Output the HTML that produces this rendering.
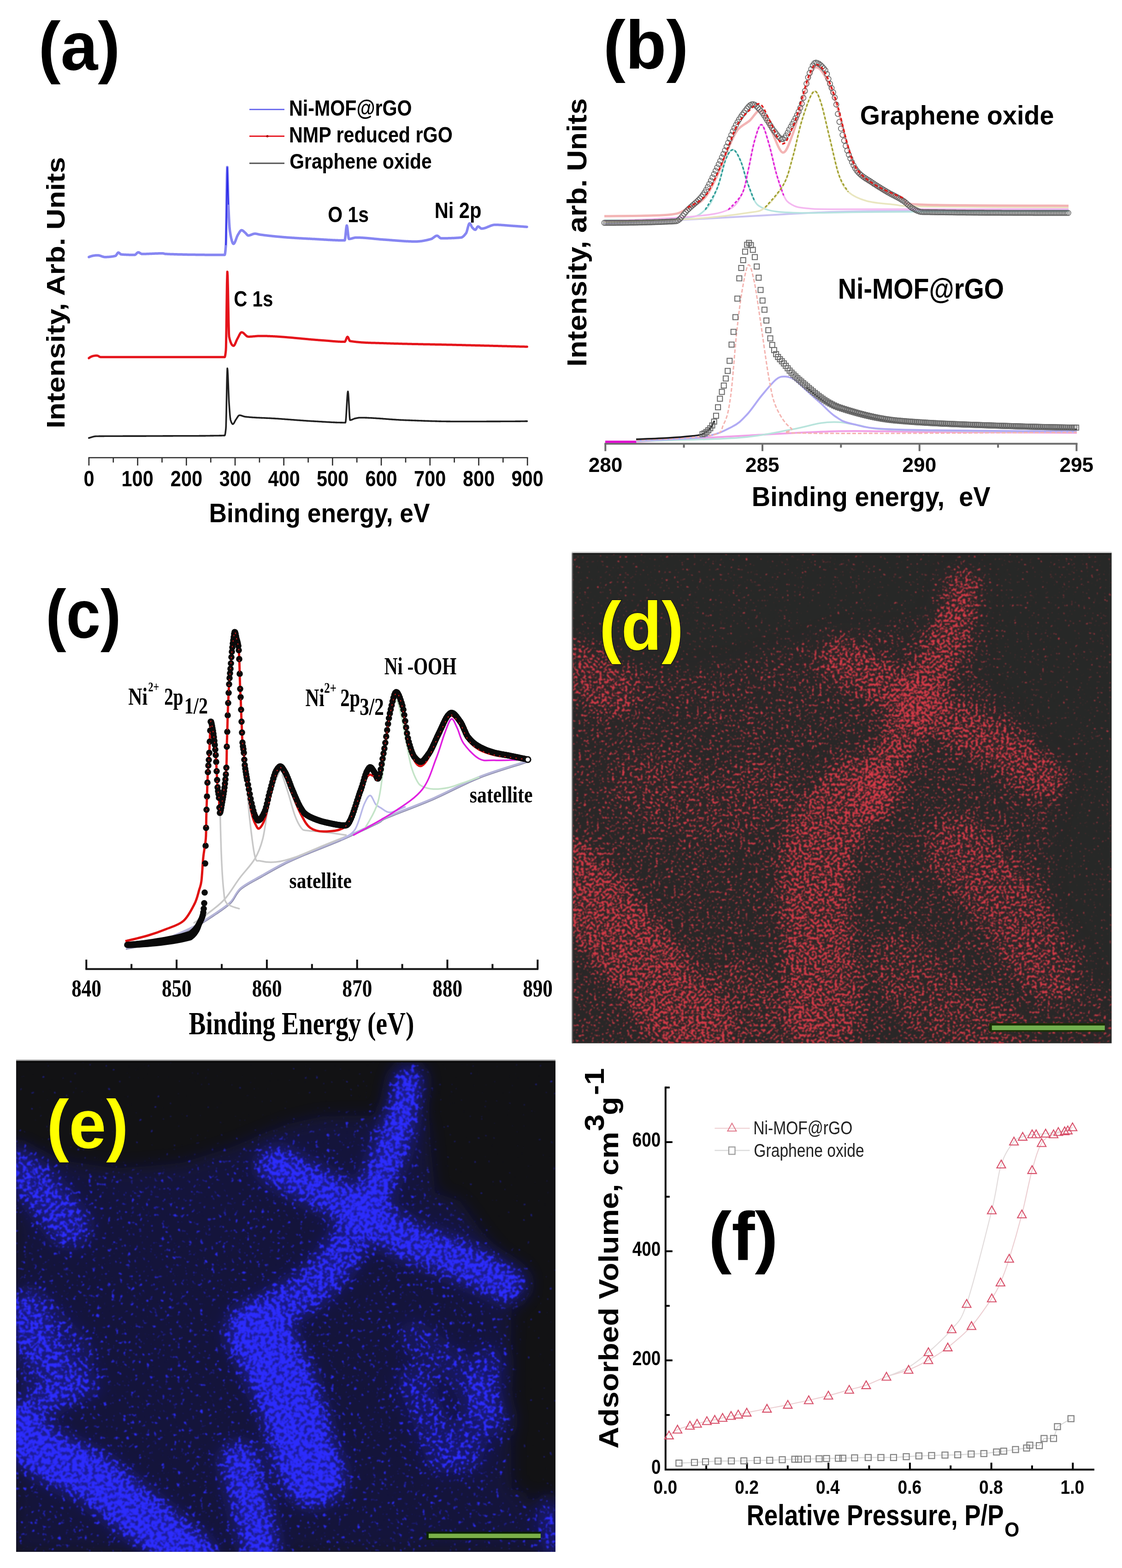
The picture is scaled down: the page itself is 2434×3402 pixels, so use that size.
<!DOCTYPE html>
<html><head><meta charset="utf-8"><title>Figure</title>
<style>html,body{margin:0;padding:0;background:#fff;}svg{display:block;}</style></head>
<body><svg width="2434" height="3402" viewBox="0 0 2434 3402"><g stroke="#2b2b2b" stroke-width="2.6" fill="none"><path d="M191.6 993.0H1145.5"/><path d="M192.9 993.0v17M298.6 993.0v17M404.3 993.0v17M510 993.0v17M615.7 993.0v17M721.4 993.0v17M827.1 993.0v17M932.8 993.0v17M1038.5 993.0v17M1144.2 993.0v17M245.8 993.0v10.5M351.5 993.0v10.5M457.2 993.0v10.5M562.9 993.0v10.5M668.6 993.0v10.5M774.2 993.0v10.5M880 993.0v10.5M985.6 993.0v10.5M1091.3 993.0v10.5"/></g>
<path d="M192.8 557.7 L193.5 557.4 L194.2 557.1 L194.9 556.8 L195.6 556.6 L196.3 556.3 L197 556.1 L197.7 555.9 L198.4 555.7 L199.1 555.5 L199.8 555.3 L200.5 555.2 L201.2 555 L201.9 554.9 L202.6 554.7 L203.3 554.6 L204 554.5 L204.7 554.4 L205.4 554.3 L206.1 554.2 L206.8 554.1 L207.5 554.1 L208.2 554 L208.9 554 L209.6 553.9 L210.3 553.9 L211 553.9 L211.7 553.9 L212 553.9 L212.4 553.9 L213.1 554 L213.8 554 L214.5 554.1 L215.2 554.3 L215.9 554.5 L216.6 554.7 L217.3 554.9 L218 555.1 L218.7 555.3 L219.4 555.6 L220.1 555.8 L220.8 556.1 L221.5 556.3 L222.2 556.6 L222.9 556.8 L223.6 557 L224.3 557.2 L225 557.3 L225.7 557.5 L226.4 557.6 L227.1 557.7 L227.8 557.7 L228 557.7 L228.5 557.7 L229.2 557.7 L229.9 557.7 L230.6 557.7 L231.3 557.7 L232 557.6 L232.7 557.6 L233.4 557.6 L234.1 557.5 L234.8 557.5 L235.5 557.4 L236.2 557.4 L236.9 557.3 L237.6 557.3 L238.3 557.2 L239 557.1 L239.7 557.1 L240.4 557 L241.1 556.9 L241.8 556.8 L242.5 556.7 L243.2 556.6 L243.9 556.5 L244.6 556.4 L245.3 556.3 L246 556.1 L246.7 556 L247.4 555.9 L248.1 555.7 L248.8 555.6 L249.5 555.4 L250.2 555.2 L250.4 555.2 L250.9 555 L251.6 554.3 L252.3 553.4 L253 552.4 L253.7 551.2 L254.4 550.1 L255.1 549.2 L255.8 548.4 L256.5 548 L256.8 548 L257.2 548 L257.9 548.3 L258.6 548.8 L259.3 549.4 L260 550 L260.7 550.7 L261.4 551.3 L262.1 551.7 L262.8 552 L263 552 L263.5 552 L264.2 552.1 L264.9 552.1 L265.6 552.2 L266.3 552.2 L267 552.3 L267.7 552.3 L268.4 552.4 L269.1 552.4 L269.8 552.5 L270.5 552.5 L271.2 552.5 L271.9 552.6 L272.6 552.6 L273.3 552.6 L274 552.7 L274.7 552.7 L275.4 552.7 L276.1 552.7 L276.8 552.8 L277.5 552.8 L278.2 552.8 L278.9 552.8 L279.6 552.9 L280.3 552.9 L281 552.9 L281.7 552.9 L282.4 552.9 L283.1 552.9 L283.8 552.9 L284.5 553 L285.2 553 L285.9 553 L286.6 553 L287.3 553 L288 553 L288.7 553 L289.4 553 L290.1 553 L290.8 553 L291.5 553 L292 553 L292.2 553 L292.9 552.8 L293.6 552.4 L294.3 551.9 L295 551.3 L295.7 550.6 L296.4 549.8 L297.1 549.1 L297.8 548.5 L298.5 548 L299.2 547.7 L299.9 547.5 L300 547.5 L300.6 547.6 L301.3 547.7 L302 548 L302.7 548.4 L303.4 548.9 L304.1 549.3 L304.8 549.8 L305.5 550.2 L306.2 550.5 L306.9 550.8 L307.6 551 L308 551 L308.3 551 L309 551 L309.7 551 L310.4 551 L311.1 551 L311.8 551 L312.5 551 L313.2 551 L313.9 550.9 L314.6 550.9 L315.3 550.9 L316 550.9 L316.7 550.9 L317.4 550.9 L318.1 550.8 L318.8 550.8 L319.5 550.8 L320.2 550.8 L320.9 550.7 L321.6 550.7 L322.3 550.7 L323 550.7 L323.7 550.6 L324.4 550.6 L325.1 550.6 L325.8 550.6 L326.5 550.5 L327.2 550.5 L327.9 550.5 L328.6 550.4 L329.3 550.4 L330 550.4 L330.7 550.3 L331.4 550.3 L332.1 550.3 L332.8 550.3 L333.5 550.2 L334.2 550.2 L334.9 550.2 L335.6 550.1 L336.3 550.1 L337 550.1 L337.7 550 L338.4 550 L339.1 550 L339.8 550 L340.5 549.9 L341.2 549.9 L341.9 549.9 L342.6 549.9 L343.3 549.9 L344 549.8 L344.7 549.8 L345.4 549.8 L346.1 549.8 L346.8 549.8 L347.5 549.8 L348.2 549.7 L348.9 549.7 L349.6 549.7 L350.3 549.7 L351 549.7 L351.7 549.7 L352.4 549.7 L353 549.7 L353.1 549.7 L353.8 549.8 L354.5 549.9 L355.2 550.1 L355.9 550.3 L356.6 550.5 L357.3 550.7 L358 550.9 L358.7 551 L359 551 L359.4 551 L360.1 551 L360.8 551.1 L361.5 551.1 L362.2 551.1 L362.9 551.1 L363.6 551.2 L364.3 551.2 L365 551.2 L365.7 551.3 L366.4 551.3 L367.1 551.3 L367.8 551.3 L368.5 551.4 L369.2 551.4 L369.9 551.4 L370.6 551.4 L371.3 551.4 L372 551.5 L372.7 551.5 L373.4 551.5 L374.1 551.5 L374.8 551.6 L375.5 551.6 L376.2 551.6 L376.9 551.6 L377.6 551.7 L378.3 551.7 L379 551.7 L379.7 551.7 L380.4 551.7 L381.1 551.8 L381.8 551.8 L382.5 551.8 L383.2 551.8 L383.9 551.8 L384.6 551.9 L385.3 551.9 L386 551.9 L386.7 551.9 L387.4 551.9 L388.1 551.9 L388.8 552 L389.5 552 L390.2 552 L390.9 552 L391.6 552 L392.3 552.1 L393 552.1 L393.7 552.1 L394.4 552.1 L395.1 552.1 L395.8 552.1 L396.5 552.2 L397.2 552.2 L397.9 552.2 L398.6 552.2 L399.3 552.2 L400 552.2 L400.7 552.2 L401.4 552.3 L402.1 552.3 L402.8 552.3 L403.5 552.3 L404.2 552.3 L404.9 552.3 L405.6 552.3 L406.3 552.4 L407 552.4 L407.7 552.4 L408.4 552.4 L409.1 552.4 L409.8 552.4 L410.5 552.4 L411.2 552.4 L411.9 552.5 L412.6 552.5 L413.3 552.5 L414 552.5 L414.7 552.5 L415.4 552.5 L416.1 552.5 L416.8 552.5 L417.5 552.6 L418.2 552.6 L418.9 552.6 L419.6 552.6 L420.3 552.6 L421 552.6 L421.7 552.6 L422.4 552.6 L423.1 552.6 L423.8 552.6 L424.5 552.7 L425.2 552.7 L425.9 552.7 L426.6 552.7 L427.3 552.7 L428 552.7 L428.7 552.7 L429.4 552.7 L430.1 552.7 L430.8 552.7 L431.5 552.7 L432.2 552.7 L432.9 552.7 L433.6 552.8 L434.3 552.8 L435 552.8 L435.7 552.8 L436.4 552.8 L437.1 552.8 L437.8 552.8 L438.5 552.8 L439.2 552.8 L439.9 552.8 L440.6 552.8 L441.3 552.8 L442 552.8 L442.7 552.8 L443.4 552.8 L444.1 552.9 L444.8 552.9 L445.5 552.9 L446.2 552.9 L446.9 552.9 L447.6 552.9 L448.3 552.9 L449 552.9 L449.7 552.9 L450.4 552.9 L451.1 552.9 L451.8 552.9 L452.5 552.9 L453.2 552.9 L453.9 552.9 L454.6 552.9 L455.3 552.9 L456 552.9 L456.7 552.9 L457.4 552.9 L458.1 552.9 L458.8 552.9 L459.5 552.9 L460.2 552.9 L460.9 553 L461.6 553 L462.3 553 L463 553 L463.7 553 L464.4 553 L465.1 553 L465.8 553 L466.5 553 L467.2 553 L467.9 553 L468.6 553 L469.3 553 L470 553 L470.7 553 L471.4 553 L472.1 553 L472.8 553 L473.5 553 L474.2 553 L474.9 553 L475.6 553 L476.3 553 L477 553 L477.7 553 L478.4 553 L479.1 553 L479.8 553 L480.5 553 L481.2 553 L481.9 553 L482.6 553 L483.3 553 L484 553 L484.7 553 L485.4 553 L486.1 553 L486.8 553 L487.4 553 L487.5 553 L488.2 550.6 L488.9 545.2 L489.6 537.3 L490 532 L490.3 523.9 L491 481.9 L491.7 425.9 L492.4 378.7 L493 362.4 L493.1 362.7 L493.8 379.4 L494.5 409.9 L495.2 438.5 L495.4 444 L495.9 455.6 L496.6 470.9 L497.3 484.1 L498 494.4 L498.6 500 L498.7 500.7 L499.4 505.1 L500.1 509.2 L500.8 513 L501.5 516.5 L502.2 519.5 L502.9 522.2 L503.6 524.5 L504.3 526.3 L505 527.7 L505.7 528.6 L506.4 529 L506.6 529 L507.1 528.9 L507.8 528.3 L508.5 527.4 L509.2 526.2 L509.9 524.7 L510.6 523 L511.3 521.2 L512 519.3 L512.7 517.3 L513.4 515.4 L514.1 513.6 L514.8 512 L515.5 510.6 L516 509.7 L516.2 509.4 L516.9 508.2 L517.6 507 L518.3 505.8 L519 504.6 L519.7 503.5 L520.4 502.4 L521.1 501.5 L521.8 500.7 L522.5 500.1 L523.2 499.7 L523.9 499.5 L524 499.5 L524.6 499.6 L525.3 499.7 L526 500.1 L526.7 500.5 L527.4 501 L528.1 501.5 L528.8 502.2 L529.5 502.8 L530.2 503.4 L530.9 504.1 L531.6 504.7 L532 505 L532.3 505.3 L533 505.9 L533.7 506.7 L534.4 507.6 L535.1 508.4 L535.8 509.2 L536.5 509.9 L537.2 510.5 L537.9 510.9 L538.6 511 L538.6 511 L539.3 511 L540 510.9 L540.7 510.8 L541.4 510.6 L542.1 510.4 L542.8 510.2 L543.5 509.9 L544.2 509.7 L544.9 509.4 L545.6 509.1 L546.3 508.8 L547 508.5 L547.7 508.2 L548.4 508 L549.1 507.7 L549.8 507.5 L550.5 507.3 L551.2 507.2 L551.9 507.1 L552.6 507 L553 507 L553.3 507 L554 507 L554.7 507.1 L555.4 507.2 L556.1 507.3 L556.8 507.4 L557.5 507.6 L558.2 507.7 L558.9 507.9 L559.6 508.1 L560.3 508.2 L561 508.4 L561.7 508.6 L562.4 508.7 L563.1 508.9 L563.8 509 L564 509 L564.5 509.1 L565.2 509.2 L565.9 509.3 L566.6 509.4 L567.3 509.5 L568 509.5 L568.7 509.6 L569.4 509.7 L570.1 509.8 L570.8 509.9 L571.5 510 L572.2 510.1 L572.9 510.2 L573.6 510.3 L574.3 510.4 L575 510.4 L575.7 510.5 L576.4 510.6 L577.1 510.7 L577.8 510.8 L578.5 510.9 L579.2 511 L579.9 511 L580.6 511.1 L581.3 511.2 L582 511.3 L582.7 511.4 L583.4 511.4 L584.1 511.5 L584.8 511.6 L585.5 511.7 L586.2 511.8 L586.9 511.8 L587.6 511.9 L588.3 512 L589 512.1 L589.7 512.1 L590.4 512.2 L591.1 512.3 L591.8 512.4 L592.5 512.4 L593.2 512.5 L593.9 512.6 L594.6 512.6 L595.3 512.7 L596 512.8 L596.7 512.9 L597.4 512.9 L598.1 513 L598.8 513.1 L599.5 513.1 L600.2 513.2 L600.9 513.3 L601.6 513.3 L602.3 513.4 L603 513.5 L603.7 513.5 L604.4 513.6 L605.1 513.6 L605.8 513.7 L606.5 513.8 L607.2 513.8 L607.9 513.9 L608.6 514 L609.3 514 L610 514.1 L610.7 514.1 L611.4 514.2 L612.1 514.3 L612.8 514.3 L613.5 514.4 L614.2 514.4 L614.9 514.5 L615.6 514.5 L616.3 514.6 L617 514.7 L617.7 514.7 L618.4 514.8 L619.1 514.8 L619.8 514.9 L620.5 514.9 L621.2 515 L621.9 515 L622.6 515.1 L623.3 515.2 L624 515.2 L624.7 515.3 L625.4 515.3 L626.1 515.4 L626.8 515.4 L627.5 515.5 L628 515.5 L628.2 515.5 L628.9 515.6 L629.6 515.6 L630.3 515.7 L631 515.7 L631.7 515.8 L632.4 515.8 L633.1 515.9 L633.8 515.9 L634.5 516 L635.2 516 L635.9 516 L636.6 516.1 L637.3 516.1 L638 516.2 L638.7 516.2 L639.4 516.3 L640.1 516.3 L640.8 516.4 L641.5 516.4 L642.2 516.5 L642.9 516.5 L643.6 516.5 L644.3 516.6 L645 516.6 L645.7 516.7 L646.4 516.7 L647.1 516.7 L647.8 516.8 L648.5 516.8 L649.2 516.9 L649.9 516.9 L650.6 516.9 L651.3 517 L652 517 L652.7 517.1 L653.4 517.1 L654.1 517.1 L654.8 517.2 L655.5 517.2 L656.2 517.3 L656.9 517.3 L657.6 517.3 L658.3 517.4 L659 517.4 L659.7 517.5 L660.4 517.5 L661.1 517.5 L661.8 517.6 L662.5 517.6 L663.2 517.6 L663.9 517.7 L664.6 517.7 L665.3 517.7 L666 517.8 L666.7 517.8 L667.4 517.9 L668.1 517.9 L668.8 517.9 L669.5 518 L670.2 518 L670.9 518 L671.6 518.1 L672.3 518.1 L673 518.1 L673.7 518.2 L674.4 518.2 L675.1 518.2 L675.8 518.3 L676.5 518.3 L677.2 518.4 L677.9 518.4 L678.6 518.4 L679.3 518.5 L680 518.5 L680 518.5 L680.7 518.5 L681.4 518.6 L682.1 518.6 L682.8 518.6 L683.5 518.7 L684.2 518.7 L684.9 518.8 L685.6 518.8 L686.3 518.8 L687 518.9 L687.7 518.9 L688.4 519 L689.1 519 L689.8 519 L690.5 519.1 L691.2 519.1 L691.9 519.2 L692.6 519.2 L693.3 519.3 L694 519.3 L694.7 519.3 L695.4 519.4 L696.1 519.4 L696.8 519.5 L697.5 519.5 L698.2 519.6 L698.9 519.6 L699.6 519.6 L700.3 519.7 L701 519.7 L701.7 519.8 L702.4 519.8 L703.1 519.9 L703.8 519.9 L704.5 519.9 L705.2 520 L705.9 520 L706.6 520.1 L707.3 520.1 L708 520.1 L708.7 520.2 L709.4 520.2 L710.1 520.3 L710.8 520.3 L711.5 520.4 L712.2 520.4 L712.9 520.4 L713.6 520.5 L714.3 520.5 L715 520.5 L715.7 520.6 L716.4 520.6 L717.1 520.7 L717.8 520.7 L718.5 520.7 L719.2 520.8 L719.9 520.8 L720.6 520.8 L721.3 520.9 L722 520.9 L722.7 520.9 L723.4 521 L724.1 521 L724.8 521 L725.5 521.1 L726.2 521.1 L726.9 521.1 L727.6 521.2 L728.3 521.2 L729 521.2 L729.7 521.2 L730.4 521.3 L731.1 521.3 L731.8 521.3 L732.5 521.3 L733.2 521.4 L733.9 521.4 L734.6 521.4 L735.3 521.4 L736 521.4 L736.7 521.5 L737.4 521.5 L738.1 521.5 L738.8 521.5 L739.5 521.5 L740.2 521.5 L740.9 521.5 L741.6 521.6 L742.3 521.6 L743 521.6 L743.7 521.6 L744.4 521.6 L745.1 521.6 L745.8 521.6 L746.5 521.6 L747.2 521.6 L747.7 521.6 L747.9 521.4 L748.6 518.4 L749.3 512.6 L750 505.5 L750.7 498.3 L751.4 492.5 L752.1 489.5 L752.3 489.3 L752.8 490.2 L753.5 494 L754.2 499.8 L754.9 506.2 L755.6 512.3 L756.3 516.7 L757 518.5 L757 518.5 L757.7 518.5 L758.4 518.4 L759.1 518.3 L759.8 518.2 L760.5 518.1 L761.2 517.9 L761.9 517.8 L762.6 517.6 L763.3 517.4 L764 517.2 L764.7 517 L765.4 516.7 L766.1 516.5 L766.8 516.3 L767.5 516.1 L768.2 516 L768.9 515.8 L769.6 515.7 L770.3 515.6 L771 515.5 L771.7 515.4 L772.4 515.4 L772.4 515.4 L773.1 515.4 L773.8 515.4 L774.5 515.4 L775.2 515.4 L775.9 515.4 L776.6 515.4 L777.3 515.5 L778 515.5 L778.7 515.5 L779.4 515.5 L780.1 515.5 L780.8 515.6 L781.5 515.6 L782.2 515.6 L782.9 515.7 L783.6 515.7 L784.3 515.7 L785 515.8 L785.7 515.8 L786.4 515.8 L787.1 515.9 L787.8 515.9 L788.5 516 L789.2 516 L789.9 516.1 L790.6 516.1 L791.3 516.2 L792 516.2 L792.7 516.3 L793.4 516.3 L794.1 516.4 L794.8 516.4 L795.5 516.5 L796.2 516.6 L796.9 516.6 L797.6 516.7 L798.3 516.7 L799 516.8 L799.7 516.9 L800.4 516.9 L801.1 517 L801.8 517.1 L802.5 517.1 L803.2 517.2 L803.9 517.3 L804.6 517.3 L805.3 517.4 L806 517.5 L806.7 517.5 L807.4 517.6 L808.1 517.7 L808.8 517.7 L809.5 517.8 L810.2 517.9 L810.9 517.9 L811.6 518 L812.3 518.1 L813 518.2 L813.7 518.2 L814.4 518.3 L815.1 518.4 L815.8 518.4 L816.5 518.5 L817.2 518.6 L817.9 518.6 L818.6 518.7 L819.3 518.8 L820 518.8 L820.7 518.9 L821.4 519 L822.1 519 L822.8 519.1 L823.5 519.2 L824.2 519.2 L824.9 519.3 L825.6 519.4 L826.3 519.4 L827 519.5 L827.7 519.5 L828.4 519.6 L829.1 519.6 L829.8 519.7 L830.5 519.8 L831.2 519.8 L831.9 519.9 L832.6 519.9 L833.3 520 L834 520 L834 520 L834.7 520 L835.4 520.1 L836.1 520.1 L836.8 520.2 L837.5 520.2 L838.2 520.3 L838.9 520.3 L839.6 520.4 L840.3 520.4 L841 520.5 L841.7 520.5 L842.4 520.6 L843.1 520.6 L843.8 520.7 L844.5 520.8 L845.2 520.8 L845.9 520.9 L846.6 520.9 L847.3 521 L848 521 L848.7 521.1 L849.4 521.1 L850.1 521.2 L850.8 521.2 L851.5 521.3 L852.2 521.4 L852.9 521.4 L853.6 521.5 L854.3 521.5 L855 521.6 L855.7 521.6 L856.4 521.7 L857.1 521.7 L857.8 521.8 L858.5 521.9 L859.2 521.9 L859.9 522 L860.6 522 L861.3 522.1 L862 522.1 L862.7 522.2 L863.4 522.2 L864.1 522.3 L864.8 522.3 L865.5 522.4 L866.2 522.4 L866.9 522.5 L867.6 522.5 L868.3 522.6 L869 522.6 L869.7 522.7 L870.4 522.7 L871.1 522.8 L871.8 522.8 L872.5 522.9 L873.2 522.9 L873.9 523 L874.6 523 L875.3 523.1 L876 523.1 L876.7 523.2 L877.4 523.2 L878.1 523.2 L878.8 523.3 L879.5 523.3 L880.2 523.4 L880.9 523.4 L881.6 523.4 L882.3 523.5 L883 523.5 L883.7 523.5 L884.4 523.6 L885.1 523.6 L885.8 523.6 L886.5 523.7 L887.2 523.7 L887.9 523.7 L888.6 523.7 L889.3 523.8 L890 523.8 L890.7 523.8 L891.4 523.8 L892.1 523.9 L892.8 523.9 L893.5 523.9 L894.2 523.9 L894.9 523.9 L895.6 523.9 L896.3 524 L897 524 L897.7 524 L898.4 524 L899.1 524 L899.8 524 L900.5 524 L901.2 524 L901.7 524 L901.9 524 L902.6 524 L903.3 524 L904 524 L904.7 523.9 L905.4 523.9 L906.1 523.9 L906.8 523.8 L907.5 523.8 L908.2 523.7 L908.9 523.7 L909.6 523.6 L910.3 523.6 L911 523.5 L911.7 523.4 L912.4 523.3 L913.1 523.2 L913.8 523.2 L914.5 523.1 L915.2 523 L915.9 522.9 L916.6 522.8 L917.3 522.6 L918 522.5 L918.7 522.4 L919.4 522.3 L920.1 522.1 L920.8 522 L921.5 521.9 L922.2 521.7 L922.9 521.6 L923.6 521.4 L924.3 521.3 L925 521.1 L925.7 521 L926.4 520.8 L927.1 520.7 L927.8 520.5 L928.5 520.3 L929.2 520.2 L929.9 520 L930.6 519.8 L931.3 519.6 L932 519.4 L932.7 519.3 L933.4 519.1 L934.1 518.9 L934.8 518.7 L935.5 518.5 L935.5 518.5 L936.2 518.3 L936.9 517.9 L937.6 517.6 L938.3 517.1 L939 516.6 L939.7 516.1 L940.4 515.6 L941.1 515 L941.8 514.5 L942.5 513.9 L943.2 513.4 L943.9 512.9 L944.6 512.5 L945.3 512.1 L946 511.8 L946.7 511.6 L947.4 511.4 L948 511.4 L948.1 511.4 L948.8 511.5 L949.5 511.8 L950.2 512.2 L950.9 512.8 L951.6 513.4 L952.3 514 L953 514.7 L953.7 515.3 L954.4 515.9 L955.1 516.4 L955.8 516.7 L956.5 517 L957 517 L957.2 517 L957.9 517 L958.6 517 L959.3 517 L960 517 L960.7 517 L961.4 517 L962.1 517 L962.8 517 L963.5 517 L964.2 517 L964.9 517 L965.6 517 L966.3 516.9 L967 516.9 L967.7 516.9 L968.4 516.9 L969.1 516.9 L969.8 516.9 L970.5 516.9 L971.2 516.9 L971.9 516.9 L972.6 516.8 L973.3 516.8 L974 516.8 L974.7 516.8 L975.4 516.8 L976.1 516.7 L976.8 516.7 L977.5 516.7 L978.2 516.7 L978.9 516.7 L979.6 516.6 L980.3 516.6 L981 516.6 L981.7 516.5 L982.4 516.5 L983.1 516.5 L983.8 516.5 L984.5 516.4 L985.2 516.4 L985.9 516.4 L986.6 516.3 L987.3 516.3 L988 516.2 L988.7 516.2 L989.4 516.2 L990.1 516.1 L990.8 516.1 L991.5 516 L992.2 516 L992.9 515.9 L993.6 515.9 L994.3 515.9 L995 515.8 L995.7 515.7 L996.4 515.7 L997.1 515.6 L997.8 515.6 L998.5 515.5 L999.2 515.5 L999.9 515.4 L1000 515.4 L1000.6 515.3 L1001.3 515.1 L1002 514.9 L1002.7 514.5 L1003.4 514.1 L1004.1 513.6 L1004.8 513.1 L1005.5 512.4 L1006.2 511.8 L1006.9 511 L1007.6 510.3 L1008.3 509.4 L1009 508.6 L1009.7 507.7 L1010.4 506.8 L1011 506 L1011.1 505.9 L1011.8 504.5 L1012.5 502.6 L1013.2 500.3 L1013.9 497.7 L1014.6 495 L1015.3 492.4 L1016 489.9 L1016.7 487.7 L1017.4 486.1 L1018.1 485 L1018.7 484.7 L1018.8 484.7 L1019.5 485 L1020.2 485.8 L1020.9 487 L1021.6 488.3 L1022.3 489.7 L1023 491.2 L1023.7 492.5 L1024.4 493.5 L1024.8 494 L1025.1 494.3 L1025.8 495 L1026.5 495.7 L1027.2 496.4 L1027.9 497 L1028.6 497.6 L1029.3 498 L1030 498.3 L1030.7 498.5 L1031 498.5 L1031.4 498.4 L1032.1 497.9 L1032.8 497 L1033.5 495.8 L1034.2 494.6 L1034.9 493.4 L1035.6 492.4 L1036.3 491.7 L1037 491.4 L1037 491.4 L1037.7 491.5 L1038.4 491.8 L1039.1 492.2 L1039.8 492.8 L1040.5 493.3 L1041.2 494 L1041.9 494.6 L1042.6 495.1 L1043.3 495.6 L1044 495.9 L1044.7 496 L1044.8 496 L1045.4 496 L1046.1 496 L1046.8 495.9 L1047.5 495.8 L1048.2 495.7 L1048.9 495.6 L1049.6 495.4 L1050.3 495.2 L1051 495 L1051.7 494.8 L1052.4 494.6 L1053.1 494.4 L1053.8 494.1 L1054.5 493.9 L1055.2 493.6 L1055.9 493.3 L1056.6 493 L1057.3 492.7 L1058 492.4 L1058.7 492.1 L1059.4 491.9 L1060.1 491.6 L1060.8 491.3 L1061.5 491 L1062.2 490.7 L1062.9 490.4 L1063.6 490.1 L1064.3 489.8 L1065 489.6 L1065.7 489.3 L1066.4 489.1 L1067.1 488.9 L1067.8 488.7 L1068.5 488.5 L1069.2 488.3 L1069.9 488.1 L1070.6 488 L1071.3 487.9 L1072 487.8 L1072.7 487.7 L1073.4 487.7 L1074 487.7 L1074.1 487.7 L1074.8 487.7 L1075.5 487.7 L1076.2 487.7 L1076.9 487.7 L1077.6 487.7 L1078.3 487.8 L1079 487.8 L1079.7 487.8 L1080.4 487.8 L1081.1 487.8 L1081.8 487.9 L1082.5 487.9 L1083.2 487.9 L1083.9 488 L1084.6 488 L1085.3 488.1 L1086 488.1 L1086.7 488.1 L1087.4 488.2 L1088.1 488.2 L1088.8 488.3 L1089.5 488.3 L1090.2 488.4 L1090.9 488.4 L1091.6 488.5 L1092.3 488.5 L1093 488.6 L1093.7 488.6 L1094.4 488.7 L1095.1 488.7 L1095.8 488.8 L1096.5 488.9 L1097.2 488.9 L1097.9 489 L1098.6 489 L1099.3 489.1 L1100 489.1 L1100.7 489.2 L1101.4 489.3 L1102.1 489.3 L1102.8 489.4 L1103.5 489.4 L1104.2 489.5 L1104.9 489.5 L1105.6 489.6 L1106.3 489.7 L1107 489.7 L1107.7 489.8 L1108.4 489.8 L1109.1 489.9 L1109.8 489.9 L1110.5 490 L1111 490 L1111.2 490 L1111.9 490.1 L1112.6 490.1 L1113.3 490.2 L1114 490.2 L1114.7 490.2 L1115.4 490.3 L1116.1 490.3 L1116.8 490.4 L1117.5 490.4 L1118.2 490.5 L1118.9 490.5 L1119.6 490.6 L1120.3 490.6 L1121 490.7 L1121.7 490.7 L1122.4 490.8 L1123.1 490.8 L1123.8 490.9 L1124.5 490.9 L1125.2 491 L1125.9 491 L1126.6 491.1 L1127.3 491.1 L1128 491.2 L1128.7 491.2 L1129.4 491.3 L1130.1 491.3 L1130.8 491.4 L1131.5 491.4 L1132.2 491.5 L1132.9 491.5 L1133.6 491.6 L1134.3 491.6 L1135 491.7 L1135.7 491.7 L1136.4 491.8 L1137.1 491.9 L1137.8 491.9 L1138.5 492 L1139.2 492 L1139.9 492.1 L1140.6 492.1 L1141.3 492.2 L1142 492.2 L1142.7 492.3 L1143 492.3" stroke="#8686f2" stroke-width="5.5" fill="none" stroke-linejoin="round" stroke-linecap="round"/>
<path d="M490 532L493 362.4L495.4 444" stroke="#2a2ae8" stroke-width="2.4" fill="none"/>
<path d="M192.8 777 L193.5 776.5 L194.2 775.9 L194.9 775.5 L195.6 775 L196.3 774.6 L197 774.3 L197.7 773.9 L198.4 773.6 L199.1 773.3 L199.8 773 L200.5 772.8 L201.2 772.6 L201.9 772.4 L202.6 772.2 L203.3 772.1 L204 772 L204.7 771.9 L205.4 771.8 L206.1 771.7 L206.8 771.6 L207.5 771.6 L208.2 771.5 L208.9 771.5 L209.6 771.5 L210.3 771.5 L210.4 771.5 L211 771.6 L211.7 771.7 L212.4 772 L213.1 772.3 L213.8 772.7 L214.5 773.2 L215.2 773.6 L215.9 774 L216.6 774.3 L217.3 774.5 L218 774.7 L218.4 774.7 L218.7 774.7 L219.4 774.7 L220.1 774.7 L220.8 774.7 L221.5 774.7 L222.2 774.7 L222.9 774.7 L223.6 774.7 L224.3 774.7 L225 774.7 L225.7 774.7 L226.4 774.7 L227.1 774.7 L227.8 774.7 L228.5 774.7 L229.2 774.7 L229.9 774.7 L230.6 774.7 L231.3 774.7 L232 774.7 L232.7 774.7 L233.4 774.7 L234.1 774.7 L234.8 774.7 L235.5 774.7 L236.2 774.7 L236.9 774.7 L237.6 774.7 L238.3 774.7 L239 774.7 L239.7 774.7 L240.4 774.7 L241.1 774.7 L241.8 774.7 L242.5 774.7 L243.2 774.7 L243.9 774.7 L244.6 774.7 L245.3 774.7 L246 774.7 L246.7 774.7 L247.4 774.7 L248.1 774.7 L248.8 774.7 L249.5 774.7 L250.2 774.7 L250.9 774.7 L251.6 774.7 L252.3 774.7 L253 774.7 L253.7 774.7 L254.4 774.7 L255.1 774.7 L255.8 774.7 L256.5 774.7 L257.2 774.7 L257.9 774.7 L258.6 774.7 L259.3 774.7 L260 774.7 L260.7 774.7 L261.4 774.7 L262.1 774.7 L262.8 774.7 L263.5 774.7 L264.2 774.7 L264.9 774.7 L265.6 774.7 L266.3 774.7 L267 774.7 L267.7 774.7 L268.4 774.7 L269.1 774.7 L269.8 774.7 L270.5 774.7 L271.2 774.7 L271.9 774.7 L272.6 774.7 L273.3 774.7 L274 774.7 L274.7 774.7 L275.4 774.7 L276.1 774.7 L276.8 774.7 L277.5 774.7 L278.2 774.7 L278.9 774.7 L279.6 774.7 L280.3 774.7 L281 774.7 L281.7 774.7 L282.4 774.7 L283.1 774.7 L283.8 774.7 L284.5 774.7 L285.2 774.7 L285.9 774.7 L286.6 774.7 L287.3 774.7 L288 774.7 L288.7 774.7 L289.4 774.7 L290.1 774.7 L290.8 774.7 L291.5 774.7 L292.2 774.7 L292.9 774.7 L293.6 774.7 L294.3 774.7 L295 774.7 L295.7 774.7 L296.4 774.7 L297.1 774.7 L297.8 774.7 L298.5 774.7 L299.2 774.7 L299.9 774.7 L300.6 774.7 L301.3 774.7 L302 774.7 L302.7 774.7 L303.4 774.7 L304.1 774.7 L304.8 774.7 L305.5 774.7 L306.2 774.7 L306.9 774.7 L307.6 774.7 L308.3 774.7 L309 774.7 L309.7 774.7 L310.4 774.7 L311.1 774.7 L311.8 774.7 L312.5 774.7 L313.2 774.7 L313.9 774.7 L314.6 774.7 L315.3 774.7 L316 774.7 L316.7 774.7 L317.4 774.7 L318.1 774.7 L318.8 774.7 L319.5 774.7 L320.2 774.7 L320.9 774.7 L321.6 774.7 L322.3 774.7 L323 774.7 L323.7 774.7 L324.4 774.7 L325.1 774.7 L325.8 774.7 L326.5 774.7 L327.2 774.7 L327.9 774.7 L328.6 774.7 L329.3 774.7 L330 774.7 L330.7 774.7 L331.4 774.7 L332.1 774.7 L332.8 774.7 L333.5 774.7 L334.2 774.7 L334.9 774.7 L335.6 774.7 L336.3 774.7 L337 774.7 L337.7 774.7 L338.4 774.7 L339.1 774.7 L339.8 774.7 L340.5 774.7 L341.2 774.7 L341.9 774.7 L342.6 774.7 L343.3 774.7 L344 774.7 L344.7 774.7 L345.4 774.7 L346.1 774.7 L346.8 774.7 L347.5 774.7 L348.2 774.7 L348.9 774.7 L349.6 774.7 L350.3 774.7 L351 774.7 L351.7 774.7 L352.4 774.7 L353.1 774.7 L353.8 774.7 L354.5 774.7 L355.2 774.7 L355.9 774.7 L356.6 774.7 L357.3 774.7 L358 774.7 L358.7 774.7 L359.4 774.7 L360.1 774.7 L360.8 774.7 L361.5 774.7 L362.2 774.7 L362.9 774.7 L363.6 774.7 L364.3 774.7 L365 774.7 L365.7 774.7 L366.4 774.7 L367.1 774.7 L367.8 774.7 L368.5 774.7 L369.2 774.7 L369.9 774.7 L370.6 774.7 L371.3 774.7 L372 774.7 L372.7 774.7 L373.4 774.7 L374.1 774.7 L374.8 774.7 L375.5 774.7 L376.2 774.7 L376.9 774.7 L377.6 774.7 L378.3 774.7 L379 774.7 L379.7 774.7 L380.4 774.7 L381.1 774.7 L381.8 774.7 L382.5 774.7 L383.2 774.7 L383.9 774.7 L384.6 774.7 L385.3 774.7 L386 774.7 L386.7 774.7 L387.4 774.7 L388.1 774.7 L388.8 774.7 L389.5 774.7 L390.2 774.7 L390.9 774.7 L391.6 774.7 L392.3 774.7 L393 774.7 L393.7 774.7 L394.4 774.7 L395.1 774.7 L395.8 774.7 L396.5 774.7 L397.2 774.7 L397.9 774.7 L398.6 774.7 L399.3 774.7 L400 774.7 L400.7 774.7 L401.4 774.7 L402.1 774.7 L402.8 774.7 L403.5 774.7 L404.2 774.7 L404.9 774.7 L405.6 774.7 L406.3 774.7 L407 774.7 L407.7 774.7 L408.4 774.7 L409.1 774.7 L409.8 774.7 L410.5 774.7 L411.2 774.7 L411.9 774.7 L412.6 774.7 L413.3 774.7 L414 774.7 L414.7 774.7 L415.4 774.7 L416.1 774.7 L416.8 774.7 L417.5 774.7 L418.2 774.7 L418.9 774.7 L419.6 774.7 L420.3 774.7 L421 774.7 L421.7 774.7 L422.4 774.7 L423.1 774.7 L423.8 774.7 L424.5 774.7 L425.2 774.7 L425.9 774.7 L426.6 774.7 L427.3 774.7 L428 774.7 L428.7 774.7 L429.4 774.7 L430.1 774.7 L430.8 774.7 L431.5 774.7 L432.2 774.7 L432.9 774.7 L433.6 774.7 L434.3 774.7 L435 774.7 L435.7 774.7 L436.4 774.7 L437.1 774.7 L437.8 774.7 L438.5 774.7 L439.2 774.7 L439.9 774.7 L440.6 774.7 L441.3 774.7 L442 774.7 L442.7 774.7 L443.4 774.7 L444.1 774.7 L444.8 774.7 L445.5 774.7 L446.2 774.7 L446.9 774.7 L447.6 774.7 L448.3 774.7 L449 774.7 L449.7 774.7 L450.4 774.7 L451.1 774.7 L451.8 774.7 L452.5 774.7 L453.2 774.7 L453.9 774.7 L454.6 774.7 L455.3 774.7 L456 774.7 L456.7 774.7 L457.4 774.7 L458.1 774.7 L458.8 774.7 L459.5 774.7 L460.2 774.7 L460.9 774.7 L461.6 774.7 L462.3 774.7 L463 774.7 L463.7 774.7 L464.4 774.7 L465.1 774.7 L465.8 774.7 L466.5 774.7 L467.2 774.7 L467.9 774.7 L468.6 774.7 L469.3 774.7 L470 774.7 L470.7 774.7 L471.4 774.7 L472.1 774.7 L472.8 774.7 L473.5 774.7 L474.2 774.7 L474.9 774.7 L475.6 774.7 L476.3 774.7 L477 774.7 L477.7 774.7 L478.4 774.7 L479.1 774.7 L479.8 774.7 L480.5 774.7 L481.2 774.7 L481.9 774.7 L482.6 774.7 L483.3 774.7 L484 774.7 L484.7 774.7 L485.4 774.7 L486.1 774.7 L486.8 774.7 L487.4 774.7 L487.5 774.7 L488.2 773.1 L488.9 769.3 L489.6 763.8 L490 760 L490.3 753.3 L491 715.8 L491.7 663.1 L492.4 614.7 L493.1 590.1 L493.2 589.6 L493.8 598.7 L494.5 626.5 L495.2 663.4 L495.9 699.4 L496.6 724.7 L497 730.5 L497.3 731.8 L498 734.7 L498.7 737.3 L499.4 739.7 L500.1 741.7 L500.8 743.6 L501.5 745.2 L502.2 746.5 L502.9 747.7 L503.6 748.6 L504.3 749.3 L505 749.8 L505.7 750.2 L506.4 750.3 L506.6 750.3 L507.1 750.2 L507.8 749.7 L508.5 748.9 L509.2 747.7 L509.9 746.4 L510.6 744.9 L511.3 743.2 L512 741.5 L512.7 739.8 L513.4 738.2 L514.1 736.7 L514.8 735.3 L515 735 L515.5 734.1 L516.2 732.8 L516.9 731.5 L517.6 730 L518.3 728.6 L519 727.2 L519.7 725.8 L520.4 724.6 L521.1 723.5 L521.8 722.5 L522.5 721.7 L523.2 721.2 L523.9 720.9 L524.2 720.9 L524.6 720.9 L525.3 721.1 L526 721.3 L526.7 721.7 L527.4 722.1 L528.1 722.6 L528.8 723.2 L529.5 723.8 L530.2 724.5 L530.9 725.2 L531.6 725.9 L532.3 726.6 L533 727.3 L533.7 727.9 L534.4 728.5 L535.1 729.1 L535.8 729.6 L536.5 729.9 L537.2 730.2 L537.9 730.4 L538.6 730.5 L538.6 730.5 L539.3 730.5 L540 730.5 L540.7 730.5 L541.4 730.4 L542.1 730.4 L542.8 730.4 L543.5 730.3 L544.2 730.3 L544.9 730.3 L545.6 730.2 L546.3 730.2 L547 730.1 L547.7 730 L548.4 730 L549.1 729.9 L549.8 729.8 L550.5 729.8 L551.2 729.7 L551.9 729.7 L552.6 729.6 L553.3 729.5 L554 729.5 L554.7 729.4 L555.4 729.3 L556.1 729.3 L556.8 729.2 L557.5 729.2 L558.2 729.1 L558.9 729.1 L559.6 729 L560.3 729 L561 729 L561.7 728.9 L562.4 728.9 L563.1 728.9 L563.8 728.9 L564.2 728.9 L564.5 728.9 L565.2 728.9 L565.9 728.9 L566.6 728.9 L567.3 728.9 L568 728.9 L568.7 728.9 L569.4 728.9 L570.1 728.9 L570.8 728.9 L571.5 729 L572.2 729 L572.9 729 L573.6 729 L574.3 729 L575 729 L575.7 729 L576.4 729.1 L577.1 729.1 L577.8 729.1 L578.5 729.1 L579.2 729.1 L579.9 729.1 L580.6 729.2 L581.3 729.2 L582 729.2 L582.7 729.2 L583.4 729.3 L584.1 729.3 L584.8 729.3 L585.5 729.3 L586.2 729.4 L586.9 729.4 L587.6 729.4 L588.3 729.5 L589 729.5 L589.7 729.5 L590.4 729.6 L591.1 729.6 L591.8 729.6 L592.5 729.7 L593.2 729.7 L593.9 729.7 L594.6 729.8 L595.3 729.8 L596 729.8 L596.7 729.9 L597.4 729.9 L598.1 730 L598.8 730 L599.5 730.1 L600.2 730.1 L600.9 730.1 L601.6 730.2 L602.3 730.2 L603 730.3 L603.7 730.3 L604.4 730.4 L605.1 730.4 L605.8 730.5 L606.5 730.5 L607.2 730.6 L607.9 730.6 L608.6 730.7 L609.3 730.7 L610 730.8 L610.7 730.8 L611.4 730.9 L612.1 730.9 L612.8 731 L613.5 731 L614.2 731.1 L614.9 731.1 L615.6 731.2 L616.3 731.2 L617 731.3 L617.7 731.3 L618.4 731.4 L619.1 731.4 L619.8 731.5 L620.5 731.6 L621.2 731.6 L621.9 731.7 L622.6 731.7 L623.3 731.8 L624 731.9 L624.7 731.9 L625.4 732 L626.1 732 L626.8 732.1 L627.5 732.2 L628.2 732.2 L628.9 732.3 L629.6 732.3 L630.3 732.4 L631 732.5 L631.7 732.5 L632.4 732.6 L633.1 732.6 L633.8 732.7 L634.5 732.8 L635.2 732.8 L635.9 732.9 L636.6 733 L637.3 733 L638 733.1 L638.7 733.2 L639.4 733.2 L640.1 733.3 L640.8 733.4 L641.5 733.4 L642.2 733.5 L642.9 733.5 L643.6 733.6 L644.3 733.7 L645 733.7 L645.7 733.8 L646.4 733.9 L647.1 733.9 L647.8 734 L648.5 734.1 L649.2 734.1 L649.9 734.2 L650.6 734.3 L651.3 734.3 L652 734.4 L652.7 734.5 L653.4 734.5 L654.1 734.6 L654.8 734.7 L655.5 734.7 L656.2 734.8 L656.9 734.9 L657.6 734.9 L658.3 735 L659 735.1 L659.7 735.1 L660.4 735.2 L661.1 735.3 L661.8 735.3 L662.5 735.4 L663.2 735.5 L663.9 735.5 L664.6 735.6 L665.3 735.6 L666 735.7 L666.7 735.8 L667.4 735.8 L668.1 735.9 L668.8 736 L669.5 736 L670.2 736.1 L670.9 736.2 L671.6 736.2 L672.3 736.3 L673 736.3 L673.7 736.4 L674.4 736.5 L675.1 736.5 L675.8 736.6 L676.5 736.7 L677.2 736.7 L677.9 736.8 L678.6 736.8 L679.3 736.9 L680 737 L680.7 737 L681.4 737.1 L682.1 737.1 L682.8 737.2 L683.5 737.3 L684.2 737.3 L684.9 737.4 L685.6 737.4 L686.3 737.5 L687 737.5 L687.7 737.6 L688.4 737.6 L689.1 737.7 L689.8 737.8 L690.5 737.8 L691.2 737.9 L691.9 737.9 L692.6 738 L693.3 738 L694 738.1 L694.7 738.1 L695.4 738.2 L696.1 738.2 L696.8 738.3 L697.5 738.3 L698.2 738.4 L698.9 738.4 L699.6 738.5 L700 738.5 L700.3 738.5 L701 738.6 L701.7 738.6 L702.4 738.7 L703.1 738.7 L703.8 738.8 L704.5 738.8 L705.2 738.9 L705.9 738.9 L706.6 739 L707.3 739 L708 739.1 L708.7 739.2 L709.4 739.2 L710.1 739.3 L710.8 739.3 L711.5 739.4 L712.2 739.5 L712.9 739.5 L713.6 739.6 L714.3 739.6 L715 739.7 L715.7 739.8 L716.4 739.8 L717.1 739.9 L717.8 739.9 L718.5 740 L719.2 740.1 L719.9 740.1 L720.6 740.2 L721.3 740.2 L722 740.3 L722.7 740.4 L723.4 740.4 L724.1 740.5 L724.8 740.5 L725.5 740.6 L726.2 740.6 L726.9 740.7 L727.6 740.7 L728.3 740.8 L729 740.8 L729.7 740.9 L730.4 740.9 L731.1 741 L731.8 741 L732.5 741.1 L733.2 741.1 L733.9 741.2 L734.6 741.2 L735.3 741.2 L736 741.3 L736.7 741.3 L737.4 741.3 L738.1 741.4 L738.8 741.4 L739.5 741.4 L740.2 741.5 L740.9 741.5 L741.6 741.5 L742.3 741.5 L743 741.5 L743.7 741.6 L744.4 741.6 L745.1 741.6 L745.8 741.6 L746.5 741.6 L747.2 741.6 L747.7 741.6 L747.9 741.6 L748.6 741 L749.3 739.8 L750 738.2 L750.7 736.5 L751.4 734.7 L752.1 733 L752.8 731.7 L753.5 730.9 L753.9 730.8 L754.2 730.9 L754.9 731.6 L755.6 732.8 L756.3 734.4 L757 736.1 L757.7 737.8 L758.4 739.1 L759.1 739.9 L759.4 740 L759.8 740.1 L760.5 740.2 L761.2 740.3 L761.9 740.4 L762.6 740.5 L763.3 740.6 L764 740.7 L764.7 740.8 L765.4 740.9 L766.1 741 L766.8 741.1 L767.5 741.2 L768.2 741.3 L768.9 741.4 L769.6 741.5 L770.3 741.5 L771 741.6 L771.7 741.7 L772.4 741.8 L773.1 741.9 L773.8 741.9 L774.5 742 L775.2 742.1 L775.9 742.1 L776.6 742.2 L777.3 742.3 L778 742.3 L778.7 742.4 L779.4 742.5 L780.1 742.5 L780.8 742.6 L781.5 742.6 L782.2 742.7 L782.9 742.7 L783.6 742.8 L784.3 742.9 L785 742.9 L785.7 742.9 L786.4 743 L787.1 743 L787.8 743.1 L788.5 743.1 L789.2 743.2 L789.9 743.2 L790.6 743.3 L791.3 743.3 L792 743.3 L792.7 743.4 L793.4 743.4 L794.1 743.4 L794.8 743.5 L795.5 743.5 L796.2 743.5 L796.9 743.6 L797.6 743.6 L798.3 743.6 L799 743.7 L799.7 743.7 L800.4 743.7 L801.1 743.7 L801.8 743.8 L802.5 743.8 L803.2 743.8 L803.9 743.8 L804.6 743.9 L805.3 743.9 L806 743.9 L806.7 743.9 L807.4 743.9 L808.1 744 L808.8 744 L809.5 744 L810.2 744 L810.9 744 L811.6 744.1 L812.3 744.1 L813 744.1 L813.7 744.1 L814.4 744.1 L815.1 744.2 L815.8 744.2 L816.5 744.2 L817.2 744.2 L817.9 744.2 L818.6 744.3 L819.3 744.3 L820 744.3 L820.7 744.3 L821.4 744.3 L822.1 744.3 L822.8 744.4 L823.5 744.4 L824.2 744.4 L824.9 744.4 L825.6 744.4 L826.3 744.5 L827 744.5 L827.7 744.5 L828.4 744.5 L829.1 744.5 L829.8 744.6 L830.5 744.6 L831.2 744.6 L831.9 744.6 L832.6 744.7 L833.3 744.7 L834 744.7 L834 744.7 L834.7 744.7 L835.4 744.8 L836.1 744.8 L836.8 744.8 L837.5 744.8 L838.2 744.8 L838.9 744.9 L839.6 744.9 L840.3 744.9 L841 744.9 L841.7 745 L842.4 745 L843.1 745 L843.8 745 L844.5 745.1 L845.2 745.1 L845.9 745.1 L846.6 745.1 L847.3 745.2 L848 745.2 L848.7 745.2 L849.4 745.2 L850.1 745.2 L850.8 745.3 L851.5 745.3 L852.2 745.3 L852.9 745.3 L853.6 745.3 L854.3 745.4 L855 745.4 L855.7 745.4 L856.4 745.4 L857.1 745.4 L857.8 745.5 L858.5 745.5 L859.2 745.5 L859.9 745.5 L860.6 745.5 L861.3 745.6 L862 745.6 L862.7 745.6 L863.4 745.6 L864.1 745.6 L864.8 745.7 L865.5 745.7 L866.2 745.7 L866.9 745.7 L867.6 745.7 L868.3 745.8 L869 745.8 L869.7 745.8 L870.4 745.8 L871.1 745.8 L871.8 745.8 L872.5 745.9 L873.2 745.9 L873.9 745.9 L874.6 745.9 L875.3 745.9 L876 746 L876.7 746 L877.4 746 L878.1 746 L878.8 746 L879.5 746 L880.2 746.1 L880.9 746.1 L881.6 746.1 L882.3 746.1 L883 746.1 L883.7 746.1 L884.4 746.2 L885.1 746.2 L885.8 746.2 L886.5 746.2 L887.2 746.2 L887.9 746.2 L888.6 746.3 L889.3 746.3 L890 746.3 L890.7 746.3 L891.4 746.3 L892.1 746.3 L892.8 746.3 L893.5 746.4 L894.2 746.4 L894.9 746.4 L895.6 746.4 L896.3 746.4 L897 746.4 L897.7 746.4 L898.4 746.5 L899.1 746.5 L899.8 746.5 L900.5 746.5 L901.2 746.5 L901.9 746.5 L902.6 746.6 L903.3 746.6 L904 746.6 L904.7 746.6 L905.4 746.6 L906.1 746.6 L906.8 746.6 L907.5 746.7 L908.2 746.7 L908.9 746.7 L909.6 746.7 L910.3 746.7 L911 746.7 L911.7 746.7 L912.4 746.8 L913.1 746.8 L913.8 746.8 L914.5 746.8 L915.2 746.8 L915.9 746.8 L916.6 746.8 L917.3 746.8 L918 746.9 L918.7 746.9 L919.4 746.9 L920.1 746.9 L920.8 746.9 L921.5 746.9 L922.2 746.9 L922.9 747 L923.6 747 L924.3 747 L925 747 L925.7 747 L926.4 747 L927.1 747 L927.8 747.1 L928.5 747.1 L929.2 747.1 L929.9 747.1 L930.6 747.1 L931.3 747.1 L932 747.1 L932.7 747.1 L933.4 747.2 L934.1 747.2 L934.8 747.2 L935.5 747.2 L936.2 747.2 L936.9 747.2 L937.6 747.2 L938.3 747.3 L939 747.3 L939.7 747.3 L940.4 747.3 L941.1 747.3 L941.8 747.3 L942.5 747.3 L943.2 747.3 L943.9 747.4 L944.6 747.4 L945.3 747.4 L946 747.4 L946.7 747.4 L947.4 747.4 L948.1 747.4 L948.8 747.5 L949.5 747.5 L950.2 747.5 L950.9 747.5 L951.6 747.5 L952.3 747.5 L953 747.5 L953.7 747.6 L954.4 747.6 L955.1 747.6 L955.8 747.6 L956.5 747.6 L957.2 747.6 L957.9 747.6 L958.6 747.7 L959.3 747.7 L960 747.7 L960.7 747.7 L961.4 747.7 L962.1 747.7 L962.8 747.7 L963.5 747.8 L964.2 747.8 L964.9 747.8 L965.6 747.8 L966.3 747.8 L967 747.8 L967.7 747.8 L968.4 747.9 L969.1 747.9 L969.8 747.9 L970.5 747.9 L971.2 747.9 L971.9 747.9 L972.6 747.9 L973.3 748 L974 748 L974.7 748 L975.4 748 L976.1 748 L976.8 748 L977.5 748.1 L978.2 748.1 L978.9 748.1 L979.6 748.1 L980.3 748.1 L981 748.1 L981.7 748.2 L982.4 748.2 L983.1 748.2 L983.8 748.2 L984.5 748.2 L985.2 748.2 L985.9 748.3 L986.6 748.3 L987.3 748.3 L987.9 748.3 L988 748.3 L988.7 748.3 L989.4 748.3 L990.1 748.4 L990.8 748.4 L991.5 748.4 L992.2 748.4 L992.9 748.4 L993.6 748.4 L994.3 748.5 L995 748.5 L995.7 748.5 L996.4 748.5 L997.1 748.5 L997.8 748.5 L998.5 748.6 L999.2 748.6 L999.9 748.6 L1000.6 748.6 L1001.3 748.6 L1002 748.6 L1002.7 748.7 L1003.4 748.7 L1004.1 748.7 L1004.8 748.7 L1005.5 748.7 L1006.2 748.8 L1006.9 748.8 L1007.6 748.8 L1008.3 748.8 L1009 748.8 L1009.7 748.8 L1010.4 748.9 L1011.1 748.9 L1011.8 748.9 L1012.5 748.9 L1013.2 748.9 L1013.9 748.9 L1014.6 749 L1015.3 749 L1016 749 L1016.7 749 L1017.4 749 L1018.1 749 L1018.8 749.1 L1019.5 749.1 L1020.2 749.1 L1020.9 749.1 L1021.6 749.1 L1022.3 749.2 L1023 749.2 L1023.7 749.2 L1024.4 749.2 L1025.1 749.2 L1025.8 749.2 L1026.5 749.3 L1027.2 749.3 L1027.9 749.3 L1028.6 749.3 L1029.3 749.3 L1030 749.3 L1030.7 749.4 L1031.4 749.4 L1032.1 749.4 L1032.8 749.4 L1033.5 749.4 L1034.2 749.5 L1034.9 749.5 L1035.6 749.5 L1036.3 749.5 L1037 749.5 L1037.7 749.5 L1038.4 749.6 L1039.1 749.6 L1039.8 749.6 L1040.5 749.6 L1041.2 749.6 L1041.9 749.6 L1042.6 749.7 L1043.3 749.7 L1044 749.7 L1044.7 749.7 L1045.4 749.7 L1046.1 749.8 L1046.8 749.8 L1047.5 749.8 L1048.2 749.8 L1048.9 749.8 L1049.6 749.8 L1050.3 749.9 L1051 749.9 L1051.7 749.9 L1052.4 749.9 L1053.1 749.9 L1053.8 749.9 L1054.5 750 L1055.2 750 L1055.9 750 L1056.6 750 L1057.3 750 L1058 750.1 L1058.7 750.1 L1059.4 750.1 L1060.1 750.1 L1060.8 750.1 L1061.5 750.1 L1062.2 750.2 L1062.9 750.2 L1063.6 750.2 L1064.3 750.2 L1065 750.2 L1065.7 750.3 L1066.4 750.3 L1067.1 750.3 L1067.8 750.3 L1068.5 750.3 L1069.2 750.3 L1069.9 750.4 L1070.6 750.4 L1071.3 750.4 L1072 750.4 L1072.7 750.4 L1073.4 750.5 L1074.1 750.5 L1074.8 750.5 L1075.5 750.5 L1076.2 750.5 L1076.9 750.5 L1077.6 750.6 L1078.3 750.6 L1079 750.6 L1079.7 750.6 L1080.4 750.6 L1081.1 750.7 L1081.8 750.7 L1082.5 750.7 L1083.2 750.7 L1083.9 750.7 L1084.6 750.7 L1085.3 750.8 L1086 750.8 L1086.7 750.8 L1087.4 750.8 L1088.1 750.8 L1088.8 750.9 L1089.5 750.9 L1090.2 750.9 L1090.9 750.9 L1091.6 750.9 L1092.3 750.9 L1093 751 L1093.7 751 L1094.4 751 L1095.1 751 L1095.8 751 L1096.5 751.1 L1097.2 751.1 L1097.9 751.1 L1098.6 751.1 L1099.3 751.1 L1100 751.1 L1100.7 751.2 L1101.4 751.2 L1102.1 751.2 L1102.8 751.2 L1103.5 751.2 L1104.2 751.3 L1104.9 751.3 L1105.6 751.3 L1106.3 751.3 L1107 751.3 L1107.7 751.3 L1108.4 751.4 L1109.1 751.4 L1109.8 751.4 L1110.5 751.4 L1111.2 751.4 L1111.9 751.5 L1112.6 751.5 L1113.3 751.5 L1114 751.5 L1114.7 751.5 L1115.4 751.6 L1116.1 751.6 L1116.8 751.6 L1117.5 751.6 L1118.2 751.6 L1118.9 751.6 L1119.6 751.7 L1120.3 751.7 L1121 751.7 L1121.7 751.7 L1122.4 751.7 L1123.1 751.8 L1123.8 751.8 L1124.5 751.8 L1125.2 751.8 L1125.9 751.8 L1126.6 751.9 L1127.3 751.9 L1128 751.9 L1128.7 751.9 L1129.4 751.9 L1130.1 751.9 L1130.8 752 L1131.5 752 L1132.2 752 L1132.9 752 L1133.6 752 L1134.3 752.1 L1135 752.1 L1135.7 752.1 L1136.4 752.1 L1137.1 752.1 L1137.8 752.1 L1138.5 752.2 L1139.2 752.2 L1139.9 752.2 L1140.6 752.2 L1141.3 752.2 L1142 752.3 L1142.7 752.3 L1143.4 752.3 L1143.4 752.3" stroke="#e5141b" stroke-width="5" fill="none" stroke-linejoin="round" stroke-linecap="round"/>
<path d="M192.8 950.3 L193.5 950.1 L194.2 949.9 L194.9 949.7 L195.6 949.5 L196.3 949.3 L197 949.1 L197.7 948.8 L198.4 948.6 L199.1 948.4 L199.8 948.2 L200.5 948 L201.2 947.8 L201.9 947.6 L202.6 947.4 L203.3 947.2 L204 947.1 L204.7 946.9 L205.4 946.8 L206.1 946.7 L206.8 946.6 L207.5 946.6 L208.2 946.5 L208.8 946.5 L208.9 946.5 L209.6 946.5 L210.3 946.5 L211 946.5 L211.7 946.5 L212.4 946.5 L213.1 946.5 L213.8 946.5 L214.5 946.4 L215.2 946.4 L215.9 946.4 L216.6 946.4 L217.3 946.4 L218 946.4 L218.7 946.4 L219.4 946.4 L220.1 946.4 L220.8 946.4 L221.5 946.4 L222.2 946.4 L222.9 946.4 L223.6 946.4 L224.3 946.4 L225 946.4 L225.7 946.4 L226.4 946.3 L227.1 946.3 L227.8 946.3 L228.5 946.3 L229.2 946.3 L229.9 946.3 L230.6 946.3 L231.3 946.3 L232 946.3 L232.7 946.3 L233.4 946.3 L234.1 946.3 L234.8 946.3 L235.5 946.3 L236.2 946.3 L236.9 946.3 L237.6 946.3 L238.3 946.3 L239 946.3 L239.7 946.3 L240.4 946.3 L241.1 946.3 L241.8 946.2 L242.5 946.2 L243.2 946.2 L243.9 946.2 L244.6 946.2 L245.3 946.2 L246 946.2 L246.7 946.2 L247.4 946.2 L248.1 946.2 L248.8 946.2 L249.5 946.2 L250.2 946.2 L250.9 946.2 L251.6 946.2 L252.3 946.2 L253 946.2 L253.7 946.2 L254.4 946.2 L255.1 946.2 L255.8 946.2 L256.5 946.2 L257.2 946.2 L257.9 946.2 L258.6 946.2 L259.3 946.2 L260 946.2 L260.7 946.2 L261.4 946.2 L262.1 946.2 L262.8 946.2 L263.5 946.2 L264.2 946.2 L264.9 946.2 L265.6 946.2 L266.3 946.2 L267 946.1 L267.7 946.1 L268.4 946.1 L269.1 946.1 L269.8 946.1 L270.5 946.1 L271.2 946.1 L271.9 946.1 L272.6 946.1 L273.3 946.1 L274 946.1 L274.7 946.1 L275.4 946.1 L276.1 946.1 L276.8 946.1 L277.5 946.1 L278.2 946.1 L278.9 946.1 L279.6 946.1 L280.3 946.1 L281 946.1 L281.7 946.1 L282.4 946.1 L283.1 946.1 L283.8 946.1 L284.5 946.1 L285.2 946.1 L285.9 946.1 L286.6 946.1 L287.3 946.1 L288 946.1 L288.7 946.1 L289.4 946.1 L290.1 946.1 L290.8 946.1 L291.5 946.1 L292.2 946.1 L292.9 946.1 L293.6 946.1 L294.3 946.1 L295 946.1 L295.7 946.1 L296.4 946.1 L297.1 946.1 L297.8 946.1 L298.5 946.1 L299.2 946.1 L299.9 946.1 L300.6 946.1 L301.3 946.1 L302 946.1 L302.7 946.1 L303.4 946.1 L304.1 946.1 L304.8 946.1 L305.5 946.1 L306.2 946.1 L306.9 946.1 L307.6 946.1 L308.3 946.1 L309 946.1 L309.7 946.1 L310.4 946.1 L311.1 946.1 L311.8 946.1 L312.5 946.1 L313.2 946.1 L313.9 946.1 L314.6 946.1 L315.3 946.1 L316 946.1 L316.7 946.1 L317.4 946 L318.1 946 L318.8 946 L319.5 946 L320.2 946 L320.9 946 L321.6 946 L322.3 946 L323 946 L323.7 946 L324.4 946 L325.1 946 L325.8 946 L326.5 946 L327.2 946 L327.9 946 L328.6 946 L329.3 946 L330 946 L330.7 946 L331.4 946 L332.1 946 L332.8 946 L333.5 946 L334.2 946 L334.9 946 L335.6 946 L336.3 946 L337 946 L337.7 946 L338.4 946 L339.1 946 L339.8 946 L340.5 946 L341.2 946 L341.9 946 L342.6 946 L343.3 946 L344 946 L344.7 946 L345.4 946 L346.1 946 L346.8 946 L347.5 946 L348.2 946 L348.9 946 L349.6 946 L350.3 946 L351 946 L351.7 946 L352.4 946 L353.1 946 L353.8 945.9 L354.5 945.9 L355.2 945.9 L355.9 945.9 L356.6 945.9 L357.3 945.9 L358 945.9 L358.7 945.9 L359.4 945.9 L360.1 945.9 L360.8 945.9 L361.5 945.9 L362.2 945.9 L362.9 945.9 L363.6 945.9 L364 945.9 L364.3 945.9 L365 945.9 L365.7 945.9 L366.4 945.9 L367.1 945.9 L367.8 945.9 L368.5 945.9 L369.2 945.9 L369.9 945.9 L370.6 945.9 L371.3 945.9 L372 945.9 L372.7 945.9 L373.4 945.9 L374.1 945.9 L374.8 945.9 L375.5 945.8 L376.2 945.8 L376.9 945.8 L377.6 945.8 L378.3 945.8 L379 945.8 L379.7 945.8 L380.4 945.8 L381.1 945.8 L381.8 945.8 L382.5 945.8 L383.2 945.8 L383.9 945.8 L384.6 945.8 L385.3 945.8 L386 945.8 L386.7 945.8 L387.4 945.8 L388.1 945.8 L388.8 945.8 L389.5 945.8 L390.2 945.8 L390.9 945.8 L391.6 945.8 L392.3 945.8 L393 945.8 L393.7 945.8 L394.4 945.8 L395.1 945.8 L395.8 945.8 L396.5 945.8 L397.2 945.8 L397.9 945.8 L398.6 945.8 L399.3 945.8 L400 945.8 L400.7 945.8 L401.4 945.8 L402.1 945.8 L402.8 945.8 L403.5 945.8 L404.2 945.8 L404.9 945.8 L405.6 945.8 L406.3 945.8 L407 945.8 L407.7 945.8 L408.4 945.8 L409.1 945.7 L409.8 945.7 L410.5 945.7 L411.2 945.7 L411.9 945.7 L412.6 945.7 L413.3 945.7 L414 945.7 L414.7 945.7 L415.4 945.7 L416.1 945.7 L416.8 945.7 L417.5 945.7 L418.2 945.7 L418.9 945.7 L419.6 945.7 L420.3 945.7 L421 945.7 L421.7 945.7 L422.4 945.7 L423.1 945.7 L423.8 945.7 L424.5 945.7 L425.2 945.7 L425.9 945.7 L426.6 945.7 L427.3 945.7 L428 945.7 L428.7 945.7 L429.4 945.7 L430.1 945.7 L430.8 945.7 L431.5 945.7 L432.2 945.6 L432.9 945.6 L433.6 945.6 L434.3 945.6 L435 945.6 L435.7 945.6 L436.4 945.6 L437.1 945.6 L437.8 945.6 L438.5 945.6 L439.2 945.6 L439.9 945.6 L440.6 945.6 L441.3 945.6 L442 945.6 L442.7 945.6 L443.4 945.6 L444.1 945.6 L444.8 945.6 L445.5 945.6 L446.2 945.5 L446.9 945.5 L447.6 945.5 L448.3 945.5 L449 945.5 L449.7 945.5 L450.4 945.5 L451.1 945.5 L451.8 945.5 L452.5 945.5 L453.2 945.5 L453.9 945.5 L454.6 945.5 L455.3 945.5 L456 945.4 L456.7 945.4 L457.4 945.4 L458.1 945.4 L458.8 945.4 L459.5 945.4 L460.2 945.4 L460.9 945.4 L461.6 945.4 L462.3 945.4 L463 945.4 L463.7 945.3 L464.4 945.3 L465.1 945.3 L465.8 945.3 L466.5 945.3 L467.2 945.3 L467.9 945.3 L468.6 945.3 L469.3 945.3 L470 945.2 L470.7 945.2 L471.4 945.2 L472.1 945.2 L472.8 945.2 L473.5 945.2 L474.2 945.2 L474.9 945.2 L475.6 945.1 L476.3 945.1 L477 945.1 L477.7 945.1 L478.4 945.1 L479.1 945.1 L479.8 945.1 L480.5 945.1 L481.2 945 L481.9 945 L482.6 945 L483.3 945 L484 945 L484.7 945 L485.4 944.9 L486.1 944.9 L486.8 944.9 L487.4 944.9 L487.5 944.9 L488.2 943.2 L488.9 939.3 L489.6 933.8 L490 930 L490.3 924.4 L491 895 L491.7 854.8 L492.4 818.2 L493.1 799.5 L493.2 799.2 L493.8 803.2 L494.5 815.9 L495.2 833.6 L495.9 852.6 L496.6 869.1 L497 876 L497.3 880.3 L498 890.2 L498.7 899.2 L499.4 906.4 L500.1 910.9 L500.2 911.3 L500.8 913.2 L501.5 915.2 L502.2 916.9 L502.9 918.3 L503.6 919.3 L504.3 920 L505 920.2 L505 920.2 L505.7 920 L506.4 919.4 L507.1 918.6 L507.8 917.5 L508.5 916.3 L509.2 914.9 L509.9 913.6 L510.6 912.2 L511.3 911 L512 910 L512 910 L512.7 909 L513.4 907.9 L514.1 906.8 L514.8 905.7 L515.5 904.6 L516.2 903.6 L516.9 902.6 L517.6 901.9 L518.3 901.4 L519 901 L519.4 901 L519.7 901 L520.4 901 L521.1 901.1 L521.8 901.3 L522.5 901.4 L523.2 901.6 L523.9 901.8 L524.6 902 L525.3 902.3 L526 902.5 L526.7 902.7 L527.4 903 L528.1 903.2 L528.8 903.4 L529.5 903.6 L530.2 903.8 L530.9 904 L531.6 904.1 L532.2 904.2 L532.3 904.2 L533 904.3 L533.7 904.4 L534.4 904.4 L535.1 904.5 L535.8 904.6 L536.5 904.6 L537.2 904.7 L537.9 904.8 L538.6 904.8 L539.3 904.9 L540 905 L540.7 905 L541.4 905.1 L542.1 905.1 L542.8 905.2 L543.5 905.3 L544.2 905.3 L544.9 905.4 L545.6 905.4 L546.3 905.5 L547 905.5 L547.7 905.6 L548.4 905.6 L549.1 905.7 L549.8 905.7 L550.5 905.8 L551.2 905.8 L551.9 905.8 L552.6 905.9 L553.3 905.9 L554 906 L554.7 906 L555.4 906 L556.1 906.1 L556.8 906.1 L557.5 906.2 L558.2 906.2 L558.9 906.2 L559.6 906.3 L560.3 906.3 L561 906.3 L561.7 906.4 L562.4 906.4 L563.1 906.4 L563.8 906.5 L564.5 906.5 L565.2 906.5 L565.9 906.5 L566.6 906.6 L567.3 906.6 L568 906.6 L568.7 906.7 L569.4 906.7 L570.1 906.7 L570.8 906.8 L571.5 906.8 L572.2 906.8 L572.9 906.8 L573.6 906.9 L574.3 906.9 L575 906.9 L575.7 907 L576.4 907 L577.1 907 L577.8 907.1 L578.5 907.1 L579.2 907.1 L579.9 907.1 L580.6 907.2 L581.3 907.2 L582 907.2 L582.7 907.3 L583.4 907.3 L584.1 907.3 L584.8 907.4 L585.5 907.4 L586.2 907.4 L586.9 907.5 L587.6 907.5 L588.3 907.5 L589 907.6 L589.7 907.6 L590.4 907.7 L591.1 907.7 L591.8 907.7 L592.5 907.8 L593.2 907.8 L593.9 907.9 L594.6 907.9 L595.3 907.9 L596 908 L596.3 908 L596.7 908 L597.4 908.1 L598.1 908.1 L598.8 908.2 L599.5 908.2 L600.2 908.3 L600.9 908.3 L601.6 908.3 L602.3 908.4 L603 908.4 L603.7 908.5 L604.4 908.5 L605.1 908.6 L605.8 908.6 L606.5 908.7 L607.2 908.7 L607.9 908.8 L608.6 908.8 L609.3 908.9 L610 908.9 L610.7 909 L611.4 909 L612.1 909.1 L612.8 909.1 L613.5 909.2 L614.2 909.2 L614.9 909.3 L615.6 909.3 L616.3 909.4 L617 909.4 L617.7 909.5 L618.4 909.6 L619.1 909.6 L619.8 909.7 L620.5 909.7 L621.2 909.8 L621.9 909.8 L622.6 909.9 L623.3 909.9 L624 910 L624.7 910 L625.4 910.1 L626.1 910.1 L626.8 910.2 L627.5 910.2 L628.2 910.3 L628.9 910.3 L629.6 910.4 L630.3 910.5 L631 910.5 L631.7 910.6 L632.4 910.6 L633.1 910.7 L633.8 910.7 L634.5 910.8 L635.2 910.8 L635.9 910.9 L636.6 910.9 L637.3 911 L638 911 L638.7 911.1 L639.4 911.1 L640.1 911.2 L640.8 911.3 L641.5 911.3 L642.2 911.4 L642.9 911.4 L643.6 911.5 L644.3 911.5 L645 911.6 L645.7 911.6 L646.4 911.7 L647.1 911.7 L647.8 911.8 L648.5 911.8 L649.2 911.9 L649.9 911.9 L650.6 912 L651.3 912 L652 912.1 L652.7 912.1 L653.4 912.2 L654.1 912.2 L654.8 912.3 L655.5 912.3 L656.2 912.4 L656.9 912.4 L657.6 912.5 L658.3 912.5 L659 912.6 L659.7 912.6 L660.4 912.7 L661.1 912.7 L661.8 912.8 L662.5 912.8 L663.2 912.9 L663.9 912.9 L664.6 913 L665.3 913 L666 913.1 L666.7 913.1 L667.4 913.1 L668.1 913.2 L668.8 913.2 L669.5 913.3 L670.2 913.3 L670.9 913.4 L671.6 913.4 L672.3 913.5 L673 913.5 L673.7 913.5 L674.4 913.6 L675.1 913.6 L675.8 913.7 L676.5 913.7 L677.2 913.7 L677.9 913.8 L678.6 913.8 L679.3 913.9 L680 913.9 L680 913.9 L680.7 913.9 L681.4 914 L682.1 914 L682.8 914.1 L683.5 914.1 L684.2 914.1 L684.9 914.2 L685.6 914.2 L686.3 914.3 L687 914.3 L687.7 914.3 L688.4 914.4 L689.1 914.4 L689.8 914.5 L690.5 914.5 L691.2 914.5 L691.9 914.6 L692.6 914.6 L693.3 914.7 L694 914.7 L694.7 914.8 L695.4 914.8 L696.1 914.8 L696.8 914.9 L697.5 914.9 L698.2 915 L698.9 915 L699.6 915.1 L700.3 915.1 L701 915.1 L701.7 915.2 L702.4 915.2 L703.1 915.3 L703.8 915.3 L704.5 915.3 L705.2 915.4 L705.9 915.4 L706.6 915.5 L707.3 915.5 L708 915.5 L708.7 915.6 L709.4 915.6 L710.1 915.7 L710.8 915.7 L711.5 915.7 L712.2 915.8 L712.9 915.8 L713.6 915.9 L714.3 915.9 L715 915.9 L715.7 916 L716.4 916 L717.1 916 L717.8 916.1 L718.5 916.1 L719.2 916.2 L719.9 916.2 L720.6 916.2 L721.3 916.3 L722 916.3 L722.7 916.3 L723.4 916.4 L724.1 916.4 L724.8 916.4 L725.5 916.4 L726.2 916.5 L726.9 916.5 L727.6 916.5 L728.3 916.6 L729 916.6 L729.7 916.6 L730.4 916.6 L731.1 916.7 L731.8 916.7 L732.5 916.7 L733.2 916.7 L733.9 916.8 L734.6 916.8 L735.3 916.8 L736 916.8 L736.7 916.8 L737.4 916.8 L738.1 916.9 L738.8 916.9 L739.5 916.9 L740.2 916.9 L740.9 916.9 L741.6 916.9 L742.3 916.9 L743 917 L743.7 917 L744.4 917 L745.1 917 L745.8 917 L746.5 917 L747.2 917 L747.9 917 L748.6 917 L749.3 917 L749.3 917 L750 914 L750.7 906.1 L751.4 894.9 L752.1 882.2 L752.8 869.6 L753.5 858.9 L754.2 851.5 L754.8 849.3 L754.9 849.4 L755.6 854.3 L756.3 864.8 L757 878.4 L757.7 892.3 L758.4 904 L759.1 910.7 L759.4 911.5 L759.8 911.5 L760.5 911.4 L761.2 911.3 L761.9 911.1 L762.6 910.9 L763.3 910.6 L764 910.3 L764.7 910 L765.4 909.7 L766.1 909.4 L766.8 909.1 L767.5 908.8 L768.2 908.5 L768.9 908.3 L769.6 908.1 L770 908 L770.3 907.9 L771 907.8 L771.7 907.6 L772.4 907.5 L773.1 907.3 L773.8 907.2 L774.5 907 L775.2 906.9 L775.9 906.8 L776.6 906.7 L777.3 906.5 L778 906.4 L778.7 906.4 L779.4 906.3 L780.1 906.2 L780.8 906.2 L781.5 906.2 L781.6 906.2 L782.2 906.2 L782.9 906.2 L783.6 906.2 L784.3 906.2 L785 906.2 L785.7 906.2 L786.4 906.2 L787.1 906.2 L787.8 906.3 L788.5 906.3 L789.2 906.3 L789.9 906.3 L790.6 906.3 L791.3 906.3 L792 906.3 L792.7 906.4 L793.4 906.4 L794.1 906.4 L794.8 906.4 L795.5 906.4 L796.2 906.5 L796.9 906.5 L797.6 906.5 L798.3 906.5 L799 906.6 L799.7 906.6 L800.4 906.6 L801.1 906.7 L801.8 906.7 L802.5 906.7 L803.2 906.8 L803.9 906.8 L804.6 906.8 L805.3 906.9 L806 906.9 L806.7 906.9 L807.4 907 L808.1 907 L808.8 907 L809.5 907.1 L810.2 907.1 L810.9 907.2 L811.6 907.2 L812.3 907.2 L813 907.3 L813.7 907.3 L814.4 907.4 L815.1 907.4 L815.8 907.5 L816.5 907.5 L817.2 907.6 L817.9 907.6 L818.6 907.7 L819.3 907.7 L820 907.7 L820.7 907.8 L821.4 907.8 L822.1 907.9 L822.8 907.9 L823.5 908 L824.2 908 L824.9 908.1 L825.6 908.1 L826.3 908.2 L827 908.2 L827.7 908.3 L828.4 908.3 L829.1 908.4 L829.8 908.4 L830.5 908.5 L831.2 908.6 L831.9 908.6 L832.6 908.7 L833.3 908.7 L834 908.8 L834.7 908.8 L835.4 908.9 L836.1 908.9 L836.8 909 L837.5 909 L838.2 909.1 L838.9 909.1 L839.6 909.2 L840.3 909.2 L841 909.3 L841.7 909.3 L842.4 909.4 L843.1 909.5 L843.8 909.5 L844.5 909.6 L845.2 909.6 L845.9 909.7 L846.6 909.7 L847.3 909.8 L848 909.8 L848.7 909.9 L849.4 909.9 L850.1 910 L850.8 910 L851.5 910.1 L852.2 910.1 L852.9 910.2 L853.6 910.2 L854.3 910.3 L855 910.3 L855.7 910.4 L856.4 910.4 L857.1 910.4 L857.8 910.5 L858.5 910.5 L859.2 910.6 L859.9 910.6 L860.6 910.7 L861.3 910.7 L862 910.8 L862.7 910.8 L863.4 910.8 L864.1 910.9 L864.8 910.9 L865.5 911 L866.2 911 L866.9 911 L867.6 911.1 L868.3 911.1 L869 911.1 L869.7 911.2 L870.4 911.2 L871.1 911.3 L871.8 911.3 L872.5 911.3 L873.2 911.3 L873.9 911.4 L874.6 911.4 L875.3 911.4 L876 911.5 L876.7 911.5 L877 911.5 L877.4 911.5 L878.1 911.5 L878.8 911.6 L879.5 911.6 L880.2 911.6 L880.9 911.6 L881.6 911.7 L882.3 911.7 L883 911.7 L883.7 911.7 L884.4 911.8 L885.1 911.8 L885.8 911.8 L886.5 911.9 L887.2 911.9 L887.9 911.9 L888.6 911.9 L889.3 912 L890 912 L890.7 912 L891.4 912 L892.1 912.1 L892.8 912.1 L893.5 912.1 L894.2 912.1 L894.9 912.2 L895.6 912.2 L896.3 912.2 L897 912.3 L897.7 912.3 L898.4 912.3 L899.1 912.3 L899.8 912.4 L900.5 912.4 L901.2 912.4 L901.9 912.4 L902.6 912.5 L903.3 912.5 L904 912.5 L904.7 912.5 L905.4 912.6 L906.1 912.6 L906.8 912.6 L907.5 912.6 L908.2 912.7 L908.9 912.7 L909.6 912.7 L910.3 912.7 L911 912.8 L911.7 912.8 L912.4 912.8 L913.1 912.8 L913.8 912.9 L914.5 912.9 L915.2 912.9 L915.9 913 L916.6 913 L917.3 913 L918 913 L918.7 913 L919.4 913.1 L920.1 913.1 L920.8 913.1 L921.5 913.1 L922.2 913.2 L922.9 913.2 L923.6 913.2 L924.3 913.2 L925 913.3 L925.7 913.3 L926.4 913.3 L927.1 913.3 L927.8 913.4 L928.5 913.4 L929.2 913.4 L929.9 913.4 L930.6 913.5 L931.3 913.5 L932 913.5 L932.7 913.5 L933.4 913.5 L934.1 913.6 L934.8 913.6 L935.5 913.6 L936.2 913.6 L936.9 913.6 L937.6 913.7 L938.3 913.7 L939 913.7 L939.7 913.7 L940.4 913.7 L941.1 913.8 L941.8 913.8 L942.5 913.8 L943.2 913.8 L943.9 913.8 L944.6 913.9 L945.3 913.9 L946 913.9 L946.7 913.9 L947.4 913.9 L948.1 914 L948.8 914 L949.5 914 L950.2 914 L950.9 914 L951.6 914 L952.3 914.1 L953 914.1 L953.7 914.1 L954.4 914.1 L955.1 914.1 L955.8 914.1 L956.5 914.1 L957.2 914.2 L957.9 914.2 L958.6 914.2 L959.3 914.2 L960 914.2 L960.7 914.2 L961.4 914.2 L962.1 914.3 L962.8 914.3 L963.5 914.3 L964.2 914.3 L964.9 914.3 L965.6 914.3 L966.3 914.3 L967 914.3 L967.7 914.3 L968.4 914.4 L969.1 914.4 L969.8 914.4 L970.5 914.4 L971.2 914.4 L971.9 914.4 L972.6 914.4 L973.3 914.4 L974 914.4 L974.7 914.4 L975.4 914.4 L976.1 914.4 L976.8 914.5 L977.5 914.5 L978.2 914.5 L978.9 914.5 L979.6 914.5 L980.3 914.5 L981 914.5 L981.7 914.5 L982.4 914.5 L983.1 914.5 L983.8 914.5 L984.5 914.5 L985.2 914.5 L985.9 914.5 L986.6 914.5 L987.3 914.5 L987.9 914.5 L988 914.5 L988.7 914.5 L989.4 914.5 L990.1 914.5 L990.8 914.5 L991.5 914.5 L992.2 914.5 L992.9 914.5 L993.6 914.5 L994.3 914.5 L995 914.5 L995.7 914.5 L996.4 914.5 L997.1 914.5 L997.8 914.5 L998.5 914.5 L999.2 914.5 L999.9 914.5 L1000.6 914.5 L1001.3 914.5 L1002 914.5 L1002.7 914.5 L1003.4 914.5 L1004.1 914.5 L1004.8 914.5 L1005.5 914.5 L1006.2 914.5 L1006.9 914.5 L1007.6 914.5 L1008.3 914.5 L1009 914.5 L1009.7 914.5 L1010.4 914.5 L1011.1 914.5 L1011.8 914.5 L1012.5 914.5 L1013.2 914.5 L1013.9 914.5 L1014.6 914.5 L1015.3 914.5 L1016 914.5 L1016.7 914.5 L1017.4 914.5 L1018.1 914.5 L1018.8 914.5 L1019.5 914.5 L1020.2 914.5 L1020.9 914.5 L1021.6 914.5 L1022.3 914.5 L1023 914.5 L1023.7 914.5 L1024.4 914.5 L1025.1 914.5 L1025.8 914.5 L1026.5 914.5 L1027.2 914.5 L1027.9 914.5 L1028.6 914.5 L1029.3 914.5 L1030 914.5 L1030.7 914.5 L1031.4 914.5 L1032.1 914.5 L1032.8 914.5 L1033.5 914.5 L1034.2 914.5 L1034.9 914.5 L1035.6 914.5 L1036.3 914.5 L1037 914.5 L1037.7 914.5 L1038.4 914.5 L1039.1 914.5 L1039.8 914.5 L1040.5 914.5 L1041.2 914.5 L1041.9 914.5 L1042.6 914.5 L1043.3 914.5 L1044 914.5 L1044.7 914.5 L1045.4 914.5 L1046.1 914.5 L1046.8 914.5 L1047.5 914.5 L1048.2 914.5 L1048.9 914.5 L1049.6 914.5 L1050.3 914.5 L1051 914.5 L1051.7 914.5 L1052.4 914.5 L1053.1 914.5 L1053.8 914.5 L1054.5 914.5 L1055.2 914.5 L1055.9 914.4 L1056.6 914.4 L1057.3 914.4 L1058 914.4 L1058.7 914.4 L1059.4 914.4 L1060.1 914.4 L1060.8 914.4 L1061.5 914.4 L1062.2 914.4 L1062.9 914.4 L1063.6 914.4 L1064.3 914.4 L1065 914.4 L1065.7 914.4 L1066.4 914.4 L1067.1 914.4 L1067.8 914.4 L1068.5 914.4 L1069.2 914.4 L1069.9 914.4 L1070.6 914.4 L1071.3 914.4 L1072 914.4 L1072.7 914.4 L1073.4 914.4 L1074.1 914.4 L1074.8 914.4 L1075.5 914.4 L1076.2 914.4 L1076.9 914.4 L1077.6 914.4 L1078.3 914.4 L1079 914.4 L1079.7 914.4 L1080.4 914.4 L1081.1 914.4 L1081.8 914.4 L1082.5 914.4 L1083.2 914.4 L1083.9 914.4 L1084.6 914.4 L1085.3 914.4 L1086 914.3 L1086.7 914.3 L1087.4 914.3 L1088.1 914.3 L1088.8 914.3 L1089.5 914.3 L1090.2 914.3 L1090.9 914.3 L1091.6 914.3 L1092.3 914.3 L1093 914.3 L1093.7 914.3 L1094.4 914.3 L1095.1 914.3 L1095.8 914.3 L1096.5 914.3 L1097.2 914.3 L1097.9 914.3 L1098.6 914.3 L1099.3 914.3 L1100 914.3 L1100.7 914.3 L1101.4 914.3 L1102.1 914.3 L1102.8 914.3 L1103.5 914.3 L1104.2 914.2 L1104.9 914.2 L1105.6 914.2 L1106.3 914.2 L1107 914.2 L1107.7 914.2 L1108.4 914.2 L1109.1 914.2 L1109.8 914.2 L1110.5 914.2 L1111.2 914.2 L1111.9 914.2 L1112.6 914.2 L1113.3 914.2 L1114 914.2 L1114.7 914.2 L1115.4 914.2 L1116.1 914.2 L1116.8 914.2 L1117.5 914.2 L1118.2 914.1 L1118.9 914.1 L1119.6 914.1 L1120.3 914.1 L1121 914.1 L1121.7 914.1 L1122.4 914.1 L1123.1 914.1 L1123.8 914.1 L1124.5 914.1 L1125.2 914.1 L1125.9 914.1 L1126.6 914.1 L1127.3 914.1 L1128 914.1 L1128.7 914.1 L1129.4 914 L1130.1 914 L1130.8 914 L1131.5 914 L1132.2 914 L1132.9 914 L1133.6 914 L1134.3 914 L1135 914 L1135.7 914 L1136.4 914 L1137.1 914 L1137.8 914 L1138.5 914 L1139.2 913.9 L1139.9 913.9 L1140.6 913.9 L1141.3 913.9 L1142 913.9 L1142.7 913.9 L1143.4 913.9 L1143.4 913.9" stroke="#202020" stroke-width="3.6" fill="none" stroke-linejoin="round" stroke-linecap="round"/>
<path d="M541 237.6H617" stroke="#7070ee" stroke-width="3"/>
<path d="M541 295.5H617" stroke="#e8202a" stroke-width="3"/><circle cx="580" cy="295.5" r="2.5" fill="#a00"/>
<path d="M541 354.3H617" stroke="#555" stroke-width="3"/>
<g stroke="#6e6e6e" stroke-width="4" fill="none"><path d="M1311.3 962.8H2337.5"/><path d="M1313.3 962.8v16M1654 962.8v16M1994.7 962.8v16M2335.4 962.8v16M1483.6 962.8v8.5M1824.3 962.8v8.5M2165.1 962.8v8.5"/></g>
<path d="M1311 484C1342.5 482.7 1435.2 479.2 1500 476C1564.8 472.8 1646.7 467.8 1700 465C1753.3 462.2 1773.3 460.6 1820 459.4C1866.7 458.1 1897 458.1 1980 457.5C2063 456.9 2261.7 456.2 2318 456" stroke="#c9c3f2" stroke-width="4" fill="none"/>
<path d="M1311 478C1339.2 477.3 1443.5 477.8 1480 474C1516.5 470.2 1517.3 466 1530 455C1542.7 444 1548.5 426.5 1556 408C1563.5 389.5 1569.2 357.8 1575 344C1580.8 330.2 1585.7 324 1591 325C1596.3 326 1602.2 338.8 1607 350C1611.8 361.2 1615.2 378 1620 392C1624.8 406 1630.7 424.3 1636 434C1641.3 443.7 1644 445.8 1652 450C1660 454.2 1667.7 457 1684 459C1700.3 461 1714 461.8 1750 462C1786 462.2 1805.3 460.7 1900 460C1994.7 459.3 2248.3 458.3 2318 458" stroke="#b6e3e0" stroke-width="3.5" fill="none"/>
<path d="M1311 480C1342.5 478.3 1455.2 474.2 1500 470C1544.8 465.8 1561.7 463.3 1580 455C1598.3 446.7 1602.8 434.2 1610 420C1617.2 405.8 1618.5 389.2 1623 370C1627.5 350.8 1632.2 321.6 1637 305C1641.8 288.4 1646.8 269.3 1652 270.5C1657.2 271.7 1662.7 294.4 1668 312C1673.3 329.6 1678.7 357.3 1684 376C1689.3 394.7 1694.7 412.8 1700 424C1705.3 435.2 1707.7 438.3 1716 443C1724.3 447.7 1727.7 450.2 1750 452C1772.3 453.8 1755.3 453.8 1850 454C1944.7 454.2 2240 453.2 2318 453" stroke="#f4b8f0" stroke-width="3.5" fill="none"/>
<path d="M1311 482C1342.5 480.8 1448.5 478.3 1500 475C1551.5 471.7 1593.3 466.2 1620 462C1646.7 457.8 1646.7 460.3 1660 450C1673.3 439.7 1690 418.3 1700 400C1710 381.7 1713.3 363.3 1720 340C1726.7 316.7 1732.7 283.3 1740 260C1747.3 236.7 1757.3 206.7 1764 200C1770.7 193.3 1774 203.3 1780 220C1786 236.7 1793.3 273.3 1800 300C1806.7 326.7 1813.3 360.7 1820 380C1826.7 399.3 1830 406.7 1840 416C1850 425.3 1863.3 431.3 1880 436C1896.7 440.7 1920 442 1940 444C1960 446 1937 447 2000 448C2063 449 2265 449.7 2318 450" stroke="#e9e6bf" stroke-width="3.5" fill="none"/>
<path d="M1530 455C1534.3 447.2 1548.5 426.5 1556 408C1563.5 389.5 1569.2 357.8 1575 344C1580.8 330.2 1585.7 324 1591 325C1596.3 326 1602.2 338.8 1607 350C1611.8 361.2 1615.2 378 1620 392C1624.8 406 1633.3 427 1636 434" stroke="#2a9a94" stroke-width="3.2" fill="none" stroke-dasharray="6 4"/>
<path d="M1580 455C1585 449.2 1602.8 434.2 1610 420C1617.2 405.8 1618.5 389.2 1623 370C1627.5 350.8 1632.2 321.6 1637 305C1641.8 288.4 1646.8 269.3 1652 270.5C1657.2 271.7 1662.7 294.4 1668 312C1673.3 329.6 1678.7 357.3 1684 376C1689.3 394.7 1697.3 416 1700 424" stroke="#e020d8" stroke-width="3.2" fill="none" stroke-dasharray="6 4"/>
<path d="M1660 450C1666.7 441.7 1690 418.3 1700 400C1710 381.7 1713.3 363.3 1720 340C1726.7 316.7 1732.7 283.3 1740 260C1747.3 236.7 1757.3 206.7 1764 200C1770.7 193.3 1774 203.3 1780 220C1786 236.7 1793.3 273.3 1800 300C1806.7 326.7 1813.3 360.7 1820 380C1826.7 399.3 1836.7 410 1840 416" stroke="#a0a030" stroke-width="3.2" fill="none" stroke-dasharray="6 4"/>
<path d="M1311 469C1334.2 468.5 1419.8 468.8 1450 466C1480.2 463.2 1478.7 458.3 1492 452C1505.3 445.7 1518.7 441.3 1530 428C1541.3 414.7 1551.7 389.7 1560 372C1568.3 354.3 1573.3 337 1580 322C1586.7 307 1592.3 292 1600 282C1607.7 272 1617.7 269 1626 262C1634.3 255 1642.3 237 1650 240C1657.7 243 1664 264.8 1672 280C1680 295.2 1690 329.3 1698 331C1706 332.7 1713 308.2 1720 290C1727 271.8 1734.2 242 1740 222C1745.8 202 1750 182.7 1755 170C1760 157.3 1764.2 146.7 1770 146C1775.8 145.3 1782.5 152.3 1790 166C1797.5 179.7 1806.7 202 1815 228C1823.3 254 1832.5 298 1840 322C1847.5 346 1850 358.2 1860 372C1870 385.8 1883.3 395 1900 405C1916.7 415 1943.3 425.5 1960 432C1976.7 438.5 1940.3 441.6 2000 444C2059.7 446.4 2265 446.1 2318 446.5" stroke="#f3b4b4" stroke-width="5" fill="none"/>
<g fill="none" stroke="#555" stroke-width="1.6" opacity="0.9"><circle cx="1311" cy="483.5" r="5.6"/><circle cx="1314.4" cy="483.5" r="5.6"/><circle cx="1317.8" cy="483.5" r="5.6"/><circle cx="1321.2" cy="483.5" r="5.6"/><circle cx="1324.6" cy="483.5" r="5.6"/><circle cx="1328" cy="483.5" r="5.6"/><circle cx="1331.4" cy="483.5" r="5.6"/><circle cx="1334.8" cy="483.5" r="5.6"/><circle cx="1338.2" cy="483.4" r="5.6"/><circle cx="1341.6" cy="483.4" r="5.6"/><circle cx="1345" cy="483.4" r="5.6"/><circle cx="1348.4" cy="483.4" r="5.6"/><circle cx="1351.8" cy="483.4" r="5.6"/><circle cx="1355.2" cy="483.3" r="5.6"/><circle cx="1358.6" cy="483.3" r="5.6"/><circle cx="1362" cy="483.3" r="5.6"/><circle cx="1365.4" cy="483.2" r="5.6"/><circle cx="1368.8" cy="483.2" r="5.6"/><circle cx="1372.2" cy="483.1" r="5.6"/><circle cx="1375.6" cy="483.1" r="5.6"/><circle cx="1379" cy="483" r="5.6"/><circle cx="1382.4" cy="483" r="5.6"/><circle cx="1385.8" cy="482.9" r="5.6"/><circle cx="1389.2" cy="482.8" r="5.6"/><circle cx="1392.6" cy="482.8" r="5.6"/><circle cx="1396" cy="482.7" r="5.6"/><circle cx="1399.4" cy="482.6" r="5.6"/><circle cx="1402.8" cy="482.5" r="5.6"/><circle cx="1406.2" cy="482.4" r="5.6"/><circle cx="1409.6" cy="482.4" r="5.6"/><circle cx="1413" cy="482.3" r="5.6"/><circle cx="1416.4" cy="482.2" r="5.6"/><circle cx="1419.8" cy="482" r="5.6"/><circle cx="1423.2" cy="481.9" r="5.6"/><circle cx="1426.6" cy="481.8" r="5.6"/><circle cx="1430" cy="481.7" r="5.6"/><circle cx="1433.4" cy="481.6" r="5.6"/><circle cx="1436.8" cy="481.4" r="5.6"/><circle cx="1440.2" cy="481.3" r="5.6"/><circle cx="1443.6" cy="481.1" r="5.6"/><circle cx="1447" cy="481" r="5.6"/><circle cx="1450.4" cy="480.8" r="5.6"/><circle cx="1453.8" cy="480.7" r="5.6"/><circle cx="1457.2" cy="480.5" r="5.6"/><circle cx="1460.6" cy="480.3" r="5.6"/><circle cx="1464" cy="480.1" r="5.6"/><circle cx="1467.4" cy="479.8" r="5.6"/><circle cx="1470.8" cy="478.3" r="5.6"/><circle cx="1474.2" cy="475.6" r="5.6"/><circle cx="1477.6" cy="472.1" r="5.6"/><circle cx="1481" cy="468" r="5.6"/><circle cx="1484.4" cy="463.7" r="5.6"/><circle cx="1487.8" cy="459.6" r="5.6"/><circle cx="1491.2" cy="455.8" r="5.6"/><circle cx="1494.6" cy="452.6" r="5.6"/><circle cx="1498" cy="449.5" r="5.6"/><circle cx="1501.4" cy="446.5" r="5.6"/><circle cx="1504.8" cy="443.6" r="5.6"/><circle cx="1508.2" cy="440.6" r="5.6"/><circle cx="1511.6" cy="437.5" r="5.6"/><circle cx="1515" cy="434.2" r="5.6"/><circle cx="1518.4" cy="430.6" r="5.6"/><circle cx="1521.8" cy="426.7" r="5.6"/><circle cx="1525.2" cy="422.4" r="5.6"/><circle cx="1528.6" cy="417.4" r="5.6"/><circle cx="1532" cy="411.8" r="5.6"/><circle cx="1535.4" cy="405.6" r="5.6"/><circle cx="1538.8" cy="399" r="5.6"/><circle cx="1542.2" cy="392.1" r="5.6"/><circle cx="1545.6" cy="384.9" r="5.6"/><circle cx="1549" cy="377.7" r="5.6"/><circle cx="1552.4" cy="370.5" r="5.6"/><circle cx="1555.8" cy="363.4" r="5.6"/><circle cx="1559.2" cy="356.3" r="5.6"/><circle cx="1562.6" cy="349" r="5.6"/><circle cx="1566" cy="341.5" r="5.6"/><circle cx="1569.4" cy="333.9" r="5.6"/><circle cx="1572.8" cy="326.2" r="5.6"/><circle cx="1576.2" cy="318.1" r="5.6"/><circle cx="1579.6" cy="309.7" r="5.6"/><circle cx="1583" cy="301.2" r="5.6"/><circle cx="1586.4" cy="292.9" r="5.6"/><circle cx="1589.8" cy="284.9" r="5.6"/><circle cx="1593.2" cy="277.6" r="5.6"/><circle cx="1596.6" cy="271" r="5.6"/><circle cx="1600" cy="264.8" r="5.6"/><circle cx="1603.4" cy="259.1" r="5.6"/><circle cx="1606.8" cy="253.8" r="5.6"/><circle cx="1610.2" cy="249" r="5.6"/><circle cx="1613.6" cy="244.6" r="5.6"/><circle cx="1617" cy="240" r="5.6"/><circle cx="1620.4" cy="235.5" r="5.6"/><circle cx="1623.8" cy="231.5" r="5.6"/><circle cx="1627.2" cy="228.4" r="5.6"/><circle cx="1630.6" cy="226.4" r="5.6"/><circle cx="1634" cy="226.1" r="5.6"/><circle cx="1637.4" cy="227.4" r="5.6"/><circle cx="1640.8" cy="230.1" r="5.6"/><circle cx="1644.2" cy="233.6" r="5.6"/><circle cx="1647.6" cy="237.4" r="5.6"/><circle cx="1651" cy="241.1" r="5.6"/><circle cx="1654.4" cy="245.5" r="5.6"/><circle cx="1657.8" cy="250.6" r="5.6"/><circle cx="1661.2" cy="256.1" r="5.6"/><circle cx="1664.6" cy="261.4" r="5.6"/><circle cx="1668" cy="266.7" r="5.6"/><circle cx="1671.4" cy="272.2" r="5.6"/><circle cx="1674.8" cy="277.7" r="5.6"/><circle cx="1678.2" cy="282.7" r="5.6"/><circle cx="1681.6" cy="287" r="5.6"/><circle cx="1685" cy="291.6" r="5.6"/><circle cx="1688.4" cy="296" r="5.6"/><circle cx="1691.8" cy="299.5" r="5.6"/><circle cx="1695.2" cy="301.7" r="5.6"/><circle cx="1698.6" cy="301.6" r="5.6"/><circle cx="1702" cy="298.9" r="5.6"/><circle cx="1705.4" cy="294" r="5.6"/><circle cx="1708.8" cy="287.8" r="5.6"/><circle cx="1712.2" cy="281.1" r="5.6"/><circle cx="1715.6" cy="274.7" r="5.6"/><circle cx="1719" cy="268.8" r="5.6"/><circle cx="1722.4" cy="262.8" r="5.6"/><circle cx="1725.8" cy="256.4" r="5.6"/><circle cx="1729.2" cy="249.6" r="5.6"/><circle cx="1732.6" cy="242.2" r="5.6"/><circle cx="1736" cy="234" r="5.6"/><circle cx="1739.4" cy="224.8" r="5.6"/><circle cx="1742.8" cy="212.4" r="5.6"/><circle cx="1746.2" cy="197.2" r="5.6"/><circle cx="1749.6" cy="181.5" r="5.6"/><circle cx="1753" cy="168" r="5.6"/><circle cx="1756.4" cy="158.4" r="5.6"/><circle cx="1759.8" cy="149.7" r="5.6"/><circle cx="1763.2" cy="142.1" r="5.6"/><circle cx="1766.6" cy="137.2" r="5.6"/><circle cx="1770" cy="136" r="5.6"/><circle cx="1773.4" cy="136.9" r="5.6"/><circle cx="1776.8" cy="138.6" r="5.6"/><circle cx="1780.2" cy="141.2" r="5.6"/><circle cx="1783.6" cy="144.5" r="5.6"/><circle cx="1787" cy="148.3" r="5.6"/><circle cx="1790.4" cy="152.6" r="5.6"/><circle cx="1793.8" cy="160.3" r="5.6"/><circle cx="1797.2" cy="171.2" r="5.6"/><circle cx="1800.6" cy="181.7" r="5.6"/><circle cx="1804" cy="191" r="5.6"/><circle cx="1807.4" cy="200.4" r="5.6"/><circle cx="1810.8" cy="211.5" r="5.6"/><circle cx="1814.2" cy="226.8" r="5.6"/><circle cx="1817.6" cy="247.2" r="5.6"/><circle cx="1821" cy="264.4" r="5.6"/><circle cx="1824.4" cy="279" r="5.6"/><circle cx="1827.8" cy="292.6" r="5.6"/><circle cx="1831.2" cy="305.1" r="5.6"/><circle cx="1834.6" cy="316.5" r="5.6"/><circle cx="1838" cy="326.6" r="5.6"/><circle cx="1841.4" cy="335.6" r="5.6"/><circle cx="1844.8" cy="343.9" r="5.6"/><circle cx="1848.2" cy="351.8" r="5.6"/><circle cx="1851.6" cy="358.8" r="5.6"/><circle cx="1855" cy="365" r="5.6"/><circle cx="1858.4" cy="370" r="5.6"/><circle cx="1861.8" cy="374" r="5.6"/><circle cx="1865.2" cy="377.3" r="5.6"/><circle cx="1868.6" cy="380.3" r="5.6"/><circle cx="1872" cy="383" r="5.6"/><circle cx="1875.4" cy="385.4" r="5.6"/><circle cx="1878.8" cy="387.6" r="5.6"/><circle cx="1882.2" cy="389.8" r="5.6"/><circle cx="1885.6" cy="391.9" r="5.6"/><circle cx="1889" cy="394" r="5.6"/><circle cx="1892.4" cy="396.3" r="5.6"/><circle cx="1895.8" cy="398.6" r="5.6"/><circle cx="1899.2" cy="400.8" r="5.6"/><circle cx="1902.6" cy="403" r="5.6"/><circle cx="1906" cy="405.1" r="5.6"/><circle cx="1909.4" cy="407.2" r="5.6"/><circle cx="1912.8" cy="409.3" r="5.6"/><circle cx="1916.2" cy="411.4" r="5.6"/><circle cx="1919.6" cy="413.4" r="5.6"/><circle cx="1923" cy="415.4" r="5.6"/><circle cx="1926.4" cy="417.4" r="5.6"/><circle cx="1929.8" cy="419.3" r="5.6"/><circle cx="1933.2" cy="421.1" r="5.6"/><circle cx="1936.6" cy="422.9" r="5.6"/><circle cx="1940" cy="424.6" r="5.6"/><circle cx="1943.4" cy="426.4" r="5.6"/><circle cx="1946.8" cy="428.2" r="5.6"/><circle cx="1950.2" cy="430" r="5.6"/><circle cx="1953.6" cy="432" r="5.6"/><circle cx="1957" cy="434.1" r="5.6"/><circle cx="1960.4" cy="436.3" r="5.6"/><circle cx="1963.8" cy="438.9" r="5.6"/><circle cx="1967.2" cy="441.8" r="5.6"/><circle cx="1970.6" cy="444.9" r="5.6"/><circle cx="1974" cy="447.8" r="5.6"/><circle cx="1977.4" cy="450.4" r="5.6"/><circle cx="1980.8" cy="452.4" r="5.6"/><circle cx="1984.2" cy="454.3" r="5.6"/><circle cx="1987.6" cy="456.1" r="5.6"/><circle cx="1991" cy="457.7" r="5.6"/><circle cx="1994.4" cy="459" r="5.6"/><circle cx="1997.8" cy="459.8" r="5.6"/><circle cx="2001.2" cy="460" r="5.6"/><circle cx="2004.6" cy="460.1" r="5.6"/><circle cx="2008" cy="460.1" r="5.6"/><circle cx="2011.4" cy="460.2" r="5.6"/><circle cx="2014.8" cy="460.2" r="5.6"/><circle cx="2018.2" cy="460.3" r="5.6"/><circle cx="2021.6" cy="460.4" r="5.6"/><circle cx="2025" cy="460.4" r="5.6"/><circle cx="2028.4" cy="460.5" r="5.6"/><circle cx="2031.8" cy="460.5" r="5.6"/><circle cx="2035.2" cy="460.6" r="5.6"/><circle cx="2038.6" cy="460.6" r="5.6"/><circle cx="2042" cy="460.6" r="5.6"/><circle cx="2045.4" cy="460.7" r="5.6"/><circle cx="2048.8" cy="460.7" r="5.6"/><circle cx="2052.2" cy="460.8" r="5.6"/><circle cx="2055.6" cy="460.8" r="5.6"/><circle cx="2059" cy="460.9" r="5.6"/><circle cx="2062.4" cy="460.9" r="5.6"/><circle cx="2065.8" cy="460.9" r="5.6"/><circle cx="2069.2" cy="461" r="5.6"/><circle cx="2072.6" cy="461" r="5.6"/><circle cx="2076" cy="461.1" r="5.6"/><circle cx="2079.4" cy="461.1" r="5.6"/><circle cx="2082.8" cy="461.1" r="5.6"/><circle cx="2086.2" cy="461.2" r="5.6"/><circle cx="2089.6" cy="461.2" r="5.6"/><circle cx="2093" cy="461.2" r="5.6"/><circle cx="2096.4" cy="461.3" r="5.6"/><circle cx="2099.8" cy="461.3" r="5.6"/><circle cx="2103.2" cy="461.3" r="5.6"/><circle cx="2106.6" cy="461.3" r="5.6"/><circle cx="2110" cy="461.4" r="5.6"/><circle cx="2113.4" cy="461.4" r="5.6"/><circle cx="2116.8" cy="461.4" r="5.6"/><circle cx="2120.2" cy="461.4" r="5.6"/><circle cx="2123.6" cy="461.5" r="5.6"/><circle cx="2127" cy="461.5" r="5.6"/><circle cx="2130.4" cy="461.5" r="5.6"/><circle cx="2133.8" cy="461.5" r="5.6"/><circle cx="2137.2" cy="461.6" r="5.6"/><circle cx="2140.6" cy="461.6" r="5.6"/><circle cx="2144" cy="461.6" r="5.6"/><circle cx="2147.4" cy="461.6" r="5.6"/><circle cx="2150.8" cy="461.6" r="5.6"/><circle cx="2154.2" cy="461.7" r="5.6"/><circle cx="2157.6" cy="461.7" r="5.6"/><circle cx="2161" cy="461.7" r="5.6"/><circle cx="2164.4" cy="461.7" r="5.6"/><circle cx="2167.8" cy="461.7" r="5.6"/><circle cx="2171.2" cy="461.7" r="5.6"/><circle cx="2174.6" cy="461.8" r="5.6"/><circle cx="2178" cy="461.8" r="5.6"/><circle cx="2181.4" cy="461.8" r="5.6"/><circle cx="2184.8" cy="461.8" r="5.6"/><circle cx="2188.2" cy="461.8" r="5.6"/><circle cx="2191.6" cy="461.8" r="5.6"/><circle cx="2195" cy="461.8" r="5.6"/><circle cx="2198.4" cy="461.9" r="5.6"/><circle cx="2201.8" cy="461.9" r="5.6"/><circle cx="2205.2" cy="461.9" r="5.6"/><circle cx="2208.6" cy="461.9" r="5.6"/><circle cx="2212" cy="461.9" r="5.6"/><circle cx="2215.4" cy="461.9" r="5.6"/><circle cx="2218.8" cy="461.9" r="5.6"/><circle cx="2222.2" cy="461.9" r="5.6"/><circle cx="2225.6" cy="461.9" r="5.6"/><circle cx="2229" cy="461.9" r="5.6"/><circle cx="2232.4" cy="461.9" r="5.6"/><circle cx="2235.8" cy="461.9" r="5.6"/><circle cx="2239.2" cy="461.9" r="5.6"/><circle cx="2242.6" cy="462" r="5.6"/><circle cx="2246" cy="462" r="5.6"/><circle cx="2249.4" cy="462" r="5.6"/><circle cx="2252.8" cy="462" r="5.6"/><circle cx="2256.2" cy="462" r="5.6"/><circle cx="2259.6" cy="462" r="5.6"/><circle cx="2263" cy="462" r="5.6"/><circle cx="2266.4" cy="462" r="5.6"/><circle cx="2269.8" cy="462" r="5.6"/><circle cx="2273.2" cy="462" r="5.6"/><circle cx="2276.6" cy="462" r="5.6"/><circle cx="2280" cy="462" r="5.6"/><circle cx="2283.4" cy="462" r="5.6"/><circle cx="2286.8" cy="462" r="5.6"/><circle cx="2290.2" cy="462" r="5.6"/><circle cx="2293.6" cy="462" r="5.6"/><circle cx="2297" cy="462" r="5.6"/><circle cx="2300.4" cy="462" r="5.6"/><circle cx="2303.8" cy="462" r="5.6"/><circle cx="2307.2" cy="462" r="5.6"/><circle cx="2310.6" cy="462" r="5.6"/><circle cx="2314" cy="462" r="5.6"/><circle cx="2317.4" cy="462" r="5.6"/></g>
<path d="M1492 450C1498.3 445.8 1518.7 438.7 1530 425C1541.3 411.3 1551.7 385.8 1560 368C1568.3 350.2 1573.3 334.3 1580 318C1586.7 301.7 1592.5 283 1600 270C1607.5 257 1616.8 247.3 1625 240C1633.2 232.7 1641.5 222.3 1649 226C1656.5 229.7 1662 247.7 1670 262C1678 276.3 1688.7 309.8 1697 312C1705.3 314.2 1712.8 291.7 1720 275C1727.2 258.3 1734.2 230.7 1740 212C1745.8 193.3 1750 175 1755 163C1760 151 1764.2 140.8 1770 140C1775.8 139.2 1782.5 144.3 1790 158C1797.5 171.7 1806.7 195.3 1815 222C1823.3 248.7 1832.5 293.7 1840 318C1847.5 342.3 1850 354 1860 368C1870 382 1883.3 391.7 1900 402C1916.7 412.3 1950 425.3 1960 430" stroke="#e01818" stroke-width="3.4" fill="none" stroke-dasharray="7 5"/>
<path d="M1313 958.5H1381" stroke="#e010d0" stroke-width="5"/>
<path d="M1380 958.5C1420 956.2 1546.7 948.8 1620 945C1693.3 941.2 1756.7 936.8 1820 935.5C1883.3 934.2 1914 936.4 2000 937C2086 937.6 2280 938.7 2336 939" stroke="#f0a0e8" stroke-width="4" fill="none"/>
<path d="M1380 957C1416.7 955.8 1544 954.2 1600 950C1656 945.8 1686 937.3 1716 932C1746 926.7 1762.7 920.7 1780 918C1797.3 915.3 1806.7 915.3 1820 916C1833.3 916.7 1838.3 919.2 1860 922C1881.7 924.8 1870.7 930.5 1950 933C2029.3 935.5 2271.7 936.3 2336 937" stroke="#b8e4dc" stroke-width="3.5" fill="none"/>
<path d="M1380 956C1404 954.7 1489.3 953 1524 948C1558.7 943 1572 934 1588 926C1604 918 1609.3 911.2 1620 900C1630.7 888.8 1641.3 871.4 1652 858.6C1662.7 845.8 1675.4 829.9 1684 823C1692.6 816.1 1697 816.9 1703.5 817C1710 817.1 1715.3 818.6 1722.7 823.4C1730.1 828.2 1738.5 837.3 1748 845.8C1757.5 854.3 1769.3 865 1780 874.6C1790.7 884.2 1800.3 895.9 1812 903.5C1823.7 911.1 1827 915.2 1850 920C1873 924.8 1869 929.3 1950 932C2031 934.7 2271.7 935.3 2336 936" stroke="#b0aaf4" stroke-width="4" fill="none"/>
<path d="M1380 955C1406.7 953.3 1508.3 950.8 1540 945C1571.7 939.2 1562.5 934.2 1570 920C1577.5 905.8 1580.4 892.7 1585 860C1589.6 827.3 1593.6 762.3 1597.8 724C1602 685.7 1605.7 654.8 1610 630C1614.3 605.2 1619.1 578.3 1623.4 575C1627.7 571.7 1631.7 590.5 1636 610C1640.3 629.5 1643.7 657 1649 692C1654.3 727 1662.2 788 1668 820C1673.8 852 1676 865.8 1684 884C1692 902.2 1703.3 919.7 1716 929C1728.7 938.3 1656.7 938.5 1760 940C1863.3 941.5 2240 938.3 2336 938" stroke="#f4b4b0" stroke-width="3" fill="none" stroke-dasharray="8 4"/>
<path d="M1380 953C1391.7 952.5 1430 951.2 1450 950C1470 948.8 1487.7 947.3 1500 946C1512.3 944.7 1517.3 944.7 1524 942C1530.7 939.3 1535.7 934.8 1540 930C1544.3 925.2 1548.3 915.8 1550 913" stroke="#1a1a1a" stroke-width="3.5" fill="none"/>
<path d="M1748 840C1753.3 844.3 1771.4 859.6 1780 866C1788.6 872.4 1792.8 874.9 1799.5 878.6C1806.2 882.3 1795.7 881.7 1820 888C1844.3 894.3 1892.5 910 1945.6 916.5C1998.7 923 2073.4 924.2 2138.6 926.7C2203.8 929.2 2303.7 930.9 2336.7 931.8" stroke="#1a1a1a" stroke-width="3.5" fill="none"/>
<g fill="none" stroke="#6a6a6a" stroke-width="2"><rect x="1518.5" y="936.5" width="11" height="11"/><rect x="1522.7" y="934.7" width="11" height="11"/><rect x="1526.9" y="931.8" width="11" height="11"/><rect x="1531.1" y="928" width="11" height="11"/><rect x="1535.3" y="923.6" width="11" height="11"/><rect x="1539.5" y="917.6" width="11" height="11"/><rect x="1543.7" y="909.3" width="11" height="11"/><rect x="1547.9" y="896.6" width="11" height="11"/><rect x="1552.1" y="878.1" width="11" height="11"/><rect x="1556.3" y="859.6" width="11" height="11"/><rect x="1560.5" y="844.8" width="11" height="11"/><rect x="1564.7" y="831" width="11" height="11"/><rect x="1568.9" y="815.7" width="11" height="11"/><rect x="1573.1" y="799.3" width="11" height="11"/><rect x="1577.3" y="777.4" width="11" height="11"/><rect x="1581.5" y="742.2" width="11" height="11"/><rect x="1585.7" y="714.5" width="11" height="11"/><rect x="1589.9" y="682.6" width="11" height="11"/><rect x="1594.1" y="642.4" width="11" height="11"/><rect x="1598.3" y="598.4" width="11" height="11"/><rect x="1602.5" y="575.9" width="11" height="11"/><rect x="1606.7" y="559" width="11" height="11"/><rect x="1610.9" y="540.5" width="11" height="11"/><rect x="1615.1" y="525.6" width="11" height="11"/><rect x="1619.3" y="521.5" width="11" height="11"/><rect x="1623.5" y="526.3" width="11" height="11"/><rect x="1627.7" y="536.6" width="11" height="11"/><rect x="1631.9" y="552.3" width="11" height="11"/><rect x="1636.1" y="572.7" width="11" height="11"/><rect x="1640.3" y="597" width="11" height="11"/><rect x="1644.5" y="623.6" width="11" height="11"/><rect x="1648.7" y="646.6" width="11" height="11"/><rect x="1652.9" y="666.5" width="11" height="11"/><rect x="1657.1" y="689.9" width="11" height="11"/><rect x="1661.3" y="710.8" width="11" height="11"/><rect x="1665.5" y="728.6" width="11" height="11"/><rect x="1669.7" y="742.9" width="11" height="11"/><rect x="1673.9" y="754.1" width="11" height="11"/><rect x="1678.1" y="762.8" width="11" height="11"/><rect x="1682.3" y="769" width="11" height="11"/><rect x="1686.5" y="773.9" width="11" height="11"/><rect x="1690.7" y="778.3" width="11" height="11"/><rect x="1694.9" y="783" width="11" height="11"/><rect x="1699.1" y="788.2" width="11" height="11"/><rect x="1703.3" y="793.5" width="11" height="11"/><rect x="1707.5" y="798.6" width="11" height="11"/><rect x="1711.7" y="803.1" width="11" height="11"/><rect x="1715.9" y="807.3" width="11" height="11"/><rect x="1720.1" y="811.3" width="11" height="11"/><rect x="1724.3" y="815.1" width="11" height="11"/><rect x="1728.5" y="818.7" width="11" height="11"/><rect x="1732.7" y="822.3" width="11" height="11"/><rect x="1736.9" y="825.8" width="11" height="11"/><rect x="1741.1" y="829.3" width="11" height="11"/><rect x="1745.3" y="832.9" width="11" height="11"/><rect x="1749.5" y="836.5" width="11" height="11"/><rect x="1753.7" y="840" width="11" height="11"/><rect x="1757.9" y="843.6" width="11" height="11"/><rect x="1762.1" y="847" width="11" height="11"/><rect x="1766.3" y="850.3" width="11" height="11"/><rect x="1770.5" y="853.6" width="11" height="11"/><rect x="1774.7" y="856.6" width="11" height="11"/><rect x="1778.9" y="859.6" width="11" height="11"/><rect x="1783.1" y="862.5" width="11" height="11"/><rect x="1787.3" y="865.2" width="11" height="11"/><rect x="1791.5" y="867.7" width="11" height="11"/><rect x="1795.7" y="870" width="11" height="11"/><rect x="1799.9" y="872.2" width="11" height="11"/><rect x="1804.1" y="874.3" width="11" height="11"/><rect x="1808.3" y="876.1" width="11" height="11"/><rect x="1812.5" y="877.8" width="11" height="11"/><rect x="1816.7" y="879.2" width="11" height="11"/><rect x="1820.9" y="880.6" width="11" height="11"/><rect x="1825.1" y="881.9" width="11" height="11"/><rect x="1829.3" y="883.3" width="11" height="11"/><rect x="1833.5" y="884.6" width="11" height="11"/><rect x="1837.7" y="885.8" width="11" height="11"/><rect x="1841.9" y="887.1" width="11" height="11"/><rect x="1846.1" y="888.3" width="11" height="11"/><rect x="1850.3" y="889.5" width="11" height="11"/><rect x="1854.5" y="890.7" width="11" height="11"/><rect x="1858.7" y="891.8" width="11" height="11"/><rect x="1862.9" y="892.9" width="11" height="11"/><rect x="1867.1" y="894" width="11" height="11"/><rect x="1871.3" y="895.1" width="11" height="11"/><rect x="1875.5" y="896.1" width="11" height="11"/><rect x="1879.7" y="897.1" width="11" height="11"/><rect x="1883.9" y="898" width="11" height="11"/><rect x="1888.1" y="899" width="11" height="11"/><rect x="1892.3" y="899.8" width="11" height="11"/><rect x="1896.5" y="900.7" width="11" height="11"/><rect x="1900.7" y="901.5" width="11" height="11"/><rect x="1904.9" y="902.2" width="11" height="11"/><rect x="1909.1" y="903" width="11" height="11"/><rect x="1913.3" y="903.7" width="11" height="11"/><rect x="1917.5" y="904.3" width="11" height="11"/><rect x="1921.7" y="904.9" width="11" height="11"/><rect x="1925.9" y="905.5" width="11" height="11"/><rect x="1930.1" y="906" width="11" height="11"/><rect x="1934.3" y="906.4" width="11" height="11"/><rect x="1938.5" y="906.9" width="11" height="11"/><rect x="1942.7" y="907.2" width="11" height="11"/><rect x="1946.9" y="907.6" width="11" height="11"/><rect x="1951.1" y="908" width="11" height="11"/><rect x="1955.3" y="908.3" width="11" height="11"/><rect x="1959.5" y="908.6" width="11" height="11"/><rect x="1963.7" y="909" width="11" height="11"/><rect x="1967.9" y="909.3" width="11" height="11"/><rect x="1972.1" y="909.6" width="11" height="11"/><rect x="1976.3" y="909.9" width="11" height="11"/><rect x="1980.5" y="910.2" width="11" height="11"/><rect x="1984.7" y="910.5" width="11" height="11"/><rect x="1988.9" y="910.7" width="11" height="11"/><rect x="1993.1" y="911" width="11" height="11"/><rect x="1997.3" y="911.3" width="11" height="11"/><rect x="2001.5" y="911.5" width="11" height="11"/><rect x="2005.7" y="911.8" width="11" height="11"/><rect x="2009.9" y="912" width="11" height="11"/><rect x="2014.1" y="912.3" width="11" height="11"/><rect x="2018.3" y="912.5" width="11" height="11"/><rect x="2022.5" y="912.7" width="11" height="11"/><rect x="2026.7" y="912.9" width="11" height="11"/><rect x="2030.9" y="913.1" width="11" height="11"/><rect x="2035.1" y="913.4" width="11" height="11"/><rect x="2039.3" y="913.6" width="11" height="11"/><rect x="2043.5" y="913.8" width="11" height="11"/><rect x="2047.7" y="913.9" width="11" height="11"/><rect x="2051.9" y="914.1" width="11" height="11"/><rect x="2056.1" y="914.3" width="11" height="11"/><rect x="2060.3" y="914.5" width="11" height="11"/><rect x="2064.5" y="914.7" width="11" height="11"/><rect x="2068.7" y="914.8" width="11" height="11"/><rect x="2072.9" y="915" width="11" height="11"/><rect x="2077.1" y="915.2" width="11" height="11"/><rect x="2081.3" y="915.3" width="11" height="11"/><rect x="2085.5" y="915.5" width="11" height="11"/><rect x="2089.7" y="915.7" width="11" height="11"/><rect x="2093.9" y="915.8" width="11" height="11"/><rect x="2098.1" y="916" width="11" height="11"/><rect x="2102.3" y="916.1" width="11" height="11"/><rect x="2106.5" y="916.3" width="11" height="11"/><rect x="2110.7" y="916.4" width="11" height="11"/><rect x="2114.9" y="916.6" width="11" height="11"/><rect x="2119.1" y="916.7" width="11" height="11"/><rect x="2123.3" y="916.9" width="11" height="11"/><rect x="2127.5" y="917" width="11" height="11"/><rect x="2131.7" y="917.2" width="11" height="11"/><rect x="2135.9" y="917.3" width="11" height="11"/><rect x="2140.1" y="917.4" width="11" height="11"/><rect x="2144.3" y="917.6" width="11" height="11"/><rect x="2148.5" y="917.7" width="11" height="11"/><rect x="2152.7" y="917.9" width="11" height="11"/><rect x="2156.9" y="918" width="11" height="11"/><rect x="2161.1" y="918.2" width="11" height="11"/><rect x="2165.3" y="918.3" width="11" height="11"/><rect x="2169.5" y="918.4" width="11" height="11"/><rect x="2173.7" y="918.6" width="11" height="11"/><rect x="2177.9" y="918.7" width="11" height="11"/><rect x="2182.1" y="918.8" width="11" height="11"/><rect x="2186.3" y="919" width="11" height="11"/><rect x="2190.5" y="919.1" width="11" height="11"/><rect x="2194.7" y="919.2" width="11" height="11"/><rect x="2198.9" y="919.4" width="11" height="11"/><rect x="2203.1" y="919.5" width="11" height="11"/><rect x="2207.3" y="919.6" width="11" height="11"/><rect x="2211.5" y="919.7" width="11" height="11"/><rect x="2215.7" y="919.9" width="11" height="11"/><rect x="2219.9" y="920" width="11" height="11"/><rect x="2224.1" y="920.1" width="11" height="11"/><rect x="2228.3" y="920.2" width="11" height="11"/><rect x="2232.5" y="920.3" width="11" height="11"/><rect x="2236.7" y="920.4" width="11" height="11"/><rect x="2240.9" y="920.5" width="11" height="11"/><rect x="2245.1" y="920.7" width="11" height="11"/><rect x="2249.3" y="920.8" width="11" height="11"/><rect x="2253.5" y="920.9" width="11" height="11"/><rect x="2257.7" y="921" width="11" height="11"/><rect x="2261.9" y="921.1" width="11" height="11"/><rect x="2266.1" y="921.2" width="11" height="11"/><rect x="2270.3" y="921.2" width="11" height="11"/><rect x="2274.5" y="921.3" width="11" height="11"/><rect x="2278.7" y="921.4" width="11" height="11"/><rect x="2282.9" y="921.5" width="11" height="11"/><rect x="2287.1" y="921.6" width="11" height="11"/><rect x="2291.3" y="921.7" width="11" height="11"/><rect x="2295.5" y="921.8" width="11" height="11"/><rect x="2299.7" y="921.8" width="11" height="11"/><rect x="2303.9" y="921.9" width="11" height="11"/><rect x="2308.1" y="922" width="11" height="11"/><rect x="2312.3" y="922" width="11" height="11"/><rect x="2316.5" y="922.1" width="11" height="11"/><rect x="2320.7" y="922.2" width="11" height="11"/><rect x="2324.9" y="922.2" width="11" height="11"/><rect x="2329.1" y="922.3" width="11" height="11"/></g>
<g stroke="#111" stroke-width="4" fill="none"><path d="M185.3 2102.5H1168"/><path d="M187.3 2102.5v-20.5M383.1 2102.5v-20.5M578.9 2102.5v-20.5M774.7 2102.5v-20.5M970.5 2102.5v-20.5M1166.3 2102.5v-20.5M285.2 2102.5v-11M481 2102.5v-11M676.8 2102.5v-11M872.6 2102.5v-11M1068.4 2102.5v-11"/></g>
<path d="M273 2057C285.8 2054.2 325.5 2047.7 350 2040C374.5 2032.3 400.2 2020.8 420 2011C439.8 2001.2 455.5 1990 469 1981C482.5 1972 492 1966 501 1957C510 1948 511.8 1936.5 523 1927C534.2 1917.5 552.3 1909 568 1900C583.7 1891 600.7 1881.2 617 1873C633.3 1864.8 645.5 1859.7 666 1851C686.5 1842.3 714.3 1832.2 740 1821C765.7 1809.8 803.4 1792.1 820 1784C836.6 1775.9 819.6 1781.1 839.5 1772.6C859.4 1764 906 1747.1 939.3 1732.7C972.5 1718.3 1005.8 1699.5 1039 1686.2C1072.2 1672.9 1121.1 1659 1138.8 1653C1156.5 1647 1144 1650.5 1145 1650" stroke="#b4b4d8" stroke-width="5" fill="none"/>
<path d="M273 2060C285.8 2057.2 325.5 2050.7 350 2043C374.5 2035.3 400.2 2023.8 420 2014C439.8 2004.2 455.5 1993 469 1984C482.5 1975 492 1969 501 1960C510 1951 511.8 1939.5 523 1930C534.2 1920.5 552.3 1912 568 1903C583.7 1894 600.7 1884.2 617 1876C633.3 1867.8 645.5 1862.7 666 1854C686.5 1845.3 714.3 1835.2 740 1824C765.7 1812.8 803.4 1795.1 820 1787C836.6 1778.9 819.6 1784.1 839.5 1775.6C859.4 1767 906 1750.1 939.3 1735.7C972.5 1721.3 1005.8 1702.5 1039 1689.2C1072.2 1675.9 1121.1 1662 1138.8 1656C1156.5 1650 1144 1653.5 1145 1653" stroke="#8a8aa8" stroke-width="1.5" fill="none"/>
<path d="M420 2003C426.7 1998.3 448.5 1984 460 1975C471.5 1966 479 1960.7 489 1949C499 1937.3 509.3 1919.3 520 1905C530.7 1890.7 544.7 1877.2 553 1863C561.3 1848.8 565.2 1838.8 570 1820C574.8 1801.2 577.8 1770 582 1750C586.2 1730 590.7 1713 595 1700C599.3 1687 605.8 1676.7 608 1672" stroke="#c8c8c8" stroke-width="3.5" fill="none"/>
<path d="M476 1700C476.7 1725 478.5 1811.7 480 1850C481.5 1888.3 483 1911.7 485 1930C487 1948.3 486.2 1953 492 1960C497.8 1967 515.3 1970 520 1972" stroke="#c8c8c8" stroke-width="3.5" fill="none"/>
<path d="M535 1700C536.2 1713.3 539 1753.7 542 1780C545 1806.3 549.2 1843.3 553 1858C556.8 1872.7 557.2 1866 565 1868C572.8 1870 587.5 1871.3 600 1870C612.5 1868.7 623.3 1865.8 640 1860C656.7 1854.2 681.3 1842.7 700 1835C718.7 1827.3 743.3 1817.5 752 1814" stroke="#c8c8c8" stroke-width="3.5" fill="none"/>
<path d="M612 1680C614.2 1686.7 620.3 1705 625 1720C629.7 1735 635.2 1757.2 640 1770C644.8 1782.8 649.7 1791.7 654 1797C658.3 1802.3 658.3 1800.7 666 1802C673.7 1803.3 685.7 1803.3 700 1805C714.3 1806.7 743.3 1810.8 752 1812" stroke="#c8c8c8" stroke-width="3.5" fill="none"/>
<path d="M740 1822C745 1818.3 761.7 1812.8 770 1800C778.3 1787.2 784.5 1757.3 790 1745C795.5 1732.7 798.8 1726 803 1726C807.2 1726 811.2 1740.5 815 1745C818.8 1749.5 820.8 1749.8 826 1752.7C831.2 1755.6 837 1763 846 1762.6C855 1762.1 874.3 1752.1 880 1750" stroke="#b8b8e8" stroke-width="3.5" fill="none"/>
<path d="M790 1800C795 1790 812.5 1766.7 820 1740C827.5 1713.3 830.7 1670 835 1640C839.3 1610 841.9 1580 846 1560C850.1 1540 855.2 1520 859.5 1520C863.8 1520 867.8 1541.7 872 1560C876.2 1578.3 881.5 1612.3 885 1630C888.5 1647.7 889.7 1655.2 893 1666C896.3 1676.8 901.2 1688.3 905 1695C908.8 1701.7 910.2 1703.2 916 1706C921.8 1708.8 930.7 1711.5 940 1712C949.3 1712.5 962 1711 972 1709C982 1707 988.7 1703.8 1000 1700C1011.3 1696.2 1033.3 1688.3 1040 1686" stroke="#c4e4c8" stroke-width="3.5" fill="none"/>
<path d="M766 1812.5C780.5 1804.2 827.8 1779.2 852.8 1762.6C877.8 1746 900.5 1732.2 916 1712.8C931.5 1693.4 937.8 1666.5 946 1646C954.2 1625.5 959.5 1604.3 965 1590C970.5 1575.7 974.7 1561.7 979.2 1560C983.7 1558.3 987.6 1571.2 992 1580C996.4 1588.8 998 1602 1005.8 1613C1013.6 1624 1027.9 1639.9 1039 1646C1050.1 1652.1 1054.6 1649.3 1072.3 1649.6C1090 1649.9 1132.9 1648.3 1145 1648" stroke="#e020e0" stroke-width="3.5" fill="none"/>
<path d="M276 2044C330 2038 380 2030 410 2020C425 2012 433 2000 438 1986L441 1990C438 2015 430 2030 415 2040C380 2050 320 2056 276 2057Z" fill="#0a0a0a"/>
<path d="M272 2042C280 2040 305.3 2034.3 320 2030C334.7 2025.7 347 2021.3 360 2016C373 2010.7 387.7 2007.2 398 1998C408.3 1988.8 416.3 1972.2 422 1961C427.7 1949.8 429.5 1939.3 432 1931C434.5 1922.7 435.5 1922.8 437 1911C438.5 1899.2 439.4 1875.3 441 1860C442.6 1844.7 445.4 1833.4 446.5 1819C447.6 1804.6 447.1 1788.8 447.5 1773.6C447.9 1758.4 448.5 1743.5 449 1728C449.5 1712.5 449.9 1696.5 450.7 1680.7C451.5 1664.9 453.2 1647.8 454 1633.4C454.8 1619 455.1 1605.7 455.6 1594.3C456.1 1582.9 456.3 1567.4 457.2 1565C458.1 1562.6 459.6 1572.4 461 1580C462.4 1587.6 464.1 1599.5 465.4 1610.6C466.7 1621.7 467.8 1635 468.6 1646.4C469.4 1657.8 469.7 1668.7 470.3 1679C470.9 1689.3 471.2 1699.7 472 1708.4C472.8 1717.1 474.2 1721.8 475 1731C475.8 1740.2 475.6 1762.3 476.8 1763.8C478 1765.3 479.8 1753.6 482 1740C484.2 1726.4 488.2 1696.8 489.8 1682.3C491.4 1667.8 491.1 1663.4 491.5 1653C491.9 1642.6 491.8 1630.9 492 1620C492.2 1609.1 492.7 1599.1 493 1587.8C493.3 1576.5 493.6 1564 494 1552C494.4 1540 494.8 1528 495.4 1516C495.9 1504 496.4 1492 497.3 1480C498.2 1468 499.7 1455.1 500.6 1444.3C501.5 1433.5 502 1424.2 502.9 1415C503.8 1405.8 504.9 1396.3 506 1389C507.1 1381.7 508.2 1371.7 509.4 1371C510.6 1370.3 511.6 1379.3 513 1385C514.4 1390.7 516.5 1396.8 517.5 1405C518.5 1413.2 518.7 1420.3 519.2 1434.5C519.8 1448.7 520.3 1475.6 520.8 1490C521.3 1504.4 522 1510.7 522.4 1521C522.8 1531.3 523 1542 523.4 1552C523.8 1562 524.3 1571.8 524.7 1581C525.1 1590.2 525 1598.6 525.7 1607.3C526.4 1616 528.2 1625.2 529 1633.4C529.8 1641.6 529.8 1648.6 530.6 1656.2C531.4 1663.8 531.4 1661.7 533.8 1679C536.2 1696.3 541.5 1741.5 545 1760C548.5 1778.5 552 1783.8 555 1790C558 1796.2 559.7 1799.5 563 1797C566.3 1794.5 570.8 1787.8 575 1775C579.2 1762.2 583.8 1736.7 588 1720C592.2 1703.3 596.7 1684.2 600 1675C603.3 1665.8 605 1664.2 608 1665C611 1665.8 613.5 1670 618 1680C622.5 1690 629.3 1710.8 635 1725C640.7 1739.2 645.7 1753.2 652 1765C658.3 1776.8 663.9 1789.5 673 1796C682.1 1802.5 693.7 1804.6 706.5 1804C719.3 1803.4 738.3 1803.3 749.7 1792.6C761.1 1781.9 767.3 1757.8 775 1740C782.7 1722.2 790.2 1695.5 796 1686C801.8 1676.5 805.6 1682.3 809.6 1683C813.6 1683.7 816.1 1698.8 820 1690C823.9 1681.2 828.7 1653.3 833 1630C837.3 1606.7 841.6 1571 846 1550C850.4 1529 855 1506.5 859.5 1504C864 1501.5 868.6 1517 873 1535C877.4 1553 881.7 1592.8 886 1612C890.3 1631.2 894.5 1641.7 899 1650C903.5 1658.3 907.7 1662.8 912.7 1662C917.7 1661.2 922.5 1656.2 929 1645C935.5 1633.8 944.8 1609.8 952 1595C959.2 1580.2 967.5 1563.3 972 1556C976.5 1548.7 974.5 1548.3 979 1551C983.5 1553.7 992.8 1562.8 999 1572C1005.2 1581.2 1009.3 1597 1016 1606C1022.7 1615 1029.7 1620.7 1039 1626C1048.3 1631.3 1061 1635.2 1072 1638C1083 1640.8 1092.8 1641.3 1105 1643C1117.2 1644.7 1138.3 1647.2 1145 1648" stroke="#e01010" stroke-width="5" fill="none"/>
<g fill="#0a0a0a"><circle cx="276" cy="2050" r="6.8"/><circle cx="278" cy="2049.9" r="6.8"/><circle cx="279.9" cy="2049.8" r="6.8"/><circle cx="281.9" cy="2049.6" r="6.8"/><circle cx="283.8" cy="2049.5" r="6.8"/><circle cx="285.8" cy="2049.4" r="6.8"/><circle cx="287.8" cy="2049.2" r="6.8"/><circle cx="289.7" cy="2049.1" r="6.8"/><circle cx="291.7" cy="2048.9" r="6.8"/><circle cx="293.6" cy="2048.7" r="6.8"/><circle cx="295.6" cy="2048.6" r="6.8"/><circle cx="297.6" cy="2048.4" r="6.8"/><circle cx="299.5" cy="2048.2" r="6.8"/><circle cx="301.5" cy="2048" r="6.8"/><circle cx="303.4" cy="2047.9" r="6.8"/><circle cx="305.4" cy="2047.7" r="6.8"/><circle cx="307.4" cy="2047.5" r="6.8"/><circle cx="309.3" cy="2047.3" r="6.8"/><circle cx="311.3" cy="2047.1" r="6.8"/><circle cx="313.2" cy="2046.9" r="6.8"/><circle cx="315.2" cy="2046.7" r="6.8"/><circle cx="317.2" cy="2046.5" r="6.8"/><circle cx="319.1" cy="2046.2" r="6.8"/><circle cx="321.1" cy="2046" r="6.8"/><circle cx="323" cy="2045.8" r="6.8"/><circle cx="325" cy="2045.6" r="6.8"/><circle cx="327" cy="2045.4" r="6.8"/><circle cx="328.9" cy="2045.1" r="6.8"/><circle cx="330.9" cy="2044.9" r="6.8"/><circle cx="332.8" cy="2044.7" r="6.8"/><circle cx="334.8" cy="2044.4" r="6.8"/><circle cx="336.8" cy="2044.2" r="6.8"/><circle cx="338.7" cy="2043.9" r="6.8"/><circle cx="340.7" cy="2043.7" r="6.8"/><circle cx="342.6" cy="2043.4" r="6.8"/><circle cx="344.6" cy="2043.1" r="6.8"/><circle cx="346.6" cy="2042.9" r="6.8"/><circle cx="348.5" cy="2042.6" r="6.8"/><circle cx="350.5" cy="2042.3" r="6.8"/><circle cx="352.4" cy="2042" r="6.8"/><circle cx="354.4" cy="2041.7" r="6.8"/><circle cx="356.4" cy="2041.4" r="6.8"/><circle cx="358.3" cy="2041.1" r="6.8"/><circle cx="360.3" cy="2040.7" r="6.8"/><circle cx="362.2" cy="2040.4" r="6.8"/><circle cx="364.2" cy="2040.1" r="6.8"/><circle cx="366.2" cy="2039.7" r="6.8"/><circle cx="368.1" cy="2039.4" r="6.8"/><circle cx="370.1" cy="2039" r="6.8"/><circle cx="372" cy="2038.6" r="6.8"/><circle cx="374" cy="2038.2" r="6.8"/><circle cx="376" cy="2037.8" r="6.8"/><circle cx="377.9" cy="2037.4" r="6.8"/><circle cx="379.9" cy="2037" r="6.8"/><circle cx="381.8" cy="2036.6" r="6.8"/><circle cx="383.8" cy="2036.2" r="6.8"/><circle cx="385.8" cy="2035.7" r="6.8"/><circle cx="387.7" cy="2035.3" r="6.8"/><circle cx="389.7" cy="2034.8" r="6.8"/><circle cx="391.6" cy="2034.4" r="6.8"/><circle cx="393.6" cy="2033.8" r="6.8"/><circle cx="395.6" cy="2033.3" r="6.8"/><circle cx="397.5" cy="2032.7" r="6.8"/><circle cx="399.5" cy="2032.1" r="6.8"/><circle cx="401.4" cy="2031.5" r="6.8"/><circle cx="403.4" cy="2030.8" r="6.8"/><circle cx="405.4" cy="2030" r="6.8"/><circle cx="407.3" cy="2029.2" r="6.8"/><circle cx="409.3" cy="2028.3" r="6.8"/><circle cx="411.2" cy="2027.4" r="6.8"/><circle cx="413.2" cy="2026.2" r="6.8"/><circle cx="415.2" cy="2024.8" r="6.8"/><circle cx="417.1" cy="2023.2" r="6.8"/><circle cx="419.1" cy="2021.4" r="6.8"/><circle cx="421" cy="2019.4" r="6.8"/><circle cx="423" cy="2017.3" r="6.8"/><circle cx="425" cy="2015" r="6.8"/><circle cx="426.9" cy="2012.5" r="6.8"/><circle cx="428.9" cy="2009.5" r="6.8"/><circle cx="430.8" cy="2006.2" r="6.8"/><circle cx="432.8" cy="2002.5" r="6.8"/><circle cx="434.8" cy="1998.5" r="6.8"/><circle cx="436.7" cy="1994.5" r="6.8"/><circle cx="438.7" cy="1989.6" r="6.8"/><circle cx="440" cy="1985" r="6.8"/><circle cx="441" cy="1979.6" r="6.8"/><circle cx="442" cy="1971.5" r="6.8"/><circle cx="443" cy="1959.5" r="6.8"/><circle cx="444" cy="1936.5" r="6.8"/><circle cx="445" cy="1873.4" r="6.8"/><circle cx="446" cy="1835" r="6.8"/><circle cx="447" cy="1796.1" r="6.8"/><circle cx="448" cy="1756.8" r="6.8"/><circle cx="449" cy="1728" r="6.8"/><circle cx="450" cy="1698" r="6.8"/><circle cx="451" cy="1675.2" r="6.8"/><circle cx="452" cy="1660.9" r="6.8"/><circle cx="453" cy="1648.7" r="6.8"/><circle cx="454" cy="1633.4" r="6.8"/><circle cx="455" cy="1609" r="6.8"/><circle cx="456" cy="1585" r="6.8"/><circle cx="457" cy="1565.8" r="6.8"/><circle cx="458" cy="1566" r="6.8"/><circle cx="459" cy="1569.7" r="6.8"/><circle cx="460" cy="1574.7" r="6.8"/><circle cx="461" cy="1580" r="6.8"/><circle cx="462" cy="1585.5" r="6.8"/><circle cx="463" cy="1591.9" r="6.8"/><circle cx="464" cy="1599.1" r="6.8"/><circle cx="465" cy="1607.2" r="6.8"/><circle cx="466" cy="1616" r="6.8"/><circle cx="467" cy="1626.2" r="6.8"/><circle cx="468" cy="1638.1" r="6.8"/><circle cx="469" cy="1653.1" r="6.8"/><circle cx="470" cy="1673.2" r="6.8"/><circle cx="471" cy="1692.4" r="6.8"/><circle cx="472" cy="1708.4" r="6.8"/><circle cx="473" cy="1716.6" r="6.8"/><circle cx="474" cy="1722.7" r="6.8"/><circle cx="475" cy="1731" r="6.8"/><circle cx="476" cy="1752.3" r="6.8"/><circle cx="477" cy="1763.7" r="6.8"/><circle cx="478" cy="1761.8" r="6.8"/><circle cx="479" cy="1757.6" r="6.8"/><circle cx="480" cy="1752.1" r="6.8"/><circle cx="481" cy="1745.9" r="6.8"/><circle cx="482" cy="1740" r="6.8"/><circle cx="483" cy="1734.4" r="6.8"/><circle cx="484" cy="1728.7" r="6.8"/><circle cx="485" cy="1722.7" r="6.8"/><circle cx="486" cy="1716.1" r="6.8"/><circle cx="487" cy="1708.7" r="6.8"/><circle cx="488" cy="1700.4" r="6.8"/><circle cx="489" cy="1690.9" r="6.8"/><circle cx="490" cy="1680.1" r="6.8"/><circle cx="491" cy="1665.6" r="6.8"/><circle cx="492" cy="1620" r="6.8"/><circle cx="493" cy="1587.8" r="6.8"/><circle cx="494" cy="1552" r="6.8"/><circle cx="495" cy="1525.2" r="6.8"/><circle cx="496" cy="1503.2" r="6.8"/><circle cx="497" cy="1484.5" r="6.8"/><circle cx="498" cy="1471.1" r="6.8"/><circle cx="499" cy="1460.7" r="6.8"/><circle cx="500" cy="1450.9" r="6.8"/><circle cx="501" cy="1439.3" r="6.8"/><circle cx="502" cy="1425.8" r="6.8"/><circle cx="503" cy="1414" r="6.8"/><circle cx="504" cy="1404.5" r="6.8"/><circle cx="505" cy="1396.1" r="6.8"/><circle cx="506" cy="1389" r="6.8"/><circle cx="507" cy="1382" r="6.8"/><circle cx="508" cy="1375.4" r="6.8"/><circle cx="509" cy="1371.4" r="6.8"/><circle cx="510" cy="1371.7" r="6.8"/><circle cx="511" cy="1375.2" r="6.8"/><circle cx="512" cy="1380.2" r="6.8"/><circle cx="513" cy="1385" r="6.8"/><circle cx="514" cy="1388.7" r="6.8"/><circle cx="515" cy="1392.1" r="6.8"/><circle cx="516" cy="1396" r="6.8"/><circle cx="517" cy="1401.4" r="6.8"/><circle cx="518" cy="1410.7" r="6.8"/><circle cx="519" cy="1429.9" r="6.8"/><circle cx="520" cy="1461.9" r="6.8"/><circle cx="521" cy="1494.6" r="6.8"/><circle cx="522" cy="1512.6" r="6.8"/><circle cx="523" cy="1539.7" r="6.8"/><circle cx="524" cy="1565.8" r="6.8"/><circle cx="525" cy="1589.4" r="6.8"/><circle cx="526" cy="1611" r="6.8"/><circle cx="527" cy="1619.4" r="6.8"/><circle cx="528" cy="1625.4" r="6.8"/><circle cx="529" cy="1633.4" r="6.8"/><circle cx="530" cy="1648.2" r="6.8"/><circle cx="531" cy="1659.9" r="6.8"/><circle cx="532" cy="1667.7" r="6.8"/><circle cx="533" cy="1674.1" r="6.8"/><circle cx="534" cy="1680.2" r="6.8"/><circle cx="535" cy="1686.2" r="6.8"/><circle cx="536" cy="1691.9" r="6.8"/><circle cx="538" cy="1702.4" r="6.8"/><circle cx="539.9" cy="1712.5" r="6.8"/><circle cx="541.9" cy="1722.8" r="6.8"/><circle cx="543.8" cy="1733.1" r="6.8"/><circle cx="545.8" cy="1742.7" r="6.8"/><circle cx="547.8" cy="1751.1" r="6.8"/><circle cx="549.7" cy="1758.9" r="6.8"/><circle cx="551.7" cy="1765.8" r="6.8"/><circle cx="553.6" cy="1770.8" r="6.8"/><circle cx="555.6" cy="1774.8" r="6.8"/><circle cx="557.6" cy="1778.2" r="6.8"/><circle cx="559.5" cy="1779.9" r="6.8"/><circle cx="561.5" cy="1779.7" r="6.8"/><circle cx="563.4" cy="1778.4" r="6.8"/><circle cx="565.4" cy="1776.4" r="6.8"/><circle cx="567.4" cy="1773.7" r="6.8"/><circle cx="569.3" cy="1770.5" r="6.8"/><circle cx="571.3" cy="1767" r="6.8"/><circle cx="573.2" cy="1763.3" r="6.8"/><circle cx="575.2" cy="1758.3" r="6.8"/><circle cx="577.2" cy="1751.6" r="6.8"/><circle cx="579.1" cy="1743.7" r="6.8"/><circle cx="581.1" cy="1735.2" r="6.8"/><circle cx="583" cy="1726.6" r="6.8"/><circle cx="585" cy="1718.7" r="6.8"/><circle cx="587" cy="1711.6" r="6.8"/><circle cx="588.9" cy="1704.2" r="6.8"/><circle cx="590.9" cy="1696.7" r="6.8"/><circle cx="592.8" cy="1689.4" r="6.8"/><circle cx="594.8" cy="1682.7" r="6.8"/><circle cx="596.8" cy="1677.1" r="6.8"/><circle cx="598.7" cy="1673" r="6.8"/><circle cx="600.7" cy="1669.9" r="6.8"/><circle cx="602.6" cy="1667" r="6.8"/><circle cx="604.6" cy="1664.7" r="6.8"/><circle cx="606.6" cy="1663.1" r="6.8"/><circle cx="608.5" cy="1662.7" r="6.8"/><circle cx="610.5" cy="1663.7" r="6.8"/><circle cx="612.4" cy="1665.8" r="6.8"/><circle cx="614.4" cy="1668.7" r="6.8"/><circle cx="616.4" cy="1672" r="6.8"/><circle cx="618.3" cy="1675.3" r="6.8"/><circle cx="620.3" cy="1678.8" r="6.8"/><circle cx="622.2" cy="1682.9" r="6.8"/><circle cx="624.2" cy="1687.5" r="6.8"/><circle cx="626.2" cy="1692.5" r="6.8"/><circle cx="628.1" cy="1697.6" r="6.8"/><circle cx="630.1" cy="1702.9" r="6.8"/><circle cx="632" cy="1708" r="6.8"/><circle cx="634" cy="1712.9" r="6.8"/><circle cx="636" cy="1717.5" r="6.8"/><circle cx="637.9" cy="1722" r="6.8"/><circle cx="639.9" cy="1726.7" r="6.8"/><circle cx="641.8" cy="1731.3" r="6.8"/><circle cx="643.8" cy="1735.8" r="6.8"/><circle cx="645.8" cy="1740.1" r="6.8"/><circle cx="647.7" cy="1744.2" r="6.8"/><circle cx="649.7" cy="1748.1" r="6.8"/><circle cx="651.6" cy="1751.6" r="6.8"/><circle cx="653.6" cy="1754.9" r="6.8"/><circle cx="655.6" cy="1758.1" r="6.8"/><circle cx="657.5" cy="1761" r="6.8"/><circle cx="659.5" cy="1763.3" r="6.8"/><circle cx="661.4" cy="1765.1" r="6.8"/><circle cx="663.4" cy="1766.7" r="6.8"/><circle cx="665.4" cy="1768.1" r="6.8"/><circle cx="667.3" cy="1769.4" r="6.8"/><circle cx="669.3" cy="1770.5" r="6.8"/><circle cx="671.2" cy="1771.6" r="6.8"/><circle cx="673.2" cy="1772.6" r="6.8"/><circle cx="675.2" cy="1773.5" r="6.8"/><circle cx="677.1" cy="1774.4" r="6.8"/><circle cx="679.1" cy="1775.2" r="6.8"/><circle cx="681" cy="1776.1" r="6.8"/><circle cx="683" cy="1776.9" r="6.8"/><circle cx="685" cy="1777.6" r="6.8"/><circle cx="686.9" cy="1778.4" r="6.8"/><circle cx="688.9" cy="1779.1" r="6.8"/><circle cx="690.8" cy="1779.8" r="6.8"/><circle cx="692.8" cy="1780.4" r="6.8"/><circle cx="694.8" cy="1781.1" r="6.8"/><circle cx="696.7" cy="1781.7" r="6.8"/><circle cx="698.7" cy="1782.2" r="6.8"/><circle cx="700.6" cy="1782.8" r="6.8"/><circle cx="702.6" cy="1783.3" r="6.8"/><circle cx="704.6" cy="1783.8" r="6.8"/><circle cx="706.5" cy="1784.2" r="6.8"/><circle cx="708.5" cy="1784.6" r="6.8"/><circle cx="710.4" cy="1785.1" r="6.8"/><circle cx="712.4" cy="1785.5" r="6.8"/><circle cx="714.4" cy="1786" r="6.8"/><circle cx="716.3" cy="1786.4" r="6.8"/><circle cx="718.3" cy="1786.8" r="6.8"/><circle cx="720.2" cy="1787.2" r="6.8"/><circle cx="722.2" cy="1787.6" r="6.8"/><circle cx="724.2" cy="1788" r="6.8"/><circle cx="726.1" cy="1788.4" r="6.8"/><circle cx="728.1" cy="1788.8" r="6.8"/><circle cx="730" cy="1789.1" r="6.8"/><circle cx="732" cy="1789.5" r="6.8"/><circle cx="734" cy="1789.8" r="6.8"/><circle cx="735.9" cy="1790" r="6.8"/><circle cx="737.9" cy="1790.3" r="6.8"/><circle cx="739.8" cy="1790.5" r="6.8"/><circle cx="741.8" cy="1790.7" r="6.8"/><circle cx="743.8" cy="1790.8" r="6.8"/><circle cx="745.7" cy="1790.9" r="6.8"/><circle cx="747.7" cy="1791" r="6.8"/><circle cx="749.6" cy="1791" r="6.8"/><circle cx="751.6" cy="1790.5" r="6.8"/><circle cx="753.6" cy="1789.2" r="6.8"/><circle cx="755.5" cy="1786.9" r="6.8"/><circle cx="757.5" cy="1783.9" r="6.8"/><circle cx="759.4" cy="1780.2" r="6.8"/><circle cx="761.4" cy="1776" r="6.8"/><circle cx="763.4" cy="1771.2" r="6.8"/><circle cx="765.3" cy="1766" r="6.8"/><circle cx="767.3" cy="1760.4" r="6.8"/><circle cx="769.2" cy="1754.5" r="6.8"/><circle cx="771.2" cy="1748.5" r="6.8"/><circle cx="773.2" cy="1742.3" r="6.8"/><circle cx="775.1" cy="1736.2" r="6.8"/><circle cx="777.1" cy="1730.1" r="6.8"/><circle cx="779" cy="1724.1" r="6.8"/><circle cx="781" cy="1718.3" r="6.8"/><circle cx="783" cy="1712.9" r="6.8"/><circle cx="784.9" cy="1707.2" r="6.8"/><circle cx="786.9" cy="1700.7" r="6.8"/><circle cx="788.8" cy="1694" r="6.8"/><circle cx="790.8" cy="1687.4" r="6.8"/><circle cx="792.8" cy="1681.2" r="6.8"/><circle cx="794.7" cy="1676.1" r="6.8"/><circle cx="796.7" cy="1672.2" r="6.8"/><circle cx="798.6" cy="1668.9" r="6.8"/><circle cx="800.6" cy="1666" r="6.8"/><circle cx="802.6" cy="1664.6" r="6.8"/><circle cx="804.5" cy="1665" r="6.8"/><circle cx="806.5" cy="1666.8" r="6.8"/><circle cx="808.4" cy="1669.5" r="6.8"/><circle cx="810.4" cy="1672.5" r="6.8"/><circle cx="812.4" cy="1675.6" r="6.8"/><circle cx="814.3" cy="1679.9" r="6.8"/><circle cx="816.3" cy="1684.8" r="6.8"/><circle cx="818.2" cy="1688.6" r="6.8"/><circle cx="820.2" cy="1689.3" r="6.8"/><circle cx="822.2" cy="1685.8" r="6.8"/><circle cx="824.1" cy="1678.8" r="6.8"/><circle cx="826.1" cy="1669.2" r="6.8"/><circle cx="828" cy="1658.1" r="6.8"/><circle cx="830" cy="1646.2" r="6.8"/><circle cx="832" cy="1634.7" r="6.8"/><circle cx="833.9" cy="1623.9" r="6.8"/><circle cx="835.9" cy="1611.6" r="6.8"/><circle cx="837.8" cy="1598" r="6.8"/><circle cx="839.8" cy="1584.1" r="6.8"/><circle cx="841.8" cy="1570.6" r="6.8"/><circle cx="843.7" cy="1558.2" r="6.8"/><circle cx="845.7" cy="1547.9" r="6.8"/><circle cx="847.6" cy="1539.1" r="6.8"/><circle cx="849.6" cy="1530.2" r="6.8"/><circle cx="851.6" cy="1521.5" r="6.8"/><circle cx="853.5" cy="1513.8" r="6.8"/><circle cx="855.5" cy="1507.5" r="6.8"/><circle cx="857.4" cy="1503.3" r="6.8"/><circle cx="859.4" cy="1501.6" r="6.8"/><circle cx="861.4" cy="1502.4" r="6.8"/><circle cx="863.3" cy="1504.8" r="6.8"/><circle cx="865.3" cy="1508.6" r="6.8"/><circle cx="867.2" cy="1513.4" r="6.8"/><circle cx="869.2" cy="1518.9" r="6.8"/><circle cx="871.2" cy="1524.9" r="6.8"/><circle cx="873.1" cy="1531.1" r="6.8"/><circle cx="875.1" cy="1539.7" r="6.8"/><circle cx="877" cy="1551.2" r="6.8"/><circle cx="879" cy="1564.4" r="6.8"/><circle cx="881" cy="1578.1" r="6.8"/><circle cx="882.9" cy="1590.9" r="6.8"/><circle cx="884.9" cy="1601.6" r="6.8"/><circle cx="886.8" cy="1609.5" r="6.8"/><circle cx="888.8" cy="1616.5" r="6.8"/><circle cx="890.8" cy="1623" r="6.8"/><circle cx="892.7" cy="1629" r="6.8"/><circle cx="894.7" cy="1634.2" r="6.8"/><circle cx="896.6" cy="1638.6" r="6.8"/><circle cx="898.6" cy="1642" r="6.8"/><circle cx="900.6" cy="1644.4" r="6.8"/><circle cx="902.5" cy="1646.5" r="6.8"/><circle cx="904.5" cy="1648.5" r="6.8"/><circle cx="906.4" cy="1650.3" r="6.8"/><circle cx="908.4" cy="1651.6" r="6.8"/><circle cx="910.4" cy="1652.6" r="6.8"/><circle cx="912.3" cy="1653" r="6.8"/><circle cx="914.3" cy="1652.8" r="6.8"/><circle cx="916.2" cy="1651.8" r="6.8"/><circle cx="918.2" cy="1650.3" r="6.8"/><circle cx="920.2" cy="1648.3" r="6.8"/><circle cx="922.1" cy="1646" r="6.8"/><circle cx="924.1" cy="1643.4" r="6.8"/><circle cx="926" cy="1640.7" r="6.8"/><circle cx="928" cy="1638" r="6.8"/><circle cx="930" cy="1635.4" r="6.8"/><circle cx="931.9" cy="1632.5" r="6.8"/><circle cx="933.9" cy="1629.1" r="6.8"/><circle cx="935.8" cy="1625.5" r="6.8"/><circle cx="937.8" cy="1621.6" r="6.8"/><circle cx="939.8" cy="1617.4" r="6.8"/><circle cx="941.7" cy="1613.2" r="6.8"/><circle cx="943.7" cy="1608.8" r="6.8"/><circle cx="945.6" cy="1604.5" r="6.8"/><circle cx="947.6" cy="1600.1" r="6.8"/><circle cx="949.6" cy="1595.9" r="6.8"/><circle cx="951.5" cy="1591.9" r="6.8"/><circle cx="953.5" cy="1587.9" r="6.8"/><circle cx="955.4" cy="1583.8" r="6.8"/><circle cx="957.4" cy="1579.6" r="6.8"/><circle cx="959.4" cy="1575.2" r="6.8"/><circle cx="961.3" cy="1570.9" r="6.8"/><circle cx="963.3" cy="1566.7" r="6.8"/><circle cx="965.2" cy="1562.7" r="6.8"/><circle cx="967.2" cy="1559" r="6.8"/><circle cx="969.2" cy="1555.8" r="6.8"/><circle cx="971.1" cy="1553" r="6.8"/><circle cx="973.1" cy="1550.9" r="6.8"/><circle cx="975" cy="1548.9" r="6.8"/><circle cx="977" cy="1547.3" r="6.8"/><circle cx="979" cy="1546.5" r="6.8"/><circle cx="980.9" cy="1546.7" r="6.8"/><circle cx="982.9" cy="1547.6" r="6.8"/><circle cx="984.8" cy="1548.9" r="6.8"/><circle cx="986.8" cy="1550.6" r="6.8"/><circle cx="988.8" cy="1552.8" r="6.8"/><circle cx="990.7" cy="1555.1" r="6.8"/><circle cx="992.7" cy="1557.7" r="6.8"/><circle cx="994.6" cy="1560.4" r="6.8"/><circle cx="996.6" cy="1563.2" r="6.8"/><circle cx="998.6" cy="1565.9" r="6.8"/><circle cx="1000.5" cy="1568.8" r="6.8"/><circle cx="1002.5" cy="1572.5" r="6.8"/><circle cx="1004.4" cy="1576.7" r="6.8"/><circle cx="1006.4" cy="1581.1" r="6.8"/><circle cx="1008.4" cy="1585.7" r="6.8"/><circle cx="1010.3" cy="1590.1" r="6.8"/><circle cx="1012.3" cy="1594.2" r="6.8"/><circle cx="1014.2" cy="1597.7" r="6.8"/><circle cx="1016.2" cy="1600.3" r="6.8"/><circle cx="1018.2" cy="1602.6" r="6.8"/><circle cx="1020.1" cy="1604.8" r="6.8"/><circle cx="1022.1" cy="1606.8" r="6.8"/><circle cx="1024" cy="1608.7" r="6.8"/><circle cx="1026" cy="1610.5" r="6.8"/><circle cx="1028" cy="1612.2" r="6.8"/><circle cx="1029.9" cy="1613.7" r="6.8"/><circle cx="1031.9" cy="1615.2" r="6.8"/><circle cx="1033.8" cy="1616.5" r="6.8"/><circle cx="1035.8" cy="1617.8" r="6.8"/><circle cx="1037.8" cy="1619" r="6.8"/><circle cx="1039.7" cy="1620.1" r="6.8"/><circle cx="1041.7" cy="1621.2" r="6.8"/><circle cx="1043.6" cy="1622.2" r="6.8"/><circle cx="1045.6" cy="1623.1" r="6.8"/><circle cx="1047.6" cy="1624.1" r="6.8"/><circle cx="1049.5" cy="1625" r="6.8"/><circle cx="1051.5" cy="1625.8" r="6.8"/><circle cx="1053.4" cy="1626.7" r="6.8"/><circle cx="1055.4" cy="1627.5" r="6.8"/><circle cx="1057.4" cy="1628.2" r="6.8"/><circle cx="1059.3" cy="1629" r="6.8"/><circle cx="1061.3" cy="1629.6" r="6.8"/><circle cx="1063.2" cy="1630.3" r="6.8"/><circle cx="1065.2" cy="1630.9" r="6.8"/><circle cx="1067.2" cy="1631.5" r="6.8"/><circle cx="1069.1" cy="1632.1" r="6.8"/><circle cx="1071.1" cy="1632.7" r="6.8"/><circle cx="1073" cy="1633.2" r="6.8"/><circle cx="1075" cy="1633.7" r="6.8"/><circle cx="1077" cy="1634.2" r="6.8"/><circle cx="1078.9" cy="1634.6" r="6.8"/><circle cx="1080.9" cy="1635" r="6.8"/><circle cx="1082.8" cy="1635.4" r="6.8"/><circle cx="1084.8" cy="1635.8" r="6.8"/><circle cx="1086.8" cy="1636.2" r="6.8"/><circle cx="1088.7" cy="1636.5" r="6.8"/><circle cx="1090.7" cy="1636.9" r="6.8"/><circle cx="1092.6" cy="1637.2" r="6.8"/><circle cx="1094.6" cy="1637.6" r="6.8"/><circle cx="1096.6" cy="1637.9" r="6.8"/><circle cx="1098.5" cy="1638.3" r="6.8"/><circle cx="1100.5" cy="1638.6" r="6.8"/><circle cx="1102.4" cy="1639" r="6.8"/><circle cx="1104.4" cy="1639.4" r="6.8"/><circle cx="1106.4" cy="1639.8" r="6.8"/><circle cx="1108.3" cy="1640.2" r="6.8"/><circle cx="1110.3" cy="1640.6" r="6.8"/><circle cx="1112.2" cy="1641" r="6.8"/><circle cx="1114.2" cy="1641.4" r="6.8"/><circle cx="1116.2" cy="1641.8" r="6.8"/><circle cx="1118.1" cy="1642.2" r="6.8"/><circle cx="1120.1" cy="1642.6" r="6.8"/><circle cx="1122" cy="1643" r="6.8"/><circle cx="1124" cy="1643.4" r="6.8"/><circle cx="1126" cy="1643.8" r="6.8"/><circle cx="1127.9" cy="1644.3" r="6.8"/><circle cx="1129.9" cy="1644.7" r="6.8"/><circle cx="1131.8" cy="1645.1" r="6.8"/><circle cx="1133.8" cy="1645.5" r="6.8"/><circle cx="1135.8" cy="1645.9" r="6.8"/><circle cx="1137.7" cy="1646.3" r="6.8"/><circle cx="1139.7" cy="1646.8" r="6.8"/><circle cx="1141.6" cy="1647.2" r="6.8"/><circle cx="1143.6" cy="1647.6" r="6.8"/><circle cx="1145.6" cy="1648" r="6.8"/></g>
<path d="M272 2042C280 2040 305.3 2034.3 320 2030C334.7 2025.7 347 2021.3 360 2016C373 2010.7 387.7 2007.2 398 1998C408.3 1988.8 416.3 1972.2 422 1961C427.7 1949.8 429.5 1939.3 432 1931C434.5 1922.7 435.5 1922.8 437 1911C438.5 1899.2 439.4 1875.3 441 1860C442.6 1844.7 445.4 1833.4 446.5 1819C447.6 1804.6 447.1 1788.8 447.5 1773.6C447.9 1758.4 448.5 1743.5 449 1728C449.5 1712.5 449.9 1696.5 450.7 1680.7C451.5 1664.9 453.2 1647.8 454 1633.4C454.8 1619 455.1 1605.7 455.6 1594.3C456.1 1582.9 456.3 1567.4 457.2 1565C458.1 1562.6 459.6 1572.4 461 1580C462.4 1587.6 464.1 1599.5 465.4 1610.6C466.7 1621.7 467.8 1635 468.6 1646.4C469.4 1657.8 469.7 1668.7 470.3 1679C470.9 1689.3 471.2 1699.7 472 1708.4C472.8 1717.1 474.2 1721.8 475 1731C475.8 1740.2 475.6 1762.3 476.8 1763.8C478 1765.3 479.8 1753.6 482 1740C484.2 1726.4 488.2 1696.8 489.8 1682.3C491.4 1667.8 491.1 1663.4 491.5 1653C491.9 1642.6 491.8 1630.9 492 1620C492.2 1609.1 492.7 1599.1 493 1587.8C493.3 1576.5 493.6 1564 494 1552C494.4 1540 494.8 1528 495.4 1516C495.9 1504 496.4 1492 497.3 1480C498.2 1468 499.7 1455.1 500.6 1444.3C501.5 1433.5 502 1424.2 502.9 1415C503.8 1405.8 504.9 1396.3 506 1389C507.1 1381.7 508.2 1371.7 509.4 1371C510.6 1370.3 511.6 1379.3 513 1385C514.4 1390.7 516.5 1396.8 517.5 1405C518.5 1413.2 518.7 1420.3 519.2 1434.5C519.8 1448.7 520.3 1475.6 520.8 1490C521.3 1504.4 522 1510.7 522.4 1521C522.8 1531.3 523 1542 523.4 1552C523.8 1562 524.3 1571.8 524.7 1581C525.1 1590.2 525 1598.6 525.7 1607.3C526.4 1616 528.2 1625.2 529 1633.4C529.8 1641.6 529.8 1648.6 530.6 1656.2C531.4 1663.8 531.4 1661.7 533.8 1679C536.2 1696.3 541.5 1741.5 545 1760C548.5 1778.5 552 1783.8 555 1790C558 1796.2 559.7 1799.5 563 1797C566.3 1794.5 570.8 1787.8 575 1775C579.2 1762.2 583.8 1736.7 588 1720C592.2 1703.3 596.7 1684.2 600 1675C603.3 1665.8 605 1664.2 608 1665C611 1665.8 613.5 1670 618 1680C622.5 1690 629.3 1710.8 635 1725C640.7 1739.2 645.7 1753.2 652 1765C658.3 1776.8 663.9 1789.5 673 1796C682.1 1802.5 693.7 1804.6 706.5 1804C719.3 1803.4 738.3 1803.3 749.7 1792.6C761.1 1781.9 767.3 1757.8 775 1740C782.7 1722.2 790.2 1695.5 796 1686C801.8 1676.5 805.6 1682.3 809.6 1683C813.6 1683.7 816.1 1698.8 820 1690C823.9 1681.2 828.7 1653.3 833 1630C837.3 1606.7 841.6 1571 846 1550C850.4 1529 855 1506.5 859.5 1504C864 1501.5 868.6 1517 873 1535C877.4 1553 881.7 1592.8 886 1612C890.3 1631.2 894.5 1641.7 899 1650C903.5 1658.3 907.7 1662.8 912.7 1662C917.7 1661.2 922.5 1656.2 929 1645C935.5 1633.8 944.8 1609.8 952 1595C959.2 1580.2 967.5 1563.3 972 1556C976.5 1548.7 974.5 1548.3 979 1551C983.5 1553.7 992.8 1562.8 999 1572C1005.2 1581.2 1009.3 1597 1016 1606C1022.7 1615 1029.7 1620.7 1039 1626C1048.3 1631.3 1061 1635.2 1072 1638C1083 1640.8 1092.8 1641.3 1105 1643C1117.2 1644.7 1138.3 1647.2 1145 1648" stroke="#e81818" stroke-width="2.2" fill="none" stroke-dasharray="3 9" opacity="0.9"/>
<circle cx="1145" cy="1648" r="6" fill="#fff" stroke="#111" stroke-width="3"/>
<defs><filter id="fdD" x="1241" y="1199" width="1170.5" height="1064.5" filterUnits="userSpaceOnUse" color-interpolation-filters="sRGB">
<feGaussianBlur in="SourceAlpha" stdDeviation="16" result="d"/>
<feTurbulence type="fractalNoise" baseFrequency="0.18" numOctaves="2" seed="11" result="n"/>
<feColorMatrix in="n" type="matrix" values="0 0 0 0 0 0 0 0 0 0 0 0 0 0 0 1 0 0 0 0" result="na"/>
<feComposite in="d" in2="na" operator="arithmetic" k2="3.000" k3="-10" k4="2.900" result="m"/>
<feFlood flood-color="#d83a48"/>
<feComposite in2="m" operator="in"/>
<feGaussianBlur stdDeviation="0.8"/>
</filter><filter id="fdE" x="35" y="2300.5" width="1170" height="1066.5" filterUnits="userSpaceOnUse" color-interpolation-filters="sRGB">
<feGaussianBlur in="SourceAlpha" stdDeviation="14" result="d"/>
<feTurbulence type="fractalNoise" baseFrequency="0.12" numOctaves="2" seed="5" result="n"/>
<feColorMatrix in="n" type="matrix" values="0 0 0 0 0 0 0 0 0 0 0 0 0 0 0 1 0 0 0 0" result="na"/>
<feComposite in="d" in2="na" operator="arithmetic" k2="2.940" k3="-7" k4="1.620" result="m"/>
<feFlood flood-color="#2c2cfc"/>
<feComposite in2="m" operator="in"/>
<feGaussianBlur stdDeviation="1.2"/>
</filter><filter id="fsD" x="1241" y="1199" width="1170.5" height="1064.5" filterUnits="userSpaceOnUse"><feGaussianBlur stdDeviation="25"/></filter><filter id="fsE" x="35" y="2300.5" width="1170" height="1066.5" filterUnits="userSpaceOnUse"><feGaussianBlur stdDeviation="18"/></filter></defs>
<rect x="1241" y="1199" width="1170.5" height="1064.5" fill="#272827"/><g filter="url(#fsD)" fill="#5e2630" opacity="0.15"><rect x="1201" y="1159" width="1250.5" height="1144.5" fill-opacity="0.0"/><polygon points="1235,1408 1300,1415 1400,1440 1500,1445 1600,1430 1700,1400 1826,1361 1900,1361 2000,1361 2030,1330 2060,1300 2089,1262 2110,1280 2125,1320 2132,1400 2135,1487 2186,1523 2258,1613 2305,1685 2290,1800 2283,1900 2283,2000 2290,2109 2330,2130 2420,2140 2420,2270 1235,2270" fill-opacity="0.3"/><path d="M1250 1440C1263.3 1450 1316.7 1490 1330 1500" fill="none" stroke="#5e2630" stroke-opacity="0.5" stroke-width="120" stroke-linecap="round" stroke-linejoin="round"/><path d="M2089 1272C2086.7 1281.7 2083.2 1305.3 2075 1330C2066.8 1354.7 2054.2 1387.5 2040 1420C2025.8 1452.5 2005.8 1491.7 1990 1525C1974.2 1558.3 1960.3 1585.7 1945 1620C1929.7 1654.3 1905.8 1712.5 1898 1731" fill="none" stroke="#5e2630" stroke-opacity="0.65" stroke-width="90" stroke-linecap="round" stroke-linejoin="round"/><path d="M1826 1433C1840 1440.8 1883 1465 1910 1480C1937 1495 1956.3 1505.5 1988 1523C2019.7 1540.5 2068 1568 2100 1585C2132 1602 2151.7 1607.5 2180 1625C2208.3 1642.5 2255 1679.2 2270 1690" fill="none" stroke="#5e2630" stroke-opacity="0.6" stroke-width="100" stroke-linecap="round" stroke-linejoin="round"/><path d="M1230 1900C1245 1916.7 1288.3 1963.3 1320 2000C1351.7 2036.7 1386.7 2075 1420 2120C1453.3 2165 1503.3 2245 1520 2270" fill="none" stroke="#5e2630" stroke-opacity="0.65" stroke-width="170" stroke-linecap="round" stroke-linejoin="round"/><path d="M1860 1720C1848.3 1733.3 1805 1770 1790 1800C1775 1830 1773.3 1866.7 1770 1900C1766.7 1933.3 1766.7 1950 1770 2000C1773.3 2050 1786.7 2166.7 1790 2200" fill="none" stroke="#5e2630" stroke-opacity="0.62" stroke-width="160" stroke-linecap="round" stroke-linejoin="round"/><path d="M2080 1840C2096.7 1860 2146.7 1916.7 2180 1960C2213.3 2003.3 2263.3 2076.7 2280 2100" fill="none" stroke="#5e2630" stroke-opacity="0.5" stroke-width="150" stroke-linecap="round" stroke-linejoin="round"/><path d="M1600 2150C1616.7 2163.3 1683.3 2216.7 1700 2230" fill="none" stroke="#5e2630" stroke-opacity="0.35" stroke-width="140" stroke-linecap="round" stroke-linejoin="round"/><path d="M1950 2100C1966.7 2116.7 2016.7 2175 2050 2200C2083.3 2225 2133.3 2241.7 2150 2250" fill="none" stroke="#5e2630" stroke-opacity="0.35" stroke-width="150" stroke-linecap="round" stroke-linejoin="round"/><path d="M1400 1700C1425 1708.3 1508.3 1746.7 1550 1750C1591.7 1753.3 1633.3 1725 1650 1720" fill="none" stroke="#5e2630" stroke-opacity="0.25" stroke-width="150" stroke-linecap="round" stroke-linejoin="round"/></g><g filter="url(#fdD)"><rect x="1201" y="1159" width="1250.5" height="1144.5" fill-opacity="0.0"/><polygon points="1235,1408 1300,1415 1400,1440 1500,1445 1600,1430 1700,1400 1826,1361 1900,1361 2000,1361 2030,1330 2060,1300 2089,1262 2110,1280 2125,1320 2132,1400 2135,1487 2186,1523 2258,1613 2305,1685 2290,1800 2283,1900 2283,2000 2290,2109 2330,2130 2420,2140 2420,2270 1235,2270" fill-opacity="0.3"/><path d="M1250 1440C1263.3 1450 1316.7 1490 1330 1500" fill="none" stroke="#000" stroke-opacity="0.5" stroke-width="120" stroke-linecap="round" stroke-linejoin="round"/><path d="M2089 1272C2086.7 1281.7 2083.2 1305.3 2075 1330C2066.8 1354.7 2054.2 1387.5 2040 1420C2025.8 1452.5 2005.8 1491.7 1990 1525C1974.2 1558.3 1960.3 1585.7 1945 1620C1929.7 1654.3 1905.8 1712.5 1898 1731" fill="none" stroke="#000" stroke-opacity="0.65" stroke-width="90" stroke-linecap="round" stroke-linejoin="round"/><path d="M1826 1433C1840 1440.8 1883 1465 1910 1480C1937 1495 1956.3 1505.5 1988 1523C2019.7 1540.5 2068 1568 2100 1585C2132 1602 2151.7 1607.5 2180 1625C2208.3 1642.5 2255 1679.2 2270 1690" fill="none" stroke="#000" stroke-opacity="0.6" stroke-width="100" stroke-linecap="round" stroke-linejoin="round"/><path d="M1230 1900C1245 1916.7 1288.3 1963.3 1320 2000C1351.7 2036.7 1386.7 2075 1420 2120C1453.3 2165 1503.3 2245 1520 2270" fill="none" stroke="#000" stroke-opacity="0.65" stroke-width="170" stroke-linecap="round" stroke-linejoin="round"/><path d="M1860 1720C1848.3 1733.3 1805 1770 1790 1800C1775 1830 1773.3 1866.7 1770 1900C1766.7 1933.3 1766.7 1950 1770 2000C1773.3 2050 1786.7 2166.7 1790 2200" fill="none" stroke="#000" stroke-opacity="0.62" stroke-width="160" stroke-linecap="round" stroke-linejoin="round"/><path d="M2080 1840C2096.7 1860 2146.7 1916.7 2180 1960C2213.3 2003.3 2263.3 2076.7 2280 2100" fill="none" stroke="#000" stroke-opacity="0.5" stroke-width="150" stroke-linecap="round" stroke-linejoin="round"/><path d="M1600 2150C1616.7 2163.3 1683.3 2216.7 1700 2230" fill="none" stroke="#000" stroke-opacity="0.35" stroke-width="140" stroke-linecap="round" stroke-linejoin="round"/><path d="M1950 2100C1966.7 2116.7 2016.7 2175 2050 2200C2083.3 2225 2133.3 2241.7 2150 2250" fill="none" stroke="#000" stroke-opacity="0.35" stroke-width="150" stroke-linecap="round" stroke-linejoin="round"/><path d="M1400 1700C1425 1708.3 1508.3 1746.7 1550 1750C1591.7 1753.3 1633.3 1725 1650 1720" fill="none" stroke="#000" stroke-opacity="0.25" stroke-width="150" stroke-linecap="round" stroke-linejoin="round"/></g>
<rect x="35" y="2300.5" width="1170" height="1066.5" fill="#121214"/><g filter="url(#fsE)" fill="#2222d8" opacity="0.72"><rect x="-5" y="2260.5" width="1250" height="1146.5" fill-opacity="0.0"/><polygon points="35,2494 80,2500 150,2520 250,2535 323,2530 395,2523 500,2490 620,2440 700,2422 836,2420 860,2380 880,2336 895,2345 910,2400 930,2444 944,2588 998,2606 1050,2680 1106,2750 1110,2834 1106,3000 1110,3230 1142,3240 1150,3300 1178,3248 1210,3250 1210,3370 30,3370 30,2494" fill-opacity="0.28"/><path d="M30 2530C40 2539.2 70 2563.3 90 2585C110 2606.7 140 2647.5 150 2660" fill="none" stroke="#2222d8" stroke-opacity="0.65" stroke-width="90" stroke-linecap="round" stroke-linejoin="round"/><path d="M886 2345C883.3 2357.5 876.8 2394.2 870 2420C863.2 2445.8 854.2 2473.3 845 2500C835.8 2526.7 823.3 2558.3 815 2580C806.7 2601.7 798.3 2621.7 795 2630" fill="none" stroke="#2222d8" stroke-opacity="0.85" stroke-width="70" stroke-linecap="round" stroke-linejoin="round"/><path d="M800 2620C790 2636.7 760 2691.7 740 2720C720 2748.3 703.3 2770 680 2790C656.7 2810 613.3 2831.7 600 2840" fill="none" stroke="#2222d8" stroke-opacity="0.75" stroke-width="85" stroke-linecap="round" stroke-linejoin="round"/><path d="M560 2890C566.7 2903.3 587.5 2941.7 600 2970C612.5 2998.3 625 3030 635 3060C645 3090 652.5 3126.7 660 3150C667.5 3173.3 676.7 3191.7 680 3200" fill="none" stroke="#2222d8" stroke-opacity="0.95" stroke-width="135" stroke-linecap="round" stroke-linejoin="round"/><path d="M600 2530C618.3 2539.7 677.8 2571.2 710 2588C742.2 2604.8 764.8 2614.2 793 2631C821.2 2647.8 850.8 2674 879 2689C907.2 2704 933.2 2709 962 2721C990.8 2733 1028.5 2750.2 1052 2761C1075.5 2771.8 1094.5 2781.8 1103 2786" fill="none" stroke="#2222d8" stroke-opacity="0.85" stroke-width="80" stroke-linecap="round" stroke-linejoin="round"/><path d="M20 3100C35 3110 79.3 3142 110 3160C140.7 3178 171.5 3186.3 204 3208C236.5 3229.7 275.7 3266.3 305 3290C334.3 3313.7 360.8 3334.2 380 3350C399.2 3365.8 413.3 3379.2 420 3385" fill="none" stroke="#2222d8" stroke-opacity="0.95" stroke-width="105" stroke-linecap="round" stroke-linejoin="round"/><path d="M60 3060C70 3055 98.3 3039.2 120 3030C141.7 3020.8 178.3 3009.2 190 3005" fill="none" stroke="#2222d8" stroke-opacity="0.5" stroke-width="55" stroke-linecap="round" stroke-linejoin="round"/><path d="M60 2850C63.3 2866.7 75 2920 80 2950C85 2980 88.3 3016.7 90 3030" fill="none" stroke="#2222d8" stroke-opacity="0.3" stroke-width="100" stroke-linecap="round" stroke-linejoin="round"/><path d="M520 3170C524.2 3186.7 536.7 3234.2 545 3270C553.3 3305.8 565.8 3365.8 570 3385" fill="none" stroke="#2222d8" stroke-opacity="0.85" stroke-width="80" stroke-linecap="round" stroke-linejoin="round"/><path d="M900 3000C906.7 3016.7 930 3073.3 940 3100C950 3126.7 956.7 3150 960 3160" fill="none" stroke="#2222d8" stroke-opacity="0.45" stroke-width="75" stroke-linecap="round" stroke-linejoin="round"/><path d="M1060 2960C1056.7 2976.7 1048.3 3026.7 1040 3060C1031.7 3093.3 1015 3143.3 1010 3160" fill="none" stroke="#2222d8" stroke-opacity="0.45" stroke-width="75" stroke-linecap="round" stroke-linejoin="round"/><path d="M60 2850C75 2865 135 2925 150 2940" fill="none" stroke="#2222d8" stroke-opacity="0.35" stroke-width="110" stroke-linecap="round" stroke-linejoin="round"/><path d="M1190 3280C1193.3 3295 1206.7 3355 1210 3370" fill="none" stroke="#2222d8" stroke-opacity="0.5" stroke-width="60" stroke-linecap="round" stroke-linejoin="round"/><path d="M40 2860C48.3 2871.7 73.3 2906.7 90 2930C106.7 2953.3 131.7 2988.3 140 3000" fill="none" stroke="#2222d8" stroke-opacity="0.35" stroke-width="90" stroke-linecap="round" stroke-linejoin="round"/><path d="M900 2900C916.7 2913.3 970 2950 1000 2980C1030 3010 1066.7 3063.3 1080 3080" fill="none" stroke="#2222d8" stroke-opacity="0.35" stroke-width="70" stroke-linecap="round" stroke-linejoin="round"/></g><g filter="url(#fdE)"><rect x="-5" y="2260.5" width="1250" height="1146.5" fill-opacity="0.0"/><polygon points="35,2494 80,2500 150,2520 250,2535 323,2530 395,2523 500,2490 620,2440 700,2422 836,2420 860,2380 880,2336 895,2345 910,2400 930,2444 944,2588 998,2606 1050,2680 1106,2750 1110,2834 1106,3000 1110,3230 1142,3240 1150,3300 1178,3248 1210,3250 1210,3370 30,3370 30,2494" fill-opacity="0.28"/><path d="M30 2530C40 2539.2 70 2563.3 90 2585C110 2606.7 140 2647.5 150 2660" fill="none" stroke="#000" stroke-opacity="0.65" stroke-width="90" stroke-linecap="round" stroke-linejoin="round"/><path d="M886 2345C883.3 2357.5 876.8 2394.2 870 2420C863.2 2445.8 854.2 2473.3 845 2500C835.8 2526.7 823.3 2558.3 815 2580C806.7 2601.7 798.3 2621.7 795 2630" fill="none" stroke="#000" stroke-opacity="0.85" stroke-width="70" stroke-linecap="round" stroke-linejoin="round"/><path d="M800 2620C790 2636.7 760 2691.7 740 2720C720 2748.3 703.3 2770 680 2790C656.7 2810 613.3 2831.7 600 2840" fill="none" stroke="#000" stroke-opacity="0.75" stroke-width="85" stroke-linecap="round" stroke-linejoin="round"/><path d="M560 2890C566.7 2903.3 587.5 2941.7 600 2970C612.5 2998.3 625 3030 635 3060C645 3090 652.5 3126.7 660 3150C667.5 3173.3 676.7 3191.7 680 3200" fill="none" stroke="#000" stroke-opacity="0.95" stroke-width="135" stroke-linecap="round" stroke-linejoin="round"/><path d="M600 2530C618.3 2539.7 677.8 2571.2 710 2588C742.2 2604.8 764.8 2614.2 793 2631C821.2 2647.8 850.8 2674 879 2689C907.2 2704 933.2 2709 962 2721C990.8 2733 1028.5 2750.2 1052 2761C1075.5 2771.8 1094.5 2781.8 1103 2786" fill="none" stroke="#000" stroke-opacity="0.85" stroke-width="80" stroke-linecap="round" stroke-linejoin="round"/><path d="M20 3100C35 3110 79.3 3142 110 3160C140.7 3178 171.5 3186.3 204 3208C236.5 3229.7 275.7 3266.3 305 3290C334.3 3313.7 360.8 3334.2 380 3350C399.2 3365.8 413.3 3379.2 420 3385" fill="none" stroke="#000" stroke-opacity="0.95" stroke-width="105" stroke-linecap="round" stroke-linejoin="round"/><path d="M60 3060C70 3055 98.3 3039.2 120 3030C141.7 3020.8 178.3 3009.2 190 3005" fill="none" stroke="#000" stroke-opacity="0.5" stroke-width="55" stroke-linecap="round" stroke-linejoin="round"/><path d="M60 2850C63.3 2866.7 75 2920 80 2950C85 2980 88.3 3016.7 90 3030" fill="none" stroke="#000" stroke-opacity="0.3" stroke-width="100" stroke-linecap="round" stroke-linejoin="round"/><path d="M520 3170C524.2 3186.7 536.7 3234.2 545 3270C553.3 3305.8 565.8 3365.8 570 3385" fill="none" stroke="#000" stroke-opacity="0.85" stroke-width="80" stroke-linecap="round" stroke-linejoin="round"/><path d="M900 3000C906.7 3016.7 930 3073.3 940 3100C950 3126.7 956.7 3150 960 3160" fill="none" stroke="#000" stroke-opacity="0.45" stroke-width="75" stroke-linecap="round" stroke-linejoin="round"/><path d="M1060 2960C1056.7 2976.7 1048.3 3026.7 1040 3060C1031.7 3093.3 1015 3143.3 1010 3160" fill="none" stroke="#000" stroke-opacity="0.45" stroke-width="75" stroke-linecap="round" stroke-linejoin="round"/><path d="M60 2850C75 2865 135 2925 150 2940" fill="none" stroke="#000" stroke-opacity="0.35" stroke-width="110" stroke-linecap="round" stroke-linejoin="round"/><path d="M1190 3280C1193.3 3295 1206.7 3355 1210 3370" fill="none" stroke="#000" stroke-opacity="0.5" stroke-width="60" stroke-linecap="round" stroke-linejoin="round"/><path d="M40 2860C48.3 2871.7 73.3 2906.7 90 2930C106.7 2953.3 131.7 2988.3 140 3000" fill="none" stroke="#000" stroke-opacity="0.35" stroke-width="90" stroke-linecap="round" stroke-linejoin="round"/><path d="M900 2900C916.7 2913.3 970 2950 1000 2980C1030 3010 1066.7 3063.3 1080 3080" fill="none" stroke="#000" stroke-opacity="0.35" stroke-width="70" stroke-linecap="round" stroke-linejoin="round"/></g>
<rect x="1240.3" y="1197.2" width="1171" height="2.8" fill="#c8c8c8"/><rect x="1240.3" y="1200" width="2.7" height="1063.5" fill="#626262"/><rect x="1243" y="1200" width="1168" height="2.5" fill="#141414"/>
<rect x="35" y="2299.2" width="1170" height="2.8" fill="#8a8a8a"/><rect x="35" y="2302" width="1170" height="3" fill="#050505"/>
<g stroke="#000" stroke-width="4" fill="none"><path d="M1443.8 2357.5V3188.4H2374"/><path d="M1620.5 3188.4v-15M1797.2 3188.4v-15M1973.9 3188.4v-15M2150.6 3188.4v-15M2327.3 3188.4v-15M1532.1 3188.4v-9M1708.8 3188.4v-9M1885.5 3188.4v-9M2062.2 3188.4v-9M2238.9 3188.4v-9M1443.8 2951.6h15M1443.8 2714.8h15M1443.8 2478h15M1443.8 3070h9M1443.8 2833.2h9M1443.8 2596.4h9M1443.8 2359.6h9"/></g>
<path d="M1451.3 3114.4C1454.4 3112.3 1462.1 3105.2 1469.7 3101.7C1477.3 3098.2 1489.6 3095.3 1496.7 3093.2C1503.8 3091.1 1506.1 3090.7 1512.2 3089C1518.3 3087.3 1527.1 3084.7 1533.5 3083.3C1539.9 3081.9 1544.8 3081.7 1550.5 3080.5C1556.2 3079.3 1561.6 3077.6 1567.5 3076.2C1573.4 3074.8 1580.2 3073.2 1585.9 3072C1591.6 3070.8 1595.8 3070.3 1601.5 3069.1C1607.2 3067.9 1609.5 3067 1619.9 3064.9C1630.3 3062.8 1649 3059.2 1663.8 3056.4C1678.6 3053.6 1693.9 3051 1709 3047.9C1724.1 3044.8 1739.7 3041.3 1754.4 3038C1769.1 3034.7 1782.3 3031.8 1797 3028C1811.7 3024.2 1828.6 3019.1 1842.3 3015.3C1856 3011.5 1865.5 3010.1 1879 3005.4C1892.5 3000.7 1907.7 2992.6 1923 2987C1938.3 2981.4 1955.8 2978 1971 2972C1986.2 2966 1999.8 2959.1 2014 2951C2028.2 2942.9 2040.4 2935.7 2056 2923.4C2071.6 2911.1 2091.6 2894.7 2107.5 2877C2123.4 2859.3 2141 2832.8 2151.5 2817C2162 2801.2 2164.1 2796.8 2170.4 2782.5C2176.7 2768.2 2181.6 2755.6 2189.3 2731C2197 2706.4 2208.5 2666.9 2216.8 2634.8C2225.1 2602.7 2231.8 2564.4 2239 2538.6C2246.2 2512.8 2251.9 2492.9 2259.7 2480C2267.4 2467.1 2277.2 2465.3 2285.5 2461C2293.8 2456.7 2302.7 2456.9 2309.6 2454.4C2316.5 2451.9 2323.8 2447.2 2326.7 2445.8" stroke="#eccfd2" stroke-width="2.2" fill="none"/>
<path d="M2316.4 2452.6C2313 2453.2 2303.8 2454.8 2295.8 2456C2287.8 2457.2 2276.3 2458.7 2268.3 2459.5C2260.3 2460.3 2252.6 2460.8 2247.7 2461C2242.8 2461.2 2243.9 2460.1 2239 2461C2234.1 2461.9 2225.1 2463.8 2218.5 2466.4C2211.9 2469 2207.3 2466.7 2199.6 2476.7C2191.8 2486.7 2180 2501.6 2172 2526.5C2164 2551.4 2164 2575.6 2151.5 2626C2139 2676.4 2111.5 2786 2097 2829C2082.5 2872 2078.3 2866.6 2064.5 2884C2050.7 2901.4 2029.6 2920 2014 2933.7C1998.4 2947.4 1986.2 2957.5 1971 2966.4C1955.8 2975.3 1931 2983.6 1923 2987" stroke="#e2dcdc" stroke-width="2.2" fill="none"/>
<path d="M1451.3 3104.9l-9.5 17h19zM1469.7 3092.2l-9.5 17h19zM1496.7 3083.7l-9.5 17h19zM1512.2 3079.5l-9.5 17h19zM1533.5 3073.8l-9.5 17h19zM1550.5 3071l-9.5 17h19zM1567.5 3066.7l-9.5 17h19zM1585.9 3062.5l-9.5 17h19zM1601.5 3059.6l-9.5 17h19zM1619.9 3055.4l-9.5 17h19zM1663.8 3046.9l-9.5 17h19zM1709 3038.4l-9.5 17h19zM1754.4 3028.5l-9.5 17h19zM1797 3018.5l-9.5 17h19zM1842.3 3005.8l-9.5 17h19zM1879 2995.9l-9.5 17h19zM1923 2977.5l-9.5 17h19zM1971 2962.5l-9.5 17h19zM2014 2941.5l-9.5 17h19zM2056 2913.9l-9.5 17h19zM2107.5 2867.5l-9.5 17h19zM2151.5 2807.5l-9.5 17h19zM2170.4 2773l-9.5 17h19zM2189.3 2721.5l-9.5 17h19zM2216.8 2625.3l-9.5 17h19zM2239 2529.1l-9.5 17h19zM2259.7 2470.5l-9.5 17h19zM2285.5 2451.5l-9.5 17h19zM2309.6 2444.9l-9.5 17h19zM2326.7 2436.3l-9.5 17h19zM2316.4 2443.1l-9.5 17h19zM2295.8 2446.5l-9.5 17h19zM2268.3 2450l-9.5 17h19zM2247.7 2451.5l-9.5 17h19zM2239 2451.5l-9.5 17h19zM2218.5 2456.9l-9.5 17h19zM2199.6 2467.2l-9.5 17h19zM2172 2517l-9.5 17h19zM2151.5 2616.5l-9.5 17h19zM2097 2819.5l-9.5 17h19zM2064.5 2874.5l-9.5 17h19zM2014 2924.2l-9.5 17h19z" fill="none" stroke="#d8506a" stroke-width="2.1" stroke-linejoin="miter"/>
<path d="M1472.9 3174.4 L1506.5 3173 L1530.5 3171.5 L1557.7 3170 L1586.5 3169.7 L1613.7 3169.5 L1642.6 3168.5 L1669.8 3168.3 L1697 3167 L1724.2 3166 L1732.2 3166 L1751.4 3165.5 L1777 3165 L1793 3164.5 L1818.7 3164 L1828.3 3163.8 L1853.9 3163 L1883.4 3162.3 L1911 3162.3 L1938.4 3162.3 L1966 3160.5 L1993.4 3158.8 L2021 3158 L2050 3157 L2077.6 3156.4 L2106.8 3154.7 L2134.3 3153.7 L2161.8 3150.3 L2177.3 3148.5 L2203 3145 L2227 3141.7 L2234 3135.5 L2254.6 3136.5 L2264.9 3121 L2285.5 3121 L2294 3095.3 L2323.3 3078" stroke="#d4d4d4" stroke-width="2" fill="none"/>
<g fill="none" stroke="#808080" stroke-width="2.2"><rect x="1466.4" y="3167.9" width="13" height="13"/><rect x="1500" y="3166.5" width="13" height="13"/><rect x="1524" y="3165" width="13" height="13"/><rect x="1551.2" y="3163.5" width="13" height="13"/><rect x="1580" y="3163.2" width="13" height="13"/><rect x="1607.2" y="3163" width="13" height="13"/><rect x="1636.1" y="3162" width="13" height="13"/><rect x="1663.3" y="3161.8" width="13" height="13"/><rect x="1690.5" y="3160.5" width="13" height="13"/><rect x="1717.7" y="3159.5" width="13" height="13"/><rect x="1725.7" y="3159.5" width="13" height="13"/><rect x="1744.9" y="3159" width="13" height="13"/><rect x="1770.5" y="3158.5" width="13" height="13"/><rect x="1786.5" y="3158" width="13" height="13"/><rect x="1812.2" y="3157.5" width="13" height="13"/><rect x="1821.8" y="3157.3" width="13" height="13"/><rect x="1847.4" y="3156.5" width="13" height="13"/><rect x="1876.9" y="3155.8" width="13" height="13"/><rect x="1904.5" y="3155.8" width="13" height="13"/><rect x="1931.9" y="3155.8" width="13" height="13"/><rect x="1959.5" y="3154" width="13" height="13"/><rect x="1986.9" y="3152.3" width="13" height="13"/><rect x="2014.5" y="3151.5" width="13" height="13"/><rect x="2043.5" y="3150.5" width="13" height="13"/><rect x="2071.1" y="3149.9" width="13" height="13"/><rect x="2100.3" y="3148.2" width="13" height="13"/><rect x="2127.8" y="3147.2" width="13" height="13"/><rect x="2155.3" y="3143.8" width="13" height="13"/><rect x="2170.8" y="3142" width="13" height="13"/><rect x="2196.5" y="3138.5" width="13" height="13"/><rect x="2220.5" y="3135.2" width="13" height="13"/><rect x="2227.5" y="3129" width="13" height="13"/><rect x="2248.1" y="3130" width="13" height="13"/><rect x="2258.4" y="3114.5" width="13" height="13"/><rect x="2279" y="3114.5" width="13" height="13"/><rect x="2287.5" y="3088.8" width="13" height="13"/><rect x="2316.8" y="3071.5" width="13" height="13"/></g>
<path d="M1550.4 2448H1626.5" stroke="#f0d4d6" stroke-width="2.5"/>
<path d="M1587.9 2437l-9.5 17h19z" fill="none" stroke="#e07a8c" stroke-width="2"/>
<path d="M1550.4 2496H1626.5" stroke="#dcdcdc" stroke-width="2.5"/>
<rect x="1581" y="2488.5" width="13.5" height="16" fill="#fff" stroke="#9a9a9a" stroke-width="2.2"/>
<rect x="2146" y="2220" width="251" height="18.5" fill="#1a3008"/><rect x="2151.7" y="2225" width="245" height="10" fill="#72b04e"/>
<rect x="925" y="3323.4" width="248" height="17.2" fill="#0a2204"/><rect x="929.9" y="3327.5" width="243" height="9.5" fill="#7ab048"/>
<text transform="translate(83.25,152.32) scale(0.9742,1)" font-family="'Liberation Sans', sans-serif" font-weight="bold" font-size="148.94" fill="#000" xml:space="preserve">(a)</text>
<text transform="translate(627.02,250.60) scale(0.8716,1)" font-family="'Liberation Sans', sans-serif" font-weight="bold" font-size="47.25" fill="#000" xml:space="preserve">Ni-MOF@rGO</text>
<text transform="translate(627.01,308.50) scale(0.8712,1)" font-family="'Liberation Sans', sans-serif" font-weight="bold" font-size="47.39" fill="#000" xml:space="preserve">NMP reduced rGO</text>
<text transform="translate(628.27,365.60) scale(0.8956,1)" font-family="'Liberation Sans', sans-serif" font-weight="bold" font-size="45.57" fill="#000" xml:space="preserve">Graphene oxide</text>
<text transform="translate(711.26,482.10) scale(0.8620,1)" font-family="'Liberation Sans', sans-serif" font-weight="bold" font-size="47.57" fill="#000" xml:space="preserve">O 1s</text>
<text transform="translate(942.69,472.60) scale(0.8617,1)" font-family="'Liberation Sans', sans-serif" font-weight="bold" font-size="48.26" fill="#000" xml:space="preserve">Ni 2p</text>
<text transform="translate(507.29,664.80) scale(0.8506,1)" font-family="'Liberation Sans', sans-serif" font-weight="bold" font-size="47.43" fill="#000" xml:space="preserve">C 1s</text>
<text transform="translate(453.47,1132.50) scale(0.9157,1)" font-family="'Liberation Sans', sans-serif" font-weight="bold" font-size="58.26" fill="#000" xml:space="preserve">Binding energy, eV</text>
<text transform="translate(139.50,929.42) rotate(-90) scale(1,0.8773)" font-family="'Liberation Sans', sans-serif" font-weight="bold" font-size="63.10" fill="#000" xml:space="preserve">Intensity, Arb. Units</text>
<text transform="translate(1308.77,148.86) scale(0.9755,1)" font-family="'Liberation Sans', sans-serif" font-weight="bold" font-size="148.30" fill="#000" xml:space="preserve">(b)</text>
<text transform="translate(1865.77,270.00) scale(0.9742,1)" font-family="'Liberation Sans', sans-serif" font-weight="bold" font-size="57.14" fill="#000" xml:space="preserve">Graphene oxide</text>
<text transform="translate(1817.80,647.70) scale(0.8908,1)" font-family="'Liberation Sans', sans-serif" font-weight="bold" font-size="62.46" fill="#000" xml:space="preserve">Ni-MOF@rGO</text>
<text transform="translate(1630.79,1097.70) scale(0.9479,1)" font-family="'Liberation Sans', sans-serif" font-weight="bold" font-size="58.99" fill="#000" xml:space="preserve">Binding energy,  eV</text>
<text transform="translate(1272.40,795.43) rotate(-90) scale(1,0.9371)" font-family="'Liberation Sans', sans-serif" font-weight="bold" font-size="63.26" fill="#000" xml:space="preserve">Intensity, arb. Units</text>
<text transform="translate(98.91,1384.18) scale(0.9032,1)" font-family="'Liberation Sans', sans-serif" font-weight="bold" font-size="148.19" fill="#000" xml:space="preserve">(c)</text>
<text transform="translate(278.16,1529.10) scale(0.7886,1)" font-family="'Liberation Serif', serif" font-weight="bold" font-size="53.08" fill="#000" xml:space="preserve">Ni</text>
<text transform="translate(321.41,1499.70) scale(0.7418,1)" font-family="'Liberation Serif', serif" font-weight="bold" font-size="29.85" fill="#000" xml:space="preserve">2+</text>
<text transform="translate(356.23,1529.10) scale(0.7382,1)" font-family="'Liberation Serif', serif" font-weight="bold" font-size="53.08" fill="#000" xml:space="preserve">2p</text>
<text transform="translate(399.80,1548.00) scale(0.7811,1)" font-family="'Liberation Serif', serif" font-weight="bold" font-size="51.21" fill="#000" xml:space="preserve">1/2</text>
<text transform="translate(662.48,1532.00) scale(0.7553,1)" font-family="'Liberation Serif', serif" font-weight="bold" font-size="54.46" fill="#000" xml:space="preserve">Ni</text>
<text transform="translate(703.30,1502.88) scale(0.7825,1)" font-family="'Liberation Serif', serif" font-weight="bold" font-size="31.82" fill="#000" xml:space="preserve">2+</text>
<text transform="translate(738.17,1532.00) scale(0.7476,1)" font-family="'Liberation Serif', serif" font-weight="bold" font-size="54.46" fill="#000" xml:space="preserve">2p</text>
<text transform="translate(780.25,1550.90) scale(0.7796,1)" font-family="'Liberation Serif', serif" font-weight="bold" font-size="52.92" fill="#000" xml:space="preserve">3/2</text>
<text transform="translate(833.70,1462.80) scale(0.7536,1)" font-family="'Liberation Serif', serif" font-weight="bold" font-size="53.08" fill="#000" xml:space="preserve">Ni -OOH</text>
<text transform="translate(627.56,1926.50) scale(0.8382,1)" font-family="'Liberation Serif', serif" font-weight="bold" font-size="49.28" fill="#000" xml:space="preserve">satellite</text>
<text transform="translate(1018.85,1740.60) scale(0.8390,1)" font-family="'Liberation Serif', serif" font-weight="bold" font-size="49.71" fill="#000" xml:space="preserve">satellite</text>
<text transform="translate(409.59,2243.70) scale(0.8050,1)" font-family="'Liberation Serif', serif" font-weight="bold" font-size="68.77" fill="#000" xml:space="preserve">Binding Energy (eV)</text>
<text transform="translate(1299.93,1410.49) scale(0.9717,1)" font-family="'Liberation Sans', sans-serif" font-weight="bold" font-size="147.66" fill="#ffff00" stroke="#141414" stroke-width="3" paint-order="stroke" xml:space="preserve">(d)</text>
<text transform="translate(101.14,2491.38) scale(0.9734,1)" font-family="'Liberation Sans', sans-serif" font-weight="bold" font-size="149.15" fill="#ffff00" stroke="#141414" stroke-width="3" paint-order="stroke" xml:space="preserve">(e)</text>
<text transform="translate(1537.06,2733.90) scale(1.0182,1)" font-family="'Liberation Sans', sans-serif" font-weight="bold" font-size="148.09" fill="#000" xml:space="preserve">(f)</text>
<text transform="translate(1634.31,2461.30) scale(0.8132,1)" font-family="'Liberation Sans', sans-serif" font-weight="normal" font-size="41.30" fill="#222" xml:space="preserve">Ni-MOF@rGO</text>
<text transform="translate(1635.32,2510.00) scale(0.8415,1)" font-family="'Liberation Sans', sans-serif" font-weight="normal" font-size="40.00" fill="#222" xml:space="preserve">Graphene oxide</text>
<text transform="translate(1619.70,3308.90) scale(0.8438,1)" font-family="'Liberation Sans', sans-serif" font-weight="bold" font-size="62.61" fill="#000" xml:space="preserve">Relative Pressure, P/P</text>
<text transform="translate(2179.35,3334.05) scale(0.9129,1)" font-family="'Liberation Sans', sans-serif" font-weight="bold" font-size="45.07" fill="#000" xml:space="preserve">O</text>
<text transform="translate(1340.50,3142.97) rotate(-90) scale(1,0.8991)" font-family="'Liberation Sans', sans-serif" font-weight="bold" font-size="65.60" fill="#000" xml:space="preserve">Adsorbed Volume, cm</text>
<text transform="translate(181.48,1054.83) scale(0.8802,1)" font-family="'Liberation Sans', sans-serif" font-weight="bold" font-size="47.18" fill="#000" xml:space="preserve">0</text>
<text transform="translate(263.51,1054.83) scale(0.8802,1)" font-family="'Liberation Sans', sans-serif" font-weight="bold" font-size="47.18" fill="#000" xml:space="preserve">100</text>
<text transform="translate(369.83,1054.83) scale(0.8802,1)" font-family="'Liberation Sans', sans-serif" font-weight="bold" font-size="47.18" fill="#000" xml:space="preserve">200</text>
<text transform="translate(475.74,1054.83) scale(0.8802,1)" font-family="'Liberation Sans', sans-serif" font-weight="bold" font-size="47.18" fill="#000" xml:space="preserve">300</text>
<text transform="translate(581.44,1054.83) scale(0.8802,1)" font-family="'Liberation Sans', sans-serif" font-weight="bold" font-size="47.18" fill="#000" xml:space="preserve">400</text>
<text transform="translate(686.93,1054.83) scale(0.8802,1)" font-family="'Liberation Sans', sans-serif" font-weight="bold" font-size="47.18" fill="#000" xml:space="preserve">500</text>
<text transform="translate(792.42,1054.83) scale(0.8802,1)" font-family="'Liberation Sans', sans-serif" font-weight="bold" font-size="47.18" fill="#000" xml:space="preserve">600</text>
<text transform="translate(898.12,1054.83) scale(0.8802,1)" font-family="'Liberation Sans', sans-serif" font-weight="bold" font-size="47.18" fill="#000" xml:space="preserve">700</text>
<text transform="translate(1004.03,1054.83) scale(0.8802,1)" font-family="'Liberation Sans', sans-serif" font-weight="bold" font-size="47.18" fill="#000" xml:space="preserve">800</text>
<text transform="translate(1109.52,1054.83) scale(0.8802,1)" font-family="'Liberation Sans', sans-serif" font-weight="bold" font-size="47.18" fill="#000" xml:space="preserve">900</text>
<text transform="translate(1276.70,1024.05) scale(0.9754,1)" font-family="'Liberation Sans', sans-serif" font-weight="bold" font-size="45.21" fill="#000" xml:space="preserve">280</text>
<text transform="translate(1616.98,1024.05) scale(0.9754,1)" font-family="'Liberation Sans', sans-serif" font-weight="bold" font-size="45.21" fill="#000" xml:space="preserve">285</text>
<text transform="translate(1957.60,1024.05) scale(0.9754,1)" font-family="'Liberation Sans', sans-serif" font-weight="bold" font-size="45.21" fill="#000" xml:space="preserve">290</text>
<text transform="translate(2298.38,1024.05) scale(0.9754,1)" font-family="'Liberation Sans', sans-serif" font-weight="bold" font-size="45.21" fill="#000" xml:space="preserve">295</text>
<text transform="translate(155.16,2162.34) scale(0.8143,1)" font-family="'Liberation Serif', serif" font-weight="bold" font-size="52.99" fill="#000" xml:space="preserve">840</text>
<text transform="translate(350.96,2162.34) scale(0.8143,1)" font-family="'Liberation Serif', serif" font-weight="bold" font-size="52.99" fill="#000" xml:space="preserve">850</text>
<text transform="translate(546.76,2162.34) scale(0.8143,1)" font-family="'Liberation Serif', serif" font-weight="bold" font-size="52.99" fill="#000" xml:space="preserve">860</text>
<text transform="translate(742.56,2162.34) scale(0.8143,1)" font-family="'Liberation Serif', serif" font-weight="bold" font-size="52.99" fill="#000" xml:space="preserve">870</text>
<text transform="translate(938.36,2162.34) scale(0.8143,1)" font-family="'Liberation Serif', serif" font-weight="bold" font-size="52.99" fill="#000" xml:space="preserve">880</text>
<text transform="translate(1134.16,2162.34) scale(0.8143,1)" font-family="'Liberation Serif', serif" font-weight="bold" font-size="52.99" fill="#000" xml:space="preserve">890</text>
<text transform="translate(1417.46,3241.27) scale(0.8682,1)" font-family="'Liberation Sans', sans-serif" font-weight="bold" font-size="42.82" fill="#000" xml:space="preserve">0.0</text>
<text transform="translate(1594.16,3241.27) scale(0.8682,1)" font-family="'Liberation Sans', sans-serif" font-weight="bold" font-size="42.82" fill="#000" xml:space="preserve">0.2</text>
<text transform="translate(1770.12,3241.27) scale(0.8682,1)" font-family="'Liberation Sans', sans-serif" font-weight="bold" font-size="42.82" fill="#000" xml:space="preserve">0.4</text>
<text transform="translate(1947.56,3241.27) scale(0.8682,1)" font-family="'Liberation Sans', sans-serif" font-weight="bold" font-size="42.82" fill="#000" xml:space="preserve">0.6</text>
<text transform="translate(2124.08,3241.27) scale(0.8682,1)" font-family="'Liberation Sans', sans-serif" font-weight="bold" font-size="42.82" fill="#000" xml:space="preserve">0.8</text>
<text transform="translate(2300.59,3241.27) scale(0.8682,1)" font-family="'Liberation Sans', sans-serif" font-weight="bold" font-size="42.82" fill="#000" xml:space="preserve">1.0</text>
<text transform="translate(1413.03,3198.46) scale(0.8430,1)" font-family="'Liberation Sans', sans-serif" font-weight="bold" font-size="43.66" fill="#000" xml:space="preserve">0</text>
<text transform="translate(1371.80,2961.66) scale(0.8430,1)" font-family="'Liberation Sans', sans-serif" font-weight="bold" font-size="43.66" fill="#000" xml:space="preserve">200</text>
<text transform="translate(1371.80,2724.86) scale(0.8430,1)" font-family="'Liberation Sans', sans-serif" font-weight="bold" font-size="43.66" fill="#000" xml:space="preserve">400</text>
<text transform="translate(1371.80,2488.06) scale(0.8430,1)" font-family="'Liberation Sans', sans-serif" font-weight="bold" font-size="43.66" fill="#000" xml:space="preserve">600</text>
<text transform="translate(1310.30,2453.91) rotate(-90) scale(1,0.8991)" font-family="'Liberation Sans', sans-serif" font-weight="bold" font-size="65.60" fill="#000" xml:space="preserve">3</text>
<text transform="translate(1340.30,2419.62) rotate(-90) scale(1,0.8991)" font-family="'Liberation Sans', sans-serif" font-weight="bold" font-size="65.60" fill="#000" xml:space="preserve">g</text>
<text transform="translate(1310.30,2375.92) rotate(-90) scale(1,0.8991)" font-family="'Liberation Sans', sans-serif" font-weight="bold" font-size="65.60" fill="#000" xml:space="preserve">-1</text></svg></body></html>
